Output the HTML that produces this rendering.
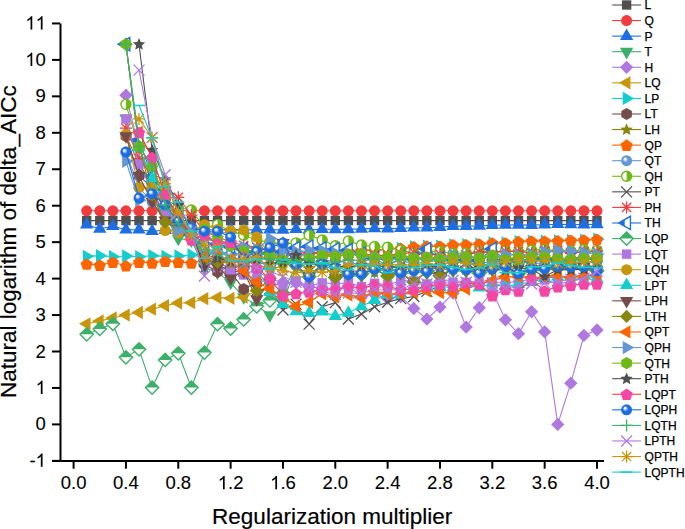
<!DOCTYPE html><html><head><meta charset="utf-8"><style>html,body{margin:0;padding:0;background:#fff;overflow:hidden}svg{display:block}</style></head><body>
<svg width="685" height="529" viewBox="0 0 685 529" font-family='"Liberation Sans", sans-serif'>
<defs>
<radialGradient id="g_steel" cx="0.5" cy="0.5" r="0.5" fx="0.32" fy="0.32"><stop offset="0" stop-color="#fff"/><stop offset="0.14" stop-color="#eef4fc"/><stop offset="0.5" stop-color="#6496D2"/><stop offset="1" stop-color="#6496D2"/></radialGradient>
<radialGradient id="g_blue" cx="0.5" cy="0.5" r="0.5" fx="0.32" fy="0.32"><stop offset="0" stop-color="#fff"/><stop offset="0.14" stop-color="#eef4fc"/><stop offset="0.5" stop-color="#1E6EE1"/><stop offset="1" stop-color="#1E6EE1"/></radialGradient>
<clipPath id="clip"><rect x="61" y="0" width="560" height="460"/></clipPath>
</defs>
<rect width="685" height="529" fill="#fff"/>
<g clip-path="url(#clip)">
<polyline fill="none" stroke="#505050" stroke-width="1.1" points="86.7,220.6 99.8,220.6 112.9,220.6 125.9,220.6 139.0,220.6 152.1,220.6 165.2,220.6 178.3,220.6 191.4,220.6 204.4,220.6 217.5,220.6 230.6,220.6 243.7,220.6 256.8,220.6 269.9,220.6 283.0,220.6 296.0,220.6 309.1,220.6 322.2,220.6 335.3,220.6 348.4,220.6 361.5,220.6 374.6,220.6 387.6,220.6 400.7,220.6 413.8,220.6 426.9,220.6 440.0,220.6 453.1,220.6 466.1,220.6 479.2,220.6 492.3,220.6 505.4,220.6 518.5,220.6 531.6,220.6 544.7,220.6 557.7,220.6 570.8,220.6 583.9,220.6 597.0,220.6"/>
<rect x="81.98" y="215.94" width="9.4" height="9.4" fill="#505050"/>
<rect x="95.07" y="215.94" width="9.4" height="9.4" fill="#505050"/>
<rect x="108.15" y="215.94" width="9.4" height="9.4" fill="#505050"/>
<rect x="121.24" y="215.94" width="9.4" height="9.4" fill="#505050"/>
<rect x="134.32" y="215.94" width="9.4" height="9.4" fill="#505050"/>
<rect x="147.41" y="215.94" width="9.4" height="9.4" fill="#505050"/>
<rect x="160.50" y="215.94" width="9.4" height="9.4" fill="#505050"/>
<rect x="173.58" y="215.94" width="9.4" height="9.4" fill="#505050"/>
<rect x="186.67" y="215.94" width="9.4" height="9.4" fill="#505050"/>
<rect x="199.75" y="215.94" width="9.4" height="9.4" fill="#505050"/>
<rect x="212.84" y="215.94" width="9.4" height="9.4" fill="#505050"/>
<rect x="225.92" y="215.94" width="9.4" height="9.4" fill="#505050"/>
<rect x="239.00" y="215.94" width="9.4" height="9.4" fill="#505050"/>
<rect x="252.09" y="215.94" width="9.4" height="9.4" fill="#505050"/>
<rect x="265.18" y="215.94" width="9.4" height="9.4" fill="#505050"/>
<rect x="278.26" y="215.94" width="9.4" height="9.4" fill="#505050"/>
<rect x="291.34" y="215.94" width="9.4" height="9.4" fill="#505050"/>
<rect x="304.43" y="215.94" width="9.4" height="9.4" fill="#505050"/>
<rect x="317.51" y="215.94" width="9.4" height="9.4" fill="#505050"/>
<rect x="330.60" y="215.94" width="9.4" height="9.4" fill="#505050"/>
<rect x="343.69" y="215.94" width="9.4" height="9.4" fill="#505050"/>
<rect x="356.77" y="215.94" width="9.4" height="9.4" fill="#505050"/>
<rect x="369.85" y="215.94" width="9.4" height="9.4" fill="#505050"/>
<rect x="382.94" y="215.94" width="9.4" height="9.4" fill="#505050"/>
<rect x="396.03" y="215.94" width="9.4" height="9.4" fill="#505050"/>
<rect x="409.11" y="215.94" width="9.4" height="9.4" fill="#505050"/>
<rect x="422.19" y="215.94" width="9.4" height="9.4" fill="#505050"/>
<rect x="435.28" y="215.94" width="9.4" height="9.4" fill="#505050"/>
<rect x="448.36" y="215.94" width="9.4" height="9.4" fill="#505050"/>
<rect x="461.45" y="215.94" width="9.4" height="9.4" fill="#505050"/>
<rect x="474.54" y="215.94" width="9.4" height="9.4" fill="#505050"/>
<rect x="487.62" y="215.94" width="9.4" height="9.4" fill="#505050"/>
<rect x="500.70" y="215.94" width="9.4" height="9.4" fill="#505050"/>
<rect x="513.79" y="215.94" width="9.4" height="9.4" fill="#505050"/>
<rect x="526.87" y="215.94" width="9.4" height="9.4" fill="#505050"/>
<rect x="539.96" y="215.94" width="9.4" height="9.4" fill="#505050"/>
<rect x="553.04" y="215.94" width="9.4" height="9.4" fill="#505050"/>
<rect x="566.13" y="215.94" width="9.4" height="9.4" fill="#505050"/>
<rect x="579.21" y="215.94" width="9.4" height="9.4" fill="#505050"/>
<rect x="592.30" y="215.94" width="9.4" height="9.4" fill="#505050"/>
<polyline fill="none" stroke="#F03C3C" stroke-width="1.1" points="86.7,210.8 99.8,210.8 112.9,210.8 125.9,210.8 139.0,210.8 152.1,210.8 165.2,210.8 178.3,210.8 191.4,210.8 204.4,210.8 217.5,210.8 230.6,210.8 243.7,210.8 256.8,210.8 269.9,210.8 283.0,210.8 296.0,210.8 309.1,210.8 322.2,210.8 335.3,210.8 348.4,210.8 361.5,210.8 374.6,210.8 387.6,210.8 400.7,210.8 413.8,210.8 426.9,210.8 440.0,210.8 453.1,210.8 466.1,210.8 479.2,210.8 492.3,210.8 505.4,210.8 518.5,210.8 531.6,210.8 544.7,210.8 557.7,210.8 570.8,210.8 583.9,210.8 597.0,210.8"/>
<circle cx="86.69" cy="210.80" r="5.5" fill="#F03C3C"/>
<circle cx="99.77" cy="210.80" r="5.5" fill="#F03C3C"/>
<circle cx="112.85" cy="210.80" r="5.5" fill="#F03C3C"/>
<circle cx="125.94" cy="210.80" r="5.5" fill="#F03C3C"/>
<circle cx="139.02" cy="210.80" r="5.5" fill="#F03C3C"/>
<circle cx="152.11" cy="210.80" r="5.5" fill="#F03C3C"/>
<circle cx="165.19" cy="210.80" r="5.5" fill="#F03C3C"/>
<circle cx="178.28" cy="210.80" r="5.5" fill="#F03C3C"/>
<circle cx="191.37" cy="210.80" r="5.5" fill="#F03C3C"/>
<circle cx="204.45" cy="210.80" r="5.5" fill="#F03C3C"/>
<circle cx="217.53" cy="210.80" r="5.5" fill="#F03C3C"/>
<circle cx="230.62" cy="210.80" r="5.5" fill="#F03C3C"/>
<circle cx="243.70" cy="210.80" r="5.5" fill="#F03C3C"/>
<circle cx="256.79" cy="210.80" r="5.5" fill="#F03C3C"/>
<circle cx="269.88" cy="210.80" r="5.5" fill="#F03C3C"/>
<circle cx="282.96" cy="210.80" r="5.5" fill="#F03C3C"/>
<circle cx="296.04" cy="210.80" r="5.5" fill="#F03C3C"/>
<circle cx="309.13" cy="210.80" r="5.5" fill="#F03C3C"/>
<circle cx="322.21" cy="210.80" r="5.5" fill="#F03C3C"/>
<circle cx="335.30" cy="210.80" r="5.5" fill="#F03C3C"/>
<circle cx="348.38" cy="210.80" r="5.5" fill="#F03C3C"/>
<circle cx="361.47" cy="210.80" r="5.5" fill="#F03C3C"/>
<circle cx="374.55" cy="210.80" r="5.5" fill="#F03C3C"/>
<circle cx="387.64" cy="210.80" r="5.5" fill="#F03C3C"/>
<circle cx="400.73" cy="210.80" r="5.5" fill="#F03C3C"/>
<circle cx="413.81" cy="210.80" r="5.5" fill="#F03C3C"/>
<circle cx="426.89" cy="210.80" r="5.5" fill="#F03C3C"/>
<circle cx="439.98" cy="210.80" r="5.5" fill="#F03C3C"/>
<circle cx="453.06" cy="210.80" r="5.5" fill="#F03C3C"/>
<circle cx="466.15" cy="210.80" r="5.5" fill="#F03C3C"/>
<circle cx="479.24" cy="210.80" r="5.5" fill="#F03C3C"/>
<circle cx="492.32" cy="210.80" r="5.5" fill="#F03C3C"/>
<circle cx="505.40" cy="210.80" r="5.5" fill="#F03C3C"/>
<circle cx="518.49" cy="210.80" r="5.5" fill="#F03C3C"/>
<circle cx="531.57" cy="210.80" r="5.5" fill="#F03C3C"/>
<circle cx="544.66" cy="210.80" r="5.5" fill="#F03C3C"/>
<circle cx="557.75" cy="210.80" r="5.5" fill="#F03C3C"/>
<circle cx="570.83" cy="210.80" r="5.5" fill="#F03C3C"/>
<circle cx="583.91" cy="210.80" r="5.5" fill="#F03C3C"/>
<circle cx="597.00" cy="210.80" r="5.5" fill="#F03C3C"/>
<polyline fill="none" stroke="#1E6EE1" stroke-width="1.1" points="86.7,224.7 99.8,229.0 112.9,226.1 125.9,229.8 139.0,229.8 152.1,231.2 165.2,230.1 178.3,230.0 191.4,229.9 204.4,229.8 217.5,229.8 230.6,229.4 243.7,230.1 256.8,229.6 269.9,229.8 283.0,229.9 296.0,229.3 309.1,229.9 322.2,229.2 335.3,229.3 348.4,229.4 361.5,228.8 374.6,228.4 387.6,228.6 400.7,228.3 413.8,227.7 426.9,227.7 440.0,227.2 453.1,226.1 466.1,226.1 479.2,225.9 492.3,225.2 505.4,225.0 518.5,224.9 531.6,225.1 544.7,224.7 557.7,224.3 570.8,224.5 583.9,224.6 597.0,224.3"/>
<path d="M86.69,216.98 L93.34,228.49 L80.03,228.49Z" fill="#1E6EE1"/>
<path d="M99.77,221.35 L106.42,232.87 L93.12,232.87Z" fill="#1E6EE1"/>
<path d="M112.85,218.43 L119.50,229.95 L106.20,229.95Z" fill="#1E6EE1"/>
<path d="M125.94,222.08 L132.59,233.60 L119.29,233.60Z" fill="#1E6EE1"/>
<path d="M139.02,222.08 L145.67,233.60 L132.37,233.60Z" fill="#1E6EE1"/>
<path d="M152.11,223.54 L158.76,235.05 L145.46,235.05Z" fill="#1E6EE1"/>
<path d="M165.19,222.44 L171.84,233.96 L158.54,233.96Z" fill="#1E6EE1"/>
<path d="M178.28,222.32 L184.93,233.84 L171.63,233.84Z" fill="#1E6EE1"/>
<path d="M191.37,222.20 L198.02,233.72 L184.72,233.72Z" fill="#1E6EE1"/>
<path d="M204.45,222.08 L211.10,233.60 L197.80,233.60Z" fill="#1E6EE1"/>
<path d="M217.53,222.08 L224.19,233.60 L210.88,233.60Z" fill="#1E6EE1"/>
<path d="M230.62,221.74 L237.27,233.26 L223.97,233.26Z" fill="#1E6EE1"/>
<path d="M243.70,222.43 L250.35,233.95 L237.05,233.95Z" fill="#1E6EE1"/>
<path d="M256.79,221.91 L263.44,233.42 L250.14,233.42Z" fill="#1E6EE1"/>
<path d="M269.88,222.08 L276.52,233.60 L263.23,233.60Z" fill="#1E6EE1"/>
<path d="M282.96,222.27 L289.61,233.78 L276.31,233.78Z" fill="#1E6EE1"/>
<path d="M296.04,221.60 L302.69,233.12 L289.39,233.12Z" fill="#1E6EE1"/>
<path d="M309.13,222.25 L315.78,233.77 L302.48,233.77Z" fill="#1E6EE1"/>
<path d="M322.21,221.56 L328.86,233.08 L315.56,233.08Z" fill="#1E6EE1"/>
<path d="M335.30,221.64 L341.95,233.16 L328.65,233.16Z" fill="#1E6EE1"/>
<path d="M348.38,221.71 L355.03,233.23 L341.74,233.23Z" fill="#1E6EE1"/>
<path d="M361.47,221.14 L368.12,232.66 L354.82,232.66Z" fill="#1E6EE1"/>
<path d="M374.55,220.72 L381.20,232.24 L367.90,232.24Z" fill="#1E6EE1"/>
<path d="M387.64,220.97 L394.29,232.48 L380.99,232.48Z" fill="#1E6EE1"/>
<path d="M400.73,220.58 L407.38,232.10 L394.08,232.10Z" fill="#1E6EE1"/>
<path d="M413.81,220.00 L420.46,231.52 L407.16,231.52Z" fill="#1E6EE1"/>
<path d="M426.89,220.00 L433.54,231.52 L420.25,231.52Z" fill="#1E6EE1"/>
<path d="M439.98,219.53 L446.63,231.04 L433.33,231.04Z" fill="#1E6EE1"/>
<path d="M453.06,218.43 L459.71,229.95 L446.41,229.95Z" fill="#1E6EE1"/>
<path d="M466.15,218.40 L472.80,229.92 L459.50,229.92Z" fill="#1E6EE1"/>
<path d="M479.24,218.21 L485.88,229.73 L472.59,229.73Z" fill="#1E6EE1"/>
<path d="M492.32,217.55 L498.97,229.07 L485.67,229.07Z" fill="#1E6EE1"/>
<path d="M505.40,217.33 L512.05,228.85 L498.75,228.85Z" fill="#1E6EE1"/>
<path d="M518.49,217.17 L525.14,228.69 L511.84,228.69Z" fill="#1E6EE1"/>
<path d="M531.57,217.39 L538.22,228.90 L524.92,228.90Z" fill="#1E6EE1"/>
<path d="M544.66,216.98 L551.31,228.49 L538.01,228.49Z" fill="#1E6EE1"/>
<path d="M557.75,216.57 L564.39,228.09 L551.10,228.09Z" fill="#1E6EE1"/>
<path d="M570.83,216.78 L577.48,228.30 L564.18,228.30Z" fill="#1E6EE1"/>
<path d="M583.91,216.90 L590.56,228.42 L577.26,228.42Z" fill="#1E6EE1"/>
<path d="M597.00,216.61 L603.65,228.13 L590.35,228.13Z" fill="#1E6EE1"/>
<polyline fill="none" stroke="#3CAF69" stroke-width="1.1" points="125.9,118.2 139.0,162.0 152.1,191.1 165.2,216.6 178.3,238.5 191.4,240.3 204.4,267.7 217.5,272.4 230.6,282.6 243.7,297.2 256.8,305.6 269.9,315.0 283.0,302.3 296.0,267.3 309.1,278.6 322.2,265.8 335.3,269.5 348.4,276.2 361.5,276.0 374.6,271.0 387.6,270.2 400.7,274.8 413.8,272.3 426.9,273.2 440.0,268.2 453.1,271.0 466.1,271.3 479.2,275.0 492.3,270.3 505.4,268.3 518.5,275.6 531.6,270.9 544.7,270.4 557.7,268.3 570.8,268.8 583.9,268.4 597.0,272.8"/>
<path d="M125.94,125.90 L119.29,114.38 L132.59,114.38Z" fill="#3CAF69"/>
<path d="M139.02,169.64 L132.37,158.12 L145.67,158.12Z" fill="#3CAF69"/>
<path d="M152.11,198.80 L145.46,187.28 L158.76,187.28Z" fill="#3CAF69"/>
<path d="M165.19,224.31 L158.54,212.80 L171.84,212.80Z" fill="#3CAF69"/>
<path d="M178.28,246.18 L171.63,234.67 L184.93,234.67Z" fill="#3CAF69"/>
<path d="M191.37,248.01 L184.72,236.49 L198.02,236.49Z" fill="#3CAF69"/>
<path d="M204.45,275.34 L197.80,263.83 L211.10,263.83Z" fill="#3CAF69"/>
<path d="M217.53,280.08 L210.88,268.56 L224.19,268.56Z" fill="#3CAF69"/>
<path d="M230.62,290.29 L223.97,278.77 L237.27,278.77Z" fill="#3CAF69"/>
<path d="M243.70,304.87 L237.05,293.35 L250.35,293.35Z" fill="#3CAF69"/>
<path d="M256.79,313.25 L250.14,301.73 L263.44,301.73Z" fill="#3CAF69"/>
<path d="M269.88,322.73 L263.23,311.21 L276.52,311.21Z" fill="#3CAF69"/>
<path d="M282.96,309.97 L276.31,298.45 L289.61,298.45Z" fill="#3CAF69"/>
<path d="M296.04,274.98 L289.39,263.46 L302.69,263.46Z" fill="#3CAF69"/>
<path d="M309.13,286.28 L302.48,274.76 L315.78,274.76Z" fill="#3CAF69"/>
<path d="M322.21,273.52 L315.56,262.00 L328.86,262.00Z" fill="#3CAF69"/>
<path d="M335.30,277.17 L328.65,265.65 L341.95,265.65Z" fill="#3CAF69"/>
<path d="M348.38,283.88 L341.74,272.36 L355.03,272.36Z" fill="#3CAF69"/>
<path d="M361.47,283.73 L354.82,272.21 L368.12,272.21Z" fill="#3CAF69"/>
<path d="M374.55,278.65 L367.90,267.13 L381.20,267.13Z" fill="#3CAF69"/>
<path d="M387.64,277.90 L380.99,266.38 L394.29,266.38Z" fill="#3CAF69"/>
<path d="M400.73,282.44 L394.08,270.92 L407.38,270.92Z" fill="#3CAF69"/>
<path d="M413.81,279.99 L407.16,268.47 L420.46,268.47Z" fill="#3CAF69"/>
<path d="M426.89,280.89 L420.25,269.38 L433.54,269.38Z" fill="#3CAF69"/>
<path d="M439.98,275.85 L433.33,264.33 L446.63,264.33Z" fill="#3CAF69"/>
<path d="M453.06,278.64 L446.41,267.12 L459.71,267.12Z" fill="#3CAF69"/>
<path d="M466.15,278.99 L459.50,267.47 L472.80,267.47Z" fill="#3CAF69"/>
<path d="M479.24,282.70 L472.59,271.18 L485.88,271.18Z" fill="#3CAF69"/>
<path d="M492.32,278.01 L485.67,266.49 L498.97,266.49Z" fill="#3CAF69"/>
<path d="M505.40,275.97 L498.75,264.45 L512.05,264.45Z" fill="#3CAF69"/>
<path d="M518.49,283.31 L511.84,271.79 L525.14,271.79Z" fill="#3CAF69"/>
<path d="M531.57,278.63 L524.92,267.11 L538.22,267.11Z" fill="#3CAF69"/>
<path d="M544.66,278.12 L538.01,266.60 L551.31,266.60Z" fill="#3CAF69"/>
<path d="M557.75,275.94 L551.10,264.43 L564.39,264.43Z" fill="#3CAF69"/>
<path d="M570.83,276.49 L564.18,264.97 L577.48,264.97Z" fill="#3CAF69"/>
<path d="M583.91,276.11 L577.26,264.59 L590.56,264.59Z" fill="#3CAF69"/>
<path d="M597.00,280.45 L590.35,268.93 L603.65,268.93Z" fill="#3CAF69"/>
<polyline fill="none" stroke="#AF78E1" stroke-width="1.1" points="125.9,95.3 139.0,147.4 152.1,183.8 165.2,213.0 178.3,227.6 191.4,231.2 204.4,260.4 217.5,264.0 230.6,267.1 243.7,273.0 256.8,271.2 269.9,278.6 283.0,283.1 296.0,282.9 309.1,286.9 322.2,288.3 335.3,289.5 348.4,285.8 361.5,296.8 374.6,294.5 387.6,298.4 400.7,296.8 413.8,308.5 426.9,319.1 440.0,307.0 453.1,293.2 466.1,327.1 479.2,307.8 492.3,291.0 505.4,319.8 518.5,333.6 531.6,311.8 544.7,331.8 557.7,424.4 570.8,383.2 583.9,335.5 597.0,330.0"/>
<path d="M125.94,88.61 L132.59,95.26 L125.94,101.91 L119.29,95.26Z" fill="#AF78E1"/>
<path d="M139.02,140.73 L145.67,147.38 L139.02,154.03 L132.37,147.38Z" fill="#AF78E1"/>
<path d="M152.11,177.18 L158.76,183.83 L152.11,190.48 L145.46,183.83Z" fill="#AF78E1"/>
<path d="M165.19,206.34 L171.84,212.99 L165.19,219.64 L158.54,212.99Z" fill="#AF78E1"/>
<path d="M178.28,220.92 L184.93,227.57 L178.28,234.22 L171.63,227.57Z" fill="#AF78E1"/>
<path d="M191.37,224.56 L198.02,231.21 L191.37,237.86 L184.72,231.21Z" fill="#AF78E1"/>
<path d="M204.45,253.72 L211.10,260.38 L204.45,267.02 L197.80,260.38Z" fill="#AF78E1"/>
<path d="M217.53,257.37 L224.19,264.02 L217.53,270.67 L210.88,264.02Z" fill="#AF78E1"/>
<path d="M230.62,260.49 L237.27,267.14 L230.62,273.79 L223.97,267.14Z" fill="#AF78E1"/>
<path d="M243.70,266.35 L250.35,273.00 L243.70,279.65 L237.05,273.00Z" fill="#AF78E1"/>
<path d="M256.79,264.53 L263.44,271.18 L256.79,277.83 L250.14,271.18Z" fill="#AF78E1"/>
<path d="M269.88,271.95 L276.52,278.60 L269.88,285.25 L263.23,278.60Z" fill="#AF78E1"/>
<path d="M282.96,276.45 L289.61,283.10 L282.96,289.75 L276.31,283.10Z" fill="#AF78E1"/>
<path d="M296.04,276.21 L302.69,282.86 L296.04,289.51 L289.39,282.86Z" fill="#AF78E1"/>
<path d="M309.13,280.22 L315.78,286.87 L309.13,293.52 L302.48,286.87Z" fill="#AF78E1"/>
<path d="M322.21,281.62 L328.86,288.27 L322.21,294.92 L315.56,288.27Z" fill="#AF78E1"/>
<path d="M335.30,282.88 L341.95,289.53 L335.30,296.18 L328.65,289.53Z" fill="#AF78E1"/>
<path d="M348.38,279.16 L355.03,285.81 L348.38,292.46 L341.74,285.81Z" fill="#AF78E1"/>
<path d="M361.47,290.13 L368.12,296.78 L361.47,303.43 L354.82,296.78Z" fill="#AF78E1"/>
<path d="M374.55,287.86 L381.20,294.51 L374.55,301.16 L367.90,294.51Z" fill="#AF78E1"/>
<path d="M387.64,291.73 L394.29,298.38 L387.64,305.03 L380.99,298.38Z" fill="#AF78E1"/>
<path d="M400.73,290.17 L407.38,296.82 L400.73,303.47 L394.08,296.82Z" fill="#AF78E1"/>
<path d="M413.81,301.84 L420.46,308.49 L413.81,315.14 L407.16,308.49Z" fill="#AF78E1"/>
<path d="M426.89,312.41 L433.54,319.06 L426.89,325.71 L420.25,319.06Z" fill="#AF78E1"/>
<path d="M439.98,300.38 L446.63,307.03 L439.98,313.68 L433.33,307.03Z" fill="#AF78E1"/>
<path d="M453.06,286.53 L459.71,293.18 L453.06,299.83 L446.41,293.18Z" fill="#AF78E1"/>
<path d="M466.15,320.43 L472.80,327.08 L466.15,333.73 L459.50,327.08Z" fill="#AF78E1"/>
<path d="M479.24,301.11 L485.88,307.76 L479.24,314.41 L472.59,307.76Z" fill="#AF78E1"/>
<path d="M492.32,284.34 L498.97,290.99 L492.32,297.64 L485.67,290.99Z" fill="#AF78E1"/>
<path d="M505.40,313.14 L512.05,319.79 L505.40,326.44 L498.75,319.79Z" fill="#AF78E1"/>
<path d="M518.49,326.99 L525.14,333.64 L518.49,340.29 L511.84,333.64Z" fill="#AF78E1"/>
<path d="M531.57,305.12 L538.22,311.77 L531.57,318.42 L524.92,311.77Z" fill="#AF78E1"/>
<path d="M544.66,325.17 L551.31,331.82 L544.66,338.47 L538.01,331.82Z" fill="#AF78E1"/>
<path d="M557.75,417.75 L564.39,424.40 L557.75,431.05 L551.10,424.40Z" fill="#AF78E1"/>
<path d="M570.83,376.56 L577.48,383.21 L570.83,389.86 L564.18,383.21Z" fill="#AF78E1"/>
<path d="M583.91,328.81 L590.56,335.46 L583.91,342.11 L577.26,335.46Z" fill="#AF78E1"/>
<path d="M597.00,323.34 L603.65,329.99 L597.00,336.64 L590.35,329.99Z" fill="#AF78E1"/>
<polyline fill="none" stroke="#C8960A" stroke-width="1.1" points="86.7,323.8 99.8,320.9 112.9,318.0 125.9,315.0 139.0,312.5 152.1,309.2 165.2,305.6 178.3,303.0 191.4,302.7 204.4,298.6 217.5,297.6 230.6,298.3 243.7,297.2 256.8,290.6 269.9,288.8 283.0,296.8 296.0,306.3 309.1,302.3 322.2,293.5 335.3,296.8 348.4,294.6 361.5,297.6 374.6,291.4 387.6,293.5 400.7,293.7 413.8,292.4 426.9,290.7 440.0,292.5 453.1,292.6 466.1,288.8 479.2,284.0 492.3,280.8 505.4,276.7 518.5,276.8 531.6,277.4 544.7,277.9 557.7,275.9 570.8,277.4 583.9,276.3 597.0,275.0"/>
<path d="M79.01,323.80 L90.52,317.15 L90.52,330.45Z" fill="#C8960A"/>
<path d="M92.09,320.88 L103.61,314.23 L103.61,327.53Z" fill="#C8960A"/>
<path d="M105.18,317.97 L116.69,311.32 L116.69,324.62Z" fill="#C8960A"/>
<path d="M118.26,315.05 L129.78,308.40 L129.78,321.70Z" fill="#C8960A"/>
<path d="M131.35,312.50 L142.86,305.85 L142.86,319.15Z" fill="#C8960A"/>
<path d="M144.43,309.22 L155.95,302.57 L155.95,315.87Z" fill="#C8960A"/>
<path d="M157.52,305.57 L169.03,298.92 L169.03,312.22Z" fill="#C8960A"/>
<path d="M170.60,303.02 L182.12,296.37 L182.12,309.67Z" fill="#C8960A"/>
<path d="M183.69,302.66 L195.20,296.01 L195.20,309.31Z" fill="#C8960A"/>
<path d="M196.77,298.65 L208.29,292.00 L208.29,305.30Z" fill="#C8960A"/>
<path d="M209.86,297.55 L221.37,290.90 L221.37,304.20Z" fill="#C8960A"/>
<path d="M222.94,298.28 L234.46,291.63 L234.46,304.93Z" fill="#C8960A"/>
<path d="M236.03,297.19 L247.54,290.54 L247.54,303.84Z" fill="#C8960A"/>
<path d="M249.11,290.63 L260.63,283.98 L260.63,297.28Z" fill="#C8960A"/>
<path d="M262.20,288.81 L273.71,282.16 L273.71,295.46Z" fill="#C8960A"/>
<path d="M275.28,296.82 L286.80,290.17 L286.80,303.47Z" fill="#C8960A"/>
<path d="M288.37,306.30 L299.88,299.65 L299.88,312.95Z" fill="#C8960A"/>
<path d="M301.45,302.29 L312.97,295.64 L312.97,308.94Z" fill="#C8960A"/>
<path d="M314.54,293.54 L326.05,286.89 L326.05,300.19Z" fill="#C8960A"/>
<path d="M327.62,296.82 L339.14,290.17 L339.14,303.47Z" fill="#C8960A"/>
<path d="M340.71,294.64 L352.22,287.99 L352.22,301.29Z" fill="#C8960A"/>
<path d="M353.79,297.55 L365.31,290.90 L365.31,304.20Z" fill="#C8960A"/>
<path d="M366.88,291.36 L378.39,284.71 L378.39,298.01Z" fill="#C8960A"/>
<path d="M379.96,293.54 L391.48,286.89 L391.48,300.19Z" fill="#C8960A"/>
<path d="M393.05,293.69 L404.56,287.04 L404.56,300.34Z" fill="#C8960A"/>
<path d="M406.13,292.40 L417.65,285.75 L417.65,299.05Z" fill="#C8960A"/>
<path d="M419.22,290.67 L430.73,284.02 L430.73,297.32Z" fill="#C8960A"/>
<path d="M432.30,292.45 L443.82,285.80 L443.82,299.10Z" fill="#C8960A"/>
<path d="M445.39,292.65 L456.90,286.00 L456.90,299.30Z" fill="#C8960A"/>
<path d="M458.47,288.81 L469.99,282.16 L469.99,295.46Z" fill="#C8960A"/>
<path d="M471.56,284.01 L483.07,277.36 L483.07,290.66Z" fill="#C8960A"/>
<path d="M484.64,280.79 L496.16,274.14 L496.16,287.44Z" fill="#C8960A"/>
<path d="M497.73,276.69 L509.24,270.04 L509.24,283.34Z" fill="#C8960A"/>
<path d="M510.81,276.78 L522.33,270.13 L522.33,283.43Z" fill="#C8960A"/>
<path d="M523.90,277.42 L535.41,270.77 L535.41,284.07Z" fill="#C8960A"/>
<path d="M536.98,277.89 L548.50,271.24 L548.50,284.54Z" fill="#C8960A"/>
<path d="M550.07,275.87 L561.58,269.22 L561.58,282.52Z" fill="#C8960A"/>
<path d="M563.15,277.41 L574.67,270.76 L574.67,284.06Z" fill="#C8960A"/>
<path d="M576.24,276.34 L587.75,269.69 L587.75,282.99Z" fill="#C8960A"/>
<path d="M589.32,274.95 L600.84,268.31 L600.84,281.60Z" fill="#C8960A"/>
<polyline fill="none" stroke="#14CDCD" stroke-width="1.1" points="86.7,256.4 99.8,255.6 112.9,256.7 125.9,256.0 139.0,256.7 152.1,255.6 165.2,256.4 178.3,256.0 191.4,254.9 204.4,253.8 217.5,253.8 230.6,254.8 243.7,253.4 256.8,254.6 269.9,253.8 283.0,255.4 296.0,255.5 309.1,253.6 322.2,253.0 335.3,252.4 348.4,251.2 361.5,250.4 374.6,250.3 387.6,248.8 400.7,248.3 413.8,246.9 426.9,246.2 440.0,246.2 453.1,244.9 466.1,244.7 479.2,244.0 492.3,243.0 505.4,243.0 518.5,241.6 531.6,241.1 544.7,241.2 557.7,240.8 570.8,240.4 583.9,240.1 597.0,239.2"/>
<path d="M94.36,256.37 L82.85,263.02 L82.85,249.72Z" fill="#14CDCD"/>
<path d="M107.45,255.64 L95.93,262.29 L95.93,248.99Z" fill="#14CDCD"/>
<path d="M120.53,256.73 L109.02,263.38 L109.02,250.08Z" fill="#14CDCD"/>
<path d="M133.62,256.00 L122.10,262.65 L122.10,249.35Z" fill="#14CDCD"/>
<path d="M146.70,256.73 L135.19,263.38 L135.19,250.08Z" fill="#14CDCD"/>
<path d="M159.79,255.64 L148.27,262.29 L148.27,248.99Z" fill="#14CDCD"/>
<path d="M172.87,256.37 L161.36,263.02 L161.36,249.72Z" fill="#14CDCD"/>
<path d="M185.96,256.00 L174.44,262.65 L174.44,249.35Z" fill="#14CDCD"/>
<path d="M199.04,254.91 L187.53,261.56 L187.53,248.26Z" fill="#14CDCD"/>
<path d="M212.13,253.81 L200.61,260.46 L200.61,247.16Z" fill="#14CDCD"/>
<path d="M225.21,253.81 L213.70,260.46 L213.70,247.16Z" fill="#14CDCD"/>
<path d="M238.30,254.82 L226.78,261.47 L226.78,248.17Z" fill="#14CDCD"/>
<path d="M251.38,253.38 L239.87,260.03 L239.87,246.73Z" fill="#14CDCD"/>
<path d="M264.47,254.59 L252.95,261.24 L252.95,247.94Z" fill="#14CDCD"/>
<path d="M277.55,253.81 L266.04,260.46 L266.04,247.16Z" fill="#14CDCD"/>
<path d="M290.64,255.40 L279.12,262.05 L279.12,248.75Z" fill="#14CDCD"/>
<path d="M303.72,255.51 L292.21,262.16 L292.21,248.86Z" fill="#14CDCD"/>
<path d="M316.81,253.57 L305.29,260.22 L305.29,246.92Z" fill="#14CDCD"/>
<path d="M329.89,253.01 L318.38,259.66 L318.38,246.36Z" fill="#14CDCD"/>
<path d="M342.98,252.36 L331.46,259.01 L331.46,245.71Z" fill="#14CDCD"/>
<path d="M356.06,251.22 L344.55,257.87 L344.55,244.57Z" fill="#14CDCD"/>
<path d="M369.15,250.42 L357.63,257.07 L357.63,243.77Z" fill="#14CDCD"/>
<path d="M382.23,250.28 L370.72,256.93 L370.72,243.63Z" fill="#14CDCD"/>
<path d="M395.32,248.80 L383.80,255.45 L383.80,242.15Z" fill="#14CDCD"/>
<path d="M408.40,248.35 L396.89,255.00 L396.89,241.70Z" fill="#14CDCD"/>
<path d="M421.49,246.89 L409.97,253.54 L409.97,240.24Z" fill="#14CDCD"/>
<path d="M434.57,246.17 L423.06,252.82 L423.06,239.52Z" fill="#14CDCD"/>
<path d="M447.66,246.18 L436.14,252.83 L436.14,239.53Z" fill="#14CDCD"/>
<path d="M460.74,244.85 L449.23,251.50 L449.23,238.20Z" fill="#14CDCD"/>
<path d="M473.83,244.70 L462.31,251.35 L462.31,238.05Z" fill="#14CDCD"/>
<path d="M486.91,244.04 L475.40,250.69 L475.40,237.39Z" fill="#14CDCD"/>
<path d="M500.00,243.00 L488.48,249.65 L488.48,236.35Z" fill="#14CDCD"/>
<path d="M513.08,242.97 L501.57,249.62 L501.57,236.32Z" fill="#14CDCD"/>
<path d="M526.17,241.59 L514.65,248.24 L514.65,234.94Z" fill="#14CDCD"/>
<path d="M539.25,241.06 L527.74,247.71 L527.74,234.41Z" fill="#14CDCD"/>
<path d="M552.34,241.23 L540.82,247.88 L540.82,234.58Z" fill="#14CDCD"/>
<path d="M565.42,240.80 L553.91,247.45 L553.91,234.15Z" fill="#14CDCD"/>
<path d="M578.51,240.39 L566.99,247.04 L566.99,233.74Z" fill="#14CDCD"/>
<path d="M591.59,240.10 L580.08,246.75 L580.08,233.45Z" fill="#14CDCD"/>
<path d="M604.68,239.23 L593.16,245.88 L593.16,232.58Z" fill="#14CDCD"/>
<polyline fill="none" stroke="#784B4B" stroke-width="1.1" points="125.9,136.1 139.0,175.8 152.1,187.5 165.2,220.3 178.3,231.2 191.4,234.9 204.4,264.0 217.5,272.0 230.6,272.0 243.7,289.2 256.8,282.2 269.9,255.6 283.0,260.4 296.0,260.8 309.1,258.6 322.2,255.6 335.3,256.5 348.4,254.7 361.5,254.2 374.6,257.8 387.6,257.3 400.7,255.6 413.8,258.6 426.9,257.8 440.0,258.9 453.1,257.9 466.1,257.5 479.2,258.3 492.3,255.8 505.4,259.6 518.5,257.4 531.6,257.2 544.7,256.7 557.7,259.0 570.8,259.6 583.9,258.3 597.0,258.2"/>
<path d="M125.94,129.98 L131.22,133.03 L131.22,139.13 L125.94,142.18 L120.66,139.13 L120.66,133.03Z" fill="#784B4B"/>
<path d="M139.02,169.71 L144.31,172.76 L144.31,178.86 L139.02,181.91 L133.74,178.86 L133.74,172.76Z" fill="#784B4B"/>
<path d="M152.11,181.37 L157.39,184.42 L157.39,190.52 L152.11,193.57 L146.83,190.52 L146.83,184.42Z" fill="#784B4B"/>
<path d="M165.19,214.18 L170.48,217.23 L170.48,223.33 L165.19,226.38 L159.91,223.33 L159.91,217.23Z" fill="#784B4B"/>
<path d="M178.28,225.11 L183.56,228.16 L183.56,234.26 L178.28,237.31 L173.00,234.26 L173.00,228.16Z" fill="#784B4B"/>
<path d="M191.37,228.76 L196.65,231.81 L196.65,237.91 L191.37,240.96 L186.08,237.91 L186.08,231.81Z" fill="#784B4B"/>
<path d="M204.45,257.92 L209.73,260.97 L209.73,267.07 L204.45,270.12 L199.17,267.07 L199.17,260.97Z" fill="#784B4B"/>
<path d="M217.53,265.94 L222.82,268.99 L222.82,275.09 L217.53,278.14 L212.25,275.09 L212.25,268.99Z" fill="#784B4B"/>
<path d="M230.62,265.94 L235.90,268.99 L235.90,275.09 L230.62,278.14 L225.34,275.09 L225.34,268.99Z" fill="#784B4B"/>
<path d="M243.70,283.07 L248.99,286.12 L248.99,292.22 L243.70,295.27 L238.42,292.22 L238.42,286.12Z" fill="#784B4B"/>
<path d="M256.79,276.14 L262.07,279.19 L262.07,285.30 L256.79,288.35 L251.51,285.30 L251.51,279.19Z" fill="#784B4B"/>
<path d="M269.88,249.54 L275.16,252.59 L275.16,258.69 L269.88,261.74 L264.59,258.69 L264.59,252.59Z" fill="#784B4B"/>
<path d="M282.96,254.28 L288.24,257.32 L288.24,263.43 L282.96,266.48 L277.68,263.43 L277.68,257.32Z" fill="#784B4B"/>
<path d="M296.04,254.66 L301.33,257.71 L301.33,263.81 L296.04,266.86 L290.76,263.81 L290.76,257.71Z" fill="#784B4B"/>
<path d="M309.13,252.45 L314.41,255.50 L314.41,261.60 L309.13,264.65 L303.85,261.60 L303.85,255.50Z" fill="#784B4B"/>
<path d="M322.21,249.54 L327.50,252.59 L327.50,258.69 L322.21,261.74 L316.93,258.69 L316.93,252.59Z" fill="#784B4B"/>
<path d="M335.30,250.35 L340.58,253.40 L340.58,259.50 L335.30,262.55 L330.02,259.50 L330.02,253.40Z" fill="#784B4B"/>
<path d="M348.38,248.57 L353.67,251.62 L353.67,257.72 L348.38,260.77 L343.10,257.72 L343.10,251.62Z" fill="#784B4B"/>
<path d="M361.47,248.08 L366.75,251.13 L366.75,257.23 L361.47,260.28 L356.19,257.23 L356.19,251.13Z" fill="#784B4B"/>
<path d="M374.55,251.72 L379.84,254.77 L379.84,260.87 L374.55,263.92 L369.27,260.87 L369.27,254.77Z" fill="#784B4B"/>
<path d="M387.64,251.19 L392.92,254.24 L392.92,260.34 L387.64,263.39 L382.36,260.34 L382.36,254.24Z" fill="#784B4B"/>
<path d="M400.73,249.47 L406.01,252.52 L406.01,258.62 L400.73,261.67 L395.44,258.62 L395.44,252.52Z" fill="#784B4B"/>
<path d="M413.81,252.46 L419.09,255.51 L419.09,261.61 L413.81,264.66 L408.53,261.61 L408.53,255.51Z" fill="#784B4B"/>
<path d="M426.89,251.69 L432.18,254.74 L432.18,260.84 L426.89,263.89 L421.61,260.84 L421.61,254.74Z" fill="#784B4B"/>
<path d="M439.98,252.85 L445.26,255.90 L445.26,262.00 L439.98,265.05 L434.70,262.00 L434.70,255.90Z" fill="#784B4B"/>
<path d="M453.06,251.75 L458.35,254.80 L458.35,260.90 L453.06,263.95 L447.78,260.90 L447.78,254.80Z" fill="#784B4B"/>
<path d="M466.15,251.36 L471.43,254.41 L471.43,260.51 L466.15,263.56 L460.87,260.51 L460.87,254.41Z" fill="#784B4B"/>
<path d="M479.24,252.23 L484.52,255.28 L484.52,261.38 L479.24,264.43 L473.95,261.38 L473.95,255.28Z" fill="#784B4B"/>
<path d="M492.32,249.72 L497.60,252.77 L497.60,258.87 L492.32,261.92 L487.04,258.87 L487.04,252.77Z" fill="#784B4B"/>
<path d="M505.40,253.49 L510.69,256.54 L510.69,262.64 L505.40,265.69 L500.12,262.64 L500.12,256.54Z" fill="#784B4B"/>
<path d="M518.49,251.32 L523.77,254.37 L523.77,260.47 L518.49,263.52 L513.21,260.47 L513.21,254.37Z" fill="#784B4B"/>
<path d="M531.57,251.07 L536.86,254.12 L536.86,260.22 L531.57,263.27 L526.29,260.22 L526.29,254.12Z" fill="#784B4B"/>
<path d="M544.66,250.62 L549.94,253.67 L549.94,259.77 L544.66,262.82 L539.38,259.77 L539.38,253.67Z" fill="#784B4B"/>
<path d="M557.75,252.85 L563.03,255.90 L563.03,262.00 L557.75,265.05 L552.46,262.00 L552.46,255.90Z" fill="#784B4B"/>
<path d="M570.83,253.49 L576.11,256.54 L576.11,262.64 L570.83,265.69 L565.55,262.64 L565.55,256.54Z" fill="#784B4B"/>
<path d="M583.91,252.19 L589.20,255.24 L589.20,261.34 L583.91,264.39 L578.63,261.34 L578.63,255.24Z" fill="#784B4B"/>
<path d="M597.00,252.09 L602.28,255.14 L602.28,261.24 L597.00,264.29 L591.72,261.24 L591.72,255.14Z" fill="#784B4B"/>
<polyline fill="none" stroke="#87870F" stroke-width="1.1" points="125.9,135.4 139.0,164.1 152.1,183.8 165.2,209.3 178.3,225.7 191.4,234.9 204.4,256.7 217.5,260.4 230.6,264.0 243.7,268.5 256.8,264.1 269.9,269.6 283.0,265.7 296.0,262.1 309.1,268.6 322.2,263.1 335.3,267.7 348.4,266.7 361.5,264.7 374.6,272.4 387.6,266.3 400.7,268.4 413.8,267.8 426.9,270.0 440.0,265.0 453.1,267.9 466.1,269.5 479.2,267.3 492.3,267.5 505.4,268.5 518.5,266.0 531.6,267.6 544.7,267.8 557.7,271.4 570.8,267.5 583.9,270.9 597.0,267.7"/>
<path d="M125.94,129.15 L127.70,133.22 L132.12,133.64 L128.79,136.58 L129.76,140.91 L125.94,138.65 L122.12,140.91 L123.09,136.58 L119.76,133.64 L124.18,133.22Z" fill="#87870F"/>
<path d="M139.02,157.95 L140.79,162.02 L145.21,162.44 L141.88,165.37 L142.85,169.71 L139.02,167.45 L135.20,169.71 L136.17,165.37 L132.84,162.44 L137.26,162.02Z" fill="#87870F"/>
<path d="M152.11,177.63 L153.87,181.70 L158.29,182.12 L154.96,185.06 L155.93,189.39 L152.11,187.13 L148.29,189.39 L149.26,185.06 L145.93,182.12 L150.35,181.70Z" fill="#87870F"/>
<path d="M165.19,203.14 L166.96,207.22 L171.38,207.64 L168.05,210.57 L169.02,214.90 L165.19,212.64 L161.37,214.90 L162.34,210.57 L159.01,207.64 L163.43,207.22Z" fill="#87870F"/>
<path d="M178.28,219.55 L180.04,223.62 L184.46,224.04 L181.13,226.97 L182.10,231.31 L178.28,229.05 L174.46,231.31 L175.43,226.97 L172.10,224.04 L176.52,223.62Z" fill="#87870F"/>
<path d="M191.37,228.66 L193.13,232.73 L197.55,233.15 L194.22,236.09 L195.19,240.42 L191.37,238.16 L187.54,240.42 L188.51,236.09 L185.18,233.15 L189.60,232.73Z" fill="#87870F"/>
<path d="M204.45,250.53 L206.21,254.60 L210.63,255.02 L207.30,257.96 L208.27,262.29 L204.45,260.03 L200.63,262.29 L201.60,257.96 L198.27,255.02 L202.69,254.60Z" fill="#87870F"/>
<path d="M217.53,254.18 L219.30,258.25 L223.72,258.67 L220.39,261.60 L221.36,265.93 L217.53,263.68 L213.71,265.93 L214.68,261.60 L211.35,258.67 L215.77,258.25Z" fill="#87870F"/>
<path d="M230.62,257.82 L232.38,261.89 L236.80,262.31 L233.47,265.25 L234.44,269.58 L230.62,267.32 L226.80,269.58 L227.77,265.25 L224.44,262.31 L228.86,261.89Z" fill="#87870F"/>
<path d="M243.70,262.28 L245.47,266.35 L249.89,266.77 L246.56,269.70 L247.53,274.04 L243.70,271.78 L239.88,274.04 L240.85,269.70 L237.52,266.77 L241.94,266.35Z" fill="#87870F"/>
<path d="M256.79,257.95 L258.55,262.02 L262.97,262.44 L259.64,265.37 L260.61,269.71 L256.79,267.45 L252.97,269.71 L253.94,265.37 L250.61,262.44 L255.03,262.02Z" fill="#87870F"/>
<path d="M269.88,263.39 L271.64,267.46 L276.06,267.88 L272.73,270.82 L273.70,275.15 L269.88,272.89 L266.05,275.15 L267.02,270.82 L263.69,267.88 L268.11,267.46Z" fill="#87870F"/>
<path d="M282.96,259.52 L284.72,263.59 L289.14,264.01 L285.81,266.95 L286.78,271.28 L282.96,269.02 L279.14,271.28 L280.11,266.95 L276.78,264.01 L281.20,263.59Z" fill="#87870F"/>
<path d="M296.04,255.93 L297.81,260.00 L302.23,260.42 L298.90,263.36 L299.87,267.69 L296.04,265.43 L292.22,267.69 L293.19,263.36 L289.86,260.42 L294.28,260.00Z" fill="#87870F"/>
<path d="M309.13,262.39 L310.89,266.46 L315.31,266.88 L311.98,269.82 L312.95,274.15 L309.13,271.89 L305.31,274.15 L306.28,269.82 L302.95,266.88 L307.37,266.46Z" fill="#87870F"/>
<path d="M322.21,256.86 L323.98,260.93 L328.40,261.35 L325.07,264.29 L326.04,268.62 L322.21,266.36 L318.39,268.62 L319.36,264.29 L316.03,261.35 L320.45,260.93Z" fill="#87870F"/>
<path d="M335.30,261.46 L337.06,265.54 L341.48,265.96 L338.15,268.89 L339.12,273.22 L335.30,270.96 L331.48,273.22 L332.45,268.89 L329.12,265.96 L333.54,265.54Z" fill="#87870F"/>
<path d="M348.38,260.46 L350.15,264.53 L354.57,264.95 L351.24,267.88 L352.21,272.22 L348.38,269.96 L344.56,272.22 L345.53,267.88 L342.20,264.95 L346.62,264.53Z" fill="#87870F"/>
<path d="M361.47,258.47 L363.23,262.54 L367.65,262.96 L364.32,265.90 L365.29,270.23 L361.47,267.97 L357.65,270.23 L358.62,265.90 L355.29,262.96 L359.71,262.54Z" fill="#87870F"/>
<path d="M374.55,266.21 L376.32,270.29 L380.74,270.71 L377.41,273.64 L378.38,277.97 L374.55,275.71 L370.73,277.97 L371.70,273.64 L368.37,270.71 L372.79,270.29Z" fill="#87870F"/>
<path d="M387.64,260.13 L389.40,264.21 L393.82,264.62 L390.49,267.56 L391.46,271.89 L387.64,269.63 L383.82,271.89 L384.79,267.56 L381.46,264.62 L385.88,264.21Z" fill="#87870F"/>
<path d="M400.73,262.23 L402.49,266.30 L406.91,266.72 L403.58,269.66 L404.55,273.99 L400.73,271.73 L396.90,273.99 L397.87,269.66 L394.54,266.72 L398.96,266.30Z" fill="#87870F"/>
<path d="M413.81,261.65 L415.57,265.72 L419.99,266.14 L416.66,269.07 L417.63,273.40 L413.81,271.15 L409.99,273.40 L410.96,269.07 L407.63,266.14 L412.05,265.72Z" fill="#87870F"/>
<path d="M426.89,263.81 L428.66,267.88 L433.08,268.30 L429.75,271.24 L430.72,275.57 L426.89,273.31 L423.07,275.57 L424.04,271.24 L420.71,268.30 L425.13,267.88Z" fill="#87870F"/>
<path d="M439.98,258.75 L441.74,262.82 L446.16,263.24 L442.83,266.18 L443.80,270.51 L439.98,268.25 L436.16,270.51 L437.13,266.18 L433.80,263.24 L438.22,262.82Z" fill="#87870F"/>
<path d="M453.06,261.75 L454.83,265.82 L459.25,266.24 L455.92,269.17 L456.89,273.51 L453.06,271.25 L449.24,273.51 L450.21,269.17 L446.88,266.24 L451.30,265.82Z" fill="#87870F"/>
<path d="M466.15,263.29 L467.91,267.36 L472.33,267.78 L469.00,270.71 L469.97,275.05 L466.15,272.79 L462.33,275.05 L463.30,270.71 L459.97,267.78 L464.39,267.36Z" fill="#87870F"/>
<path d="M479.24,261.13 L481.00,265.20 L485.42,265.62 L482.09,268.56 L483.06,272.89 L479.24,270.63 L475.41,272.89 L476.38,268.56 L473.05,265.62 L477.47,265.20Z" fill="#87870F"/>
<path d="M492.32,261.32 L494.08,265.39 L498.50,265.81 L495.17,268.75 L496.14,273.08 L492.32,270.82 L488.50,273.08 L489.47,268.75 L486.14,265.81 L490.56,265.39Z" fill="#87870F"/>
<path d="M505.40,262.34 L507.17,266.41 L511.59,266.83 L508.26,269.76 L509.23,274.09 L505.40,271.84 L501.58,274.09 L502.55,269.76 L499.22,266.83 L503.64,266.41Z" fill="#87870F"/>
<path d="M518.49,259.82 L520.25,263.89 L524.67,264.31 L521.34,267.24 L522.31,271.58 L518.49,269.32 L514.67,271.58 L515.64,267.24 L512.31,264.31 L516.73,263.89Z" fill="#87870F"/>
<path d="M531.57,261.36 L533.34,265.43 L537.76,265.85 L534.43,268.79 L535.40,273.12 L531.57,270.86 L527.75,273.12 L528.72,268.79 L525.39,265.85 L529.81,265.43Z" fill="#87870F"/>
<path d="M544.66,261.62 L546.42,265.70 L550.84,266.11 L547.51,269.05 L548.48,273.38 L544.66,271.12 L540.84,273.38 L541.81,269.05 L538.48,266.11 L542.90,265.70Z" fill="#87870F"/>
<path d="M557.75,265.17 L559.51,269.24 L563.93,269.66 L560.60,272.59 L561.57,276.92 L557.75,274.67 L553.92,276.92 L554.89,272.59 L551.56,269.66 L555.98,269.24Z" fill="#87870F"/>
<path d="M570.83,261.34 L572.59,265.41 L577.01,265.83 L573.68,268.76 L574.65,273.10 L570.83,270.84 L567.01,273.10 L567.98,268.76 L564.65,265.83 L569.07,265.41Z" fill="#87870F"/>
<path d="M583.91,264.67 L585.68,268.74 L590.10,269.16 L586.77,272.10 L587.74,276.43 L583.91,274.17 L580.09,276.43 L581.06,272.10 L577.73,269.16 L582.15,268.74Z" fill="#87870F"/>
<path d="M597.00,261.46 L598.76,265.54 L603.18,265.96 L599.85,268.89 L600.82,273.22 L597.00,270.96 L593.18,273.22 L594.15,268.89 L590.82,265.96 L595.24,265.54Z" fill="#87870F"/>
<polyline fill="none" stroke="#FF6400" stroke-width="1.1" points="86.7,264.0 99.8,265.1 112.9,262.2 125.9,265.8 139.0,262.2 152.1,262.9 165.2,261.1 178.3,262.2 191.4,262.9 204.4,260.7 217.5,259.9 230.6,259.2 243.7,258.2 256.8,257.6 269.9,256.7 283.0,255.4 296.0,255.5 309.1,253.6 322.2,253.0 335.3,252.4 348.4,251.2 361.5,250.4 374.6,250.3 387.6,248.8 400.7,248.3 413.8,246.9 426.9,246.2 440.0,246.2 453.1,244.9 466.1,244.7 479.2,244.0 492.3,243.0 505.4,243.0 518.5,241.6 531.6,241.1 544.7,241.2 557.7,240.8 570.8,240.4 583.9,240.1 597.0,239.2"/>
<path d="M86.69,258.22 L92.77,262.64 L90.45,269.80 L82.92,269.80 L80.60,262.64Z" fill="#FF6400"/>
<path d="M99.77,259.31 L105.86,263.74 L103.53,270.89 L96.01,270.89 L93.68,263.74Z" fill="#FF6400"/>
<path d="M112.85,256.40 L118.94,260.82 L116.62,267.98 L109.09,267.98 L106.77,260.82Z" fill="#FF6400"/>
<path d="M125.94,260.04 L132.03,264.46 L129.70,271.62 L122.18,271.62 L119.85,264.46Z" fill="#FF6400"/>
<path d="M139.02,256.40 L145.11,260.82 L142.79,267.98 L135.26,267.98 L132.94,260.82Z" fill="#FF6400"/>
<path d="M152.11,257.13 L158.20,261.55 L155.87,268.70 L148.35,268.70 L146.02,261.55Z" fill="#FF6400"/>
<path d="M165.19,255.30 L171.28,259.73 L168.96,266.88 L161.43,266.88 L159.11,259.73Z" fill="#FF6400"/>
<path d="M178.28,256.40 L184.37,260.82 L182.04,267.98 L174.52,267.98 L172.19,260.82Z" fill="#FF6400"/>
<path d="M191.37,257.13 L197.45,261.55 L195.13,268.70 L187.60,268.70 L185.28,261.55Z" fill="#FF6400"/>
<path d="M204.45,254.94 L210.54,259.36 L208.21,266.52 L200.69,266.52 L198.36,259.36Z" fill="#FF6400"/>
<path d="M217.53,254.14 L223.62,258.56 L221.30,265.72 L213.77,265.72 L211.45,258.56Z" fill="#FF6400"/>
<path d="M230.62,253.36 L236.71,257.78 L234.38,264.94 L226.86,264.94 L224.53,257.78Z" fill="#FF6400"/>
<path d="M243.70,252.39 L249.79,256.81 L247.47,263.97 L239.94,263.97 L237.62,256.81Z" fill="#FF6400"/>
<path d="M256.79,251.84 L262.88,256.26 L260.55,263.41 L253.03,263.41 L250.70,256.26Z" fill="#FF6400"/>
<path d="M269.88,250.93 L275.96,255.35 L273.64,262.51 L266.11,262.51 L263.79,255.35Z" fill="#FF6400"/>
<path d="M282.96,249.60 L289.05,254.02 L286.72,261.17 L279.20,261.17 L276.87,254.02Z" fill="#FF6400"/>
<path d="M296.04,249.71 L302.13,254.13 L299.81,261.29 L292.28,261.29 L289.96,254.13Z" fill="#FF6400"/>
<path d="M309.13,247.77 L315.22,252.19 L312.89,259.35 L305.37,259.35 L303.04,252.19Z" fill="#FF6400"/>
<path d="M322.21,247.21 L328.30,251.63 L325.98,258.79 L318.45,258.79 L316.13,251.63Z" fill="#FF6400"/>
<path d="M335.30,246.56 L341.39,250.98 L339.06,258.13 L331.54,258.13 L329.21,250.98Z" fill="#FF6400"/>
<path d="M348.38,245.42 L354.47,249.84 L352.15,257.00 L344.62,257.00 L342.30,249.84Z" fill="#FF6400"/>
<path d="M361.47,244.62 L367.56,249.04 L365.23,256.20 L357.71,256.20 L355.38,249.04Z" fill="#FF6400"/>
<path d="M374.55,244.48 L380.64,248.90 L378.32,256.05 L370.79,256.05 L368.47,248.90Z" fill="#FF6400"/>
<path d="M387.64,243.00 L393.73,247.42 L391.40,254.58 L383.88,254.58 L381.55,247.42Z" fill="#FF6400"/>
<path d="M400.73,242.55 L406.81,246.97 L404.49,254.12 L396.96,254.12 L394.64,246.97Z" fill="#FF6400"/>
<path d="M413.81,241.09 L419.90,245.51 L417.57,252.67 L410.05,252.67 L407.72,245.51Z" fill="#FF6400"/>
<path d="M426.89,240.37 L432.98,244.80 L430.66,251.95 L423.13,251.95 L420.81,244.80Z" fill="#FF6400"/>
<path d="M439.98,240.38 L446.07,244.80 L443.74,251.96 L436.22,251.96 L433.89,244.80Z" fill="#FF6400"/>
<path d="M453.06,239.05 L459.15,243.48 L456.83,250.63 L449.30,250.63 L446.98,243.48Z" fill="#FF6400"/>
<path d="M466.15,238.90 L472.24,243.32 L469.91,250.48 L462.39,250.48 L460.06,243.32Z" fill="#FF6400"/>
<path d="M479.24,238.24 L485.32,242.66 L483.00,249.82 L475.47,249.82 L473.15,242.66Z" fill="#FF6400"/>
<path d="M492.32,237.20 L498.41,241.62 L496.08,248.78 L488.56,248.78 L486.23,241.62Z" fill="#FF6400"/>
<path d="M505.40,237.17 L511.49,241.59 L509.17,248.75 L501.64,248.75 L499.32,241.59Z" fill="#FF6400"/>
<path d="M518.49,235.79 L524.58,240.21 L522.25,247.37 L514.73,247.37 L512.40,240.21Z" fill="#FF6400"/>
<path d="M531.57,235.26 L537.66,239.68 L535.34,246.83 L527.81,246.83 L525.49,239.68Z" fill="#FF6400"/>
<path d="M544.66,235.43 L550.75,239.86 L548.42,247.01 L540.90,247.01 L538.57,239.86Z" fill="#FF6400"/>
<path d="M557.75,235.00 L563.83,239.43 L561.51,246.58 L553.98,246.58 L551.66,239.43Z" fill="#FF6400"/>
<path d="M570.83,234.59 L576.92,239.02 L574.59,246.17 L567.07,246.17 L564.74,239.02Z" fill="#FF6400"/>
<path d="M583.91,234.30 L590.00,238.72 L587.68,245.87 L580.15,245.87 L577.83,238.72Z" fill="#FF6400"/>
<path d="M597.00,233.43 L603.09,237.86 L600.76,245.01 L593.24,245.01 L590.91,237.86Z" fill="#FF6400"/>
<polyline fill="none" stroke="#6496D2" stroke-width="1.1" points="125.9,152.1 139.0,187.5 152.1,202.1 165.2,220.3 178.3,230.5 191.4,234.9 204.4,249.4 217.5,250.9 230.6,253.9 243.7,252.8 256.8,259.6 269.9,256.7 283.0,253.2 296.0,255.4 309.1,254.6 322.2,261.7 335.3,260.4 348.4,263.0 361.5,264.3 374.6,263.1 387.6,264.5 400.7,258.7 413.8,261.6 426.9,257.6 440.0,258.1 453.1,261.7 466.1,260.4 479.2,263.3 492.3,261.7 505.4,264.5 518.5,259.1 531.6,263.1 544.7,263.4 557.7,257.0 570.8,260.9 583.9,256.5 597.0,260.4"/>
<circle cx="125.94" cy="152.12" r="5.5" fill="url(#g_steel)"/>
<circle cx="139.02" cy="187.47" r="5.5" fill="url(#g_steel)"/>
<circle cx="152.11" cy="202.05" r="5.5" fill="url(#g_steel)"/>
<circle cx="165.19" cy="220.28" r="5.5" fill="url(#g_steel)"/>
<circle cx="178.28" cy="230.49" r="5.5" fill="url(#g_steel)"/>
<circle cx="191.37" cy="234.86" r="5.5" fill="url(#g_steel)"/>
<circle cx="204.45" cy="249.44" r="5.5" fill="url(#g_steel)"/>
<circle cx="217.53" cy="250.90" r="5.5" fill="url(#g_steel)"/>
<circle cx="230.62" cy="253.90" r="5.5" fill="url(#g_steel)"/>
<circle cx="243.70" cy="252.76" r="5.5" fill="url(#g_steel)"/>
<circle cx="256.79" cy="259.57" r="5.5" fill="url(#g_steel)"/>
<circle cx="269.88" cy="256.73" r="5.5" fill="url(#g_steel)"/>
<circle cx="282.96" cy="253.23" r="5.5" fill="url(#g_steel)"/>
<circle cx="296.04" cy="255.37" r="5.5" fill="url(#g_steel)"/>
<circle cx="309.13" cy="254.55" r="5.5" fill="url(#g_steel)"/>
<circle cx="322.21" cy="261.72" r="5.5" fill="url(#g_steel)"/>
<circle cx="335.30" cy="260.38" r="5.5" fill="url(#g_steel)"/>
<circle cx="348.38" cy="263.00" r="5.5" fill="url(#g_steel)"/>
<circle cx="361.47" cy="264.27" r="5.5" fill="url(#g_steel)"/>
<circle cx="374.55" cy="263.05" r="5.5" fill="url(#g_steel)"/>
<circle cx="387.64" cy="264.54" r="5.5" fill="url(#g_steel)"/>
<circle cx="400.73" cy="258.70" r="5.5" fill="url(#g_steel)"/>
<circle cx="413.81" cy="261.55" r="5.5" fill="url(#g_steel)"/>
<circle cx="426.89" cy="257.61" r="5.5" fill="url(#g_steel)"/>
<circle cx="439.98" cy="258.09" r="5.5" fill="url(#g_steel)"/>
<circle cx="453.06" cy="261.69" r="5.5" fill="url(#g_steel)"/>
<circle cx="466.15" cy="260.38" r="5.5" fill="url(#g_steel)"/>
<circle cx="479.24" cy="263.29" r="5.5" fill="url(#g_steel)"/>
<circle cx="492.32" cy="261.71" r="5.5" fill="url(#g_steel)"/>
<circle cx="505.40" cy="264.48" r="5.5" fill="url(#g_steel)"/>
<circle cx="518.49" cy="259.08" r="5.5" fill="url(#g_steel)"/>
<circle cx="531.57" cy="263.09" r="5.5" fill="url(#g_steel)"/>
<circle cx="544.66" cy="263.45" r="5.5" fill="url(#g_steel)"/>
<circle cx="557.75" cy="256.98" r="5.5" fill="url(#g_steel)"/>
<circle cx="570.83" cy="260.93" r="5.5" fill="url(#g_steel)"/>
<circle cx="583.91" cy="256.47" r="5.5" fill="url(#g_steel)"/>
<circle cx="597.00" cy="260.38" r="5.5" fill="url(#g_steel)"/>
<polyline fill="none" stroke="#6EB914" stroke-width="1.1" points="125.9,104.4 139.0,147.4 152.1,180.2 165.2,198.4 178.3,207.5 191.4,210.1 204.4,227.6 217.5,224.7 230.6,231.2 243.7,235.2 256.8,240.3 269.9,242.1 283.0,244.0 296.0,242.9 309.1,235.2 322.2,240.0 335.3,245.8 348.4,241.1 361.5,245.1 374.6,246.5 387.6,247.3 400.7,250.2 413.8,253.1 426.9,251.4 440.0,251.6 453.1,253.5 466.1,253.1 479.2,251.5 492.3,252.4 505.4,251.0 518.5,251.6 531.6,250.4 544.7,249.4 557.7,251.1 570.8,251.0 583.9,249.8 597.0,250.5"/>
<circle cx="125.94" cy="104.37" r="5.0" fill="#fff" stroke="#6EB914" stroke-width="1.4"/><path d="M125.94,99.37 A5.0,5.0 0 0 1 125.94,109.37Z" fill="#6EB914"/>
<circle cx="139.02" cy="147.38" r="5.0" fill="#fff" stroke="#6EB914" stroke-width="1.4"/><path d="M139.02,142.38 A5.0,5.0 0 0 1 139.02,152.38Z" fill="#6EB914"/>
<circle cx="152.11" cy="180.18" r="5.0" fill="#fff" stroke="#6EB914" stroke-width="1.4"/><path d="M152.11,175.18 A5.0,5.0 0 0 1 152.11,185.18Z" fill="#6EB914"/>
<circle cx="165.19" cy="198.41" r="5.0" fill="#fff" stroke="#6EB914" stroke-width="1.4"/><path d="M165.19,193.41 A5.0,5.0 0 0 1 165.19,203.41Z" fill="#6EB914"/>
<circle cx="178.28" cy="207.52" r="5.0" fill="#fff" stroke="#6EB914" stroke-width="1.4"/><path d="M178.28,202.52 A5.0,5.0 0 0 1 178.28,212.52Z" fill="#6EB914"/>
<circle cx="191.37" cy="210.07" r="5.0" fill="#fff" stroke="#6EB914" stroke-width="1.4"/><path d="M191.37,205.07 A5.0,5.0 0 0 1 191.37,215.07Z" fill="#6EB914"/>
<circle cx="204.45" cy="227.57" r="5.0" fill="#fff" stroke="#6EB914" stroke-width="1.4"/><path d="M204.45,222.57 A5.0,5.0 0 0 1 204.45,232.57Z" fill="#6EB914"/>
<circle cx="217.53" cy="224.65" r="5.0" fill="#fff" stroke="#6EB914" stroke-width="1.4"/><path d="M217.53,219.65 A5.0,5.0 0 0 1 217.53,229.65Z" fill="#6EB914"/>
<circle cx="230.62" cy="231.21" r="5.0" fill="#fff" stroke="#6EB914" stroke-width="1.4"/><path d="M230.62,226.21 A5.0,5.0 0 0 1 230.62,236.21Z" fill="#6EB914"/>
<circle cx="243.70" cy="235.22" r="5.0" fill="#fff" stroke="#6EB914" stroke-width="1.4"/><path d="M243.70,230.22 A5.0,5.0 0 0 1 243.70,240.22Z" fill="#6EB914"/>
<circle cx="256.79" cy="240.33" r="5.0" fill="#fff" stroke="#6EB914" stroke-width="1.4"/><path d="M256.79,235.33 A5.0,5.0 0 0 1 256.79,245.33Z" fill="#6EB914"/>
<circle cx="269.88" cy="242.15" r="5.0" fill="#fff" stroke="#6EB914" stroke-width="1.4"/><path d="M269.88,237.15 A5.0,5.0 0 0 1 269.88,247.15Z" fill="#6EB914"/>
<circle cx="282.96" cy="243.97" r="5.0" fill="#fff" stroke="#6EB914" stroke-width="1.4"/><path d="M282.96,238.97 A5.0,5.0 0 0 1 282.96,248.97Z" fill="#6EB914"/>
<circle cx="296.04" cy="242.88" r="5.0" fill="#fff" stroke="#6EB914" stroke-width="1.4"/><path d="M296.04,237.88 A5.0,5.0 0 0 1 296.04,247.88Z" fill="#6EB914"/>
<circle cx="309.13" cy="235.22" r="5.0" fill="#fff" stroke="#6EB914" stroke-width="1.4"/><path d="M309.13,230.22 A5.0,5.0 0 0 1 309.13,240.22Z" fill="#6EB914"/>
<circle cx="322.21" cy="239.96" r="5.0" fill="#fff" stroke="#6EB914" stroke-width="1.4"/><path d="M322.21,234.96 A5.0,5.0 0 0 1 322.21,244.96Z" fill="#6EB914"/>
<circle cx="335.30" cy="245.79" r="5.0" fill="#fff" stroke="#6EB914" stroke-width="1.4"/><path d="M335.30,240.79 A5.0,5.0 0 0 1 335.30,250.79Z" fill="#6EB914"/>
<circle cx="348.38" cy="241.06" r="5.0" fill="#fff" stroke="#6EB914" stroke-width="1.4"/><path d="M348.38,236.06 A5.0,5.0 0 0 1 348.38,246.06Z" fill="#6EB914"/>
<circle cx="361.47" cy="245.07" r="5.0" fill="#fff" stroke="#6EB914" stroke-width="1.4"/><path d="M361.47,240.07 A5.0,5.0 0 0 1 361.47,250.07Z" fill="#6EB914"/>
<circle cx="374.55" cy="246.52" r="5.0" fill="#fff" stroke="#6EB914" stroke-width="1.4"/><path d="M374.55,241.52 A5.0,5.0 0 0 1 374.55,251.52Z" fill="#6EB914"/>
<circle cx="387.64" cy="247.25" r="5.0" fill="#fff" stroke="#6EB914" stroke-width="1.4"/><path d="M387.64,242.25 A5.0,5.0 0 0 1 387.64,252.25Z" fill="#6EB914"/>
<circle cx="400.73" cy="250.17" r="5.0" fill="#fff" stroke="#6EB914" stroke-width="1.4"/><path d="M400.73,245.17 A5.0,5.0 0 0 1 400.73,255.17Z" fill="#6EB914"/>
<circle cx="413.81" cy="253.08" r="5.0" fill="#fff" stroke="#6EB914" stroke-width="1.4"/><path d="M413.81,248.08 A5.0,5.0 0 0 1 413.81,258.08Z" fill="#6EB914"/>
<circle cx="426.89" cy="251.44" r="5.0" fill="#fff" stroke="#6EB914" stroke-width="1.4"/><path d="M426.89,246.44 A5.0,5.0 0 0 1 426.89,256.44Z" fill="#6EB914"/>
<circle cx="439.98" cy="251.63" r="5.0" fill="#fff" stroke="#6EB914" stroke-width="1.4"/><path d="M439.98,246.63 A5.0,5.0 0 0 1 439.98,256.63Z" fill="#6EB914"/>
<circle cx="453.06" cy="253.53" r="5.0" fill="#fff" stroke="#6EB914" stroke-width="1.4"/><path d="M453.06,248.53 A5.0,5.0 0 0 1 453.06,258.53Z" fill="#6EB914"/>
<circle cx="466.15" cy="253.08" r="5.0" fill="#fff" stroke="#6EB914" stroke-width="1.4"/><path d="M466.15,248.08 A5.0,5.0 0 0 1 466.15,258.08Z" fill="#6EB914"/>
<circle cx="479.24" cy="251.48" r="5.0" fill="#fff" stroke="#6EB914" stroke-width="1.4"/><path d="M479.24,246.48 A5.0,5.0 0 0 1 479.24,256.48Z" fill="#6EB914"/>
<circle cx="492.32" cy="252.36" r="5.0" fill="#fff" stroke="#6EB914" stroke-width="1.4"/><path d="M492.32,247.36 A5.0,5.0 0 0 1 492.32,257.36Z" fill="#6EB914"/>
<circle cx="505.40" cy="250.96" r="5.0" fill="#fff" stroke="#6EB914" stroke-width="1.4"/><path d="M505.40,245.96 A5.0,5.0 0 0 1 505.40,255.96Z" fill="#6EB914"/>
<circle cx="518.49" cy="251.61" r="5.0" fill="#fff" stroke="#6EB914" stroke-width="1.4"/><path d="M518.49,246.61 A5.0,5.0 0 0 1 518.49,256.61Z" fill="#6EB914"/>
<circle cx="531.57" cy="250.38" r="5.0" fill="#fff" stroke="#6EB914" stroke-width="1.4"/><path d="M531.57,245.38 A5.0,5.0 0 0 1 531.57,255.38Z" fill="#6EB914"/>
<circle cx="544.66" cy="249.44" r="5.0" fill="#fff" stroke="#6EB914" stroke-width="1.4"/><path d="M544.66,244.44 A5.0,5.0 0 0 1 544.66,254.44Z" fill="#6EB914"/>
<circle cx="557.75" cy="251.07" r="5.0" fill="#fff" stroke="#6EB914" stroke-width="1.4"/><path d="M557.75,246.07 A5.0,5.0 0 0 1 557.75,256.07Z" fill="#6EB914"/>
<circle cx="570.83" cy="251.02" r="5.0" fill="#fff" stroke="#6EB914" stroke-width="1.4"/><path d="M570.83,246.02 A5.0,5.0 0 0 1 570.83,256.02Z" fill="#6EB914"/>
<circle cx="583.91" cy="249.82" r="5.0" fill="#fff" stroke="#6EB914" stroke-width="1.4"/><path d="M583.91,244.82 A5.0,5.0 0 0 1 583.91,254.82Z" fill="#6EB914"/>
<circle cx="597.00" cy="250.53" r="5.0" fill="#fff" stroke="#6EB914" stroke-width="1.4"/><path d="M597.00,245.53 A5.0,5.0 0 0 1 597.00,255.53Z" fill="#6EB914"/>
<polyline fill="none" stroke="#505050" stroke-width="1.1" points="139.0,169.2 152.1,183.8 165.2,194.8 178.3,220.3 191.4,231.2 204.4,260.4 217.5,264.0 230.6,272.0 243.7,270.9 256.8,290.6 269.9,288.8 283.0,309.9 296.0,304.1 309.1,324.2 322.2,306.7 335.3,302.7 348.4,319.1 361.5,314.0 374.6,306.7 387.6,302.3 400.7,298.6 413.8,296.5 426.9,291.4 440.0,285.9 453.1,261.5 466.1,263.3 479.2,264.9 492.3,264.7 505.4,261.9 518.5,260.3 531.6,260.6 544.7,260.6 557.7,263.3 570.8,262.9 583.9,262.2 597.0,261.1"/>
<path d="M133.52,163.75 L144.52,174.75 M133.52,174.75 L144.52,163.75" stroke="#505050" stroke-width="1.3" fill="none"/>
<path d="M146.61,178.33 L157.61,189.33 M146.61,189.33 L157.61,178.33" stroke="#505050" stroke-width="1.3" fill="none"/>
<path d="M159.69,189.26 L170.69,200.26 M159.69,200.26 L170.69,189.26" stroke="#505050" stroke-width="1.3" fill="none"/>
<path d="M172.78,214.78 L183.78,225.78 M172.78,225.78 L183.78,214.78" stroke="#505050" stroke-width="1.3" fill="none"/>
<path d="M185.87,225.71 L196.87,236.71 M185.87,236.71 L196.87,225.71" stroke="#505050" stroke-width="1.3" fill="none"/>
<path d="M198.95,254.88 L209.95,265.88 M198.95,265.88 L209.95,254.88" stroke="#505050" stroke-width="1.3" fill="none"/>
<path d="M212.03,258.52 L223.03,269.52 M212.03,269.52 L223.03,258.52" stroke="#505050" stroke-width="1.3" fill="none"/>
<path d="M225.12,266.54 L236.12,277.54 M225.12,277.54 L236.12,266.54" stroke="#505050" stroke-width="1.3" fill="none"/>
<path d="M238.20,265.45 L249.20,276.45 M238.20,276.45 L249.20,265.45" stroke="#505050" stroke-width="1.3" fill="none"/>
<path d="M251.29,285.13 L262.29,296.13 M251.29,296.13 L262.29,285.13" stroke="#505050" stroke-width="1.3" fill="none"/>
<path d="M264.38,283.31 L275.38,294.31 M264.38,294.31 L275.38,283.31" stroke="#505050" stroke-width="1.3" fill="none"/>
<path d="M277.46,304.45 L288.46,315.45 M277.46,315.45 L288.46,304.45" stroke="#505050" stroke-width="1.3" fill="none"/>
<path d="M290.54,298.62 L301.54,309.62 M290.54,309.62 L301.54,298.62" stroke="#505050" stroke-width="1.3" fill="none"/>
<path d="M303.63,318.66 L314.63,329.66 M303.63,329.66 L314.63,318.66" stroke="#505050" stroke-width="1.3" fill="none"/>
<path d="M316.71,301.17 L327.71,312.17 M316.71,312.17 L327.71,301.17" stroke="#505050" stroke-width="1.3" fill="none"/>
<path d="M329.80,297.16 L340.80,308.16 M329.80,308.16 L340.80,297.16" stroke="#505050" stroke-width="1.3" fill="none"/>
<path d="M342.88,313.56 L353.88,324.56 M342.88,324.56 L353.88,313.56" stroke="#505050" stroke-width="1.3" fill="none"/>
<path d="M355.97,308.46 L366.97,319.46 M355.97,319.46 L366.97,308.46" stroke="#505050" stroke-width="1.3" fill="none"/>
<path d="M369.05,301.17 L380.05,312.17 M369.05,312.17 L380.05,301.17" stroke="#505050" stroke-width="1.3" fill="none"/>
<path d="M382.14,296.79 L393.14,307.79 M382.14,307.79 L393.14,296.79" stroke="#505050" stroke-width="1.3" fill="none"/>
<path d="M395.23,293.15 L406.23,304.15 M395.23,304.15 L406.23,293.15" stroke="#505050" stroke-width="1.3" fill="none"/>
<path d="M408.31,290.96 L419.31,301.96 M408.31,301.96 L419.31,290.96" stroke="#505050" stroke-width="1.3" fill="none"/>
<path d="M421.39,285.86 L432.39,296.86 M421.39,296.86 L432.39,285.86" stroke="#505050" stroke-width="1.3" fill="none"/>
<path d="M434.48,280.39 L445.48,291.39 M434.48,291.39 L445.48,280.39" stroke="#505050" stroke-width="1.3" fill="none"/>
<path d="M447.56,256.04 L458.56,267.04 M447.56,267.04 L458.56,256.04" stroke="#505050" stroke-width="1.3" fill="none"/>
<path d="M460.65,257.79 L471.65,268.79 M460.65,268.79 L471.65,257.79" stroke="#505050" stroke-width="1.3" fill="none"/>
<path d="M473.74,259.44 L484.74,270.44 M473.74,270.44 L484.74,259.44" stroke="#505050" stroke-width="1.3" fill="none"/>
<path d="M486.82,259.24 L497.82,270.24 M486.82,270.24 L497.82,259.24" stroke="#505050" stroke-width="1.3" fill="none"/>
<path d="M499.90,256.37 L510.90,267.37 M499.90,267.37 L510.90,256.37" stroke="#505050" stroke-width="1.3" fill="none"/>
<path d="M512.99,254.80 L523.99,265.80 M512.99,265.80 L523.99,254.80" stroke="#505050" stroke-width="1.3" fill="none"/>
<path d="M526.07,255.12 L537.07,266.12 M526.07,266.12 L537.07,255.12" stroke="#505050" stroke-width="1.3" fill="none"/>
<path d="M539.16,255.06 L550.16,266.06 M539.16,266.06 L550.16,255.06" stroke="#505050" stroke-width="1.3" fill="none"/>
<path d="M552.25,257.79 L563.25,268.79 M552.25,268.79 L563.25,257.79" stroke="#505050" stroke-width="1.3" fill="none"/>
<path d="M565.33,257.36 L576.33,268.36 M565.33,268.36 L576.33,257.36" stroke="#505050" stroke-width="1.3" fill="none"/>
<path d="M578.41,256.72 L589.41,267.72 M578.41,267.72 L589.41,256.72" stroke="#505050" stroke-width="1.3" fill="none"/>
<path d="M591.50,255.60 L602.50,266.60 M591.50,266.60 L602.50,255.60" stroke="#505050" stroke-width="1.3" fill="none"/>
<polyline fill="none" stroke="#F03C3C" stroke-width="1.1" points="125.9,128.1 139.0,158.3 152.1,176.5 165.2,187.5 178.3,197.3 191.4,215.2 204.4,231.2 217.5,236.7 230.6,242.1 243.7,245.3 256.8,247.2 269.9,250.0 283.0,253.1 296.0,253.3 309.1,252.8 322.2,252.5 335.3,256.0 348.4,254.9 361.5,254.0 374.6,255.3 387.6,255.7 400.7,253.5 413.8,252.5 426.9,254.8 440.0,254.4 453.1,257.6 466.1,254.9 479.2,251.9 492.3,252.3 505.4,251.4 518.5,251.3 531.6,253.2 544.7,250.8 557.7,250.6 570.8,253.3 583.9,251.8 597.0,251.3"/>
<path d="M119.94,128.06 L131.94,128.06 M125.94,122.06 L125.94,134.06 M121.34,123.46 L130.54,132.66 M121.34,132.66 L130.54,123.46" stroke="#F03C3C" stroke-width="1.3" fill="none"/>
<path d="M133.02,158.31 L145.02,158.31 M139.02,152.31 L139.02,164.31 M134.42,153.71 L143.62,162.91 M134.42,162.91 L143.62,153.71" stroke="#F03C3C" stroke-width="1.3" fill="none"/>
<path d="M146.11,176.54 L158.11,176.54 M152.11,170.54 L152.11,182.54 M147.51,171.94 L156.71,181.14 M147.51,181.14 L156.71,171.94" stroke="#F03C3C" stroke-width="1.3" fill="none"/>
<path d="M159.19,187.47 L171.19,187.47 M165.19,181.47 L165.19,193.47 M160.59,182.87 L169.79,192.07 M160.59,192.07 L169.79,182.87" stroke="#F03C3C" stroke-width="1.3" fill="none"/>
<path d="M172.28,197.32 L184.28,197.32 M178.28,191.32 L178.28,203.32 M173.68,192.72 L182.88,201.92 M173.68,201.92 L182.88,192.72" stroke="#F03C3C" stroke-width="1.3" fill="none"/>
<path d="M185.37,215.18 L197.37,215.18 M191.37,209.18 L191.37,221.18 M186.77,210.58 L195.97,219.78 M186.77,219.78 L195.97,210.58" stroke="#F03C3C" stroke-width="1.3" fill="none"/>
<path d="M198.45,231.21 L210.45,231.21 M204.45,225.21 L204.45,237.21 M199.85,226.61 L209.05,235.81 M199.85,235.81 L209.05,226.61" stroke="#F03C3C" stroke-width="1.3" fill="none"/>
<path d="M211.53,236.68 L223.53,236.68 M217.53,230.68 L217.53,242.68 M212.94,232.08 L222.13,241.28 M212.94,241.28 L222.13,232.08" stroke="#F03C3C" stroke-width="1.3" fill="none"/>
<path d="M224.62,242.15 L236.62,242.15 M230.62,236.15 L230.62,248.15 M226.02,237.55 L235.22,246.75 M226.02,246.75 L235.22,237.55" stroke="#F03C3C" stroke-width="1.3" fill="none"/>
<path d="M237.70,245.34 L249.70,245.34 M243.70,239.34 L243.70,251.34 M239.10,240.74 L248.30,249.94 M239.10,249.94 L248.30,240.74" stroke="#F03C3C" stroke-width="1.3" fill="none"/>
<path d="M250.79,247.24 L262.79,247.24 M256.79,241.24 L256.79,253.24 M252.19,242.64 L261.39,251.84 M252.19,251.84 L261.39,242.64" stroke="#F03C3C" stroke-width="1.3" fill="none"/>
<path d="M263.88,250.01 L275.88,250.01 M269.88,244.01 L269.88,256.01 M265.27,245.41 L274.48,254.61 M265.27,254.61 L274.48,245.41" stroke="#F03C3C" stroke-width="1.3" fill="none"/>
<path d="M276.96,253.08 L288.96,253.08 M282.96,247.08 L282.96,259.08 M278.36,248.48 L287.56,257.68 M278.36,257.68 L287.56,248.48" stroke="#F03C3C" stroke-width="1.3" fill="none"/>
<path d="M290.04,253.30 L302.04,253.30 M296.04,247.30 L296.04,259.30 M291.44,248.70 L300.64,257.90 M291.44,257.90 L300.64,248.70" stroke="#F03C3C" stroke-width="1.3" fill="none"/>
<path d="M303.13,252.79 L315.13,252.79 M309.13,246.79 L309.13,258.79 M304.53,248.19 L313.73,257.39 M304.53,257.39 L313.73,248.19" stroke="#F03C3C" stroke-width="1.3" fill="none"/>
<path d="M316.21,252.55 L328.21,252.55 M322.21,246.55 L322.21,258.55 M317.61,247.95 L326.81,257.15 M317.61,257.15 L326.81,247.95" stroke="#F03C3C" stroke-width="1.3" fill="none"/>
<path d="M329.30,256.00 L341.30,256.00 M335.30,250.00 L335.30,262.00 M330.70,251.40 L339.90,260.60 M330.70,260.60 L339.90,251.40" stroke="#F03C3C" stroke-width="1.3" fill="none"/>
<path d="M342.38,254.88 L354.38,254.88 M348.38,248.88 L348.38,260.88 M343.78,250.28 L352.99,259.48 M343.78,259.48 L352.99,250.28" stroke="#F03C3C" stroke-width="1.3" fill="none"/>
<path d="M355.47,253.98 L367.47,253.98 M361.47,247.98 L361.47,259.98 M356.87,249.38 L366.07,258.58 M356.87,258.58 L366.07,249.38" stroke="#F03C3C" stroke-width="1.3" fill="none"/>
<path d="M368.55,255.26 L380.55,255.26 M374.55,249.26 L374.55,261.26 M369.95,250.66 L379.15,259.86 M369.95,259.86 L379.15,250.66" stroke="#F03C3C" stroke-width="1.3" fill="none"/>
<path d="M381.64,255.73 L393.64,255.73 M387.64,249.73 L387.64,261.73 M383.04,251.13 L392.24,260.33 M383.04,260.33 L392.24,251.13" stroke="#F03C3C" stroke-width="1.3" fill="none"/>
<path d="M394.73,253.48 L406.73,253.48 M400.73,247.48 L400.73,259.48 M396.12,248.88 L405.33,258.08 M396.12,258.08 L405.33,248.88" stroke="#F03C3C" stroke-width="1.3" fill="none"/>
<path d="M407.81,252.45 L419.81,252.45 M413.81,246.45 L413.81,258.45 M409.21,247.85 L418.41,257.05 M409.21,257.05 L418.41,247.85" stroke="#F03C3C" stroke-width="1.3" fill="none"/>
<path d="M420.89,254.81 L432.89,254.81 M426.89,248.81 L426.89,260.81 M422.29,250.21 L431.50,259.41 M422.29,259.41 L431.50,250.21" stroke="#F03C3C" stroke-width="1.3" fill="none"/>
<path d="M433.98,254.36 L445.98,254.36 M439.98,248.36 L439.98,260.36 M435.38,249.76 L444.58,258.96 M435.38,258.96 L444.58,249.76" stroke="#F03C3C" stroke-width="1.3" fill="none"/>
<path d="M447.06,257.57 L459.06,257.57 M453.06,251.57 L453.06,263.57 M448.46,252.97 L457.66,262.17 M448.46,262.17 L457.66,252.97" stroke="#F03C3C" stroke-width="1.3" fill="none"/>
<path d="M460.15,254.91 L472.15,254.91 M466.15,248.91 L466.15,260.91 M461.55,250.31 L470.75,259.51 M461.55,259.51 L470.75,250.31" stroke="#F03C3C" stroke-width="1.3" fill="none"/>
<path d="M473.24,251.88 L485.24,251.88 M479.24,245.88 L479.24,257.88 M474.63,247.28 L483.84,256.48 M474.63,256.48 L483.84,247.28" stroke="#F03C3C" stroke-width="1.3" fill="none"/>
<path d="M486.32,252.26 L498.32,252.26 M492.32,246.26 L492.32,258.26 M487.72,247.66 L496.92,256.86 M487.72,256.86 L496.92,247.66" stroke="#F03C3C" stroke-width="1.3" fill="none"/>
<path d="M499.40,251.39 L511.40,251.39 M505.40,245.39 L505.40,257.39 M500.80,246.79 L510.00,255.99 M500.80,255.99 L510.00,246.79" stroke="#F03C3C" stroke-width="1.3" fill="none"/>
<path d="M512.49,251.26 L524.49,251.26 M518.49,245.26 L518.49,257.26 M513.89,246.66 L523.09,255.86 M513.89,255.86 L523.09,246.66" stroke="#F03C3C" stroke-width="1.3" fill="none"/>
<path d="M525.57,253.22 L537.57,253.22 M531.57,247.22 L531.57,259.22 M526.97,248.62 L536.17,257.82 M526.97,257.82 L536.17,248.62" stroke="#F03C3C" stroke-width="1.3" fill="none"/>
<path d="M538.66,250.79 L550.66,250.79 M544.66,244.79 L544.66,256.79 M540.06,246.19 L549.26,255.39 M540.06,255.39 L549.26,246.19" stroke="#F03C3C" stroke-width="1.3" fill="none"/>
<path d="M551.75,250.64 L563.75,250.64 M557.75,244.64 L557.75,256.64 M553.14,246.04 L562.35,255.24 M553.14,255.24 L562.35,246.04" stroke="#F03C3C" stroke-width="1.3" fill="none"/>
<path d="M564.83,253.26 L576.83,253.26 M570.83,247.26 L570.83,259.26 M566.23,248.66 L575.43,257.86 M566.23,257.86 L575.43,248.66" stroke="#F03C3C" stroke-width="1.3" fill="none"/>
<path d="M577.91,251.78 L589.91,251.78 M583.91,245.78 L583.91,257.78 M579.31,247.18 L588.51,256.38 M579.31,256.38 L588.51,247.18" stroke="#F03C3C" stroke-width="1.3" fill="none"/>
<path d="M591.00,251.26 L603.00,251.26 M597.00,245.26 L597.00,257.26 M592.40,246.66 L601.60,255.86 M592.40,255.86 L601.60,246.66" stroke="#F03C3C" stroke-width="1.3" fill="none"/>
<polyline fill="none" stroke="#1E6EE1" stroke-width="1.1" points="125.9,44.2 139.0,140.1 152.1,176.5 165.2,205.7 178.3,223.9 191.4,234.9 204.4,242.1 217.5,244.3 230.6,246.8 243.7,249.6 256.8,251.8 269.9,253.1 283.0,251.6 296.0,248.0 309.1,246.5 322.2,248.5 335.3,249.3 348.4,250.2 361.5,253.8 374.6,258.6 387.6,258.4 400.7,257.3 413.8,258.6 426.9,249.1 440.0,258.6 453.1,259.2 466.1,260.0 479.2,260.4 492.3,249.1 505.4,260.4 518.5,259.8 531.6,260.7 544.7,258.4 557.7,259.7 570.8,259.4 583.9,258.3 597.0,258.6"/>
<path d="M118.26,44.23 L129.78,37.58 L129.78,50.88Z" fill="#fff" stroke="#1E6EE1" stroke-width="1.4"/><path d="M118.26,44.23 L124.02,40.90 L124.02,47.55Z" fill="#1E6EE1"/>
<path d="M131.35,140.09 L142.86,133.44 L142.86,146.74Z" fill="#fff" stroke="#1E6EE1" stroke-width="1.4"/><path d="M131.35,140.09 L137.11,136.76 L137.11,143.41Z" fill="#1E6EE1"/>
<path d="M144.43,176.54 L155.95,169.89 L155.95,183.19Z" fill="#fff" stroke="#1E6EE1" stroke-width="1.4"/><path d="M144.43,176.54 L150.19,173.21 L150.19,179.86Z" fill="#1E6EE1"/>
<path d="M157.52,205.70 L169.03,199.05 L169.03,212.35Z" fill="#fff" stroke="#1E6EE1" stroke-width="1.4"/><path d="M157.52,205.70 L163.28,202.37 L163.28,209.02Z" fill="#1E6EE1"/>
<path d="M170.60,223.92 L182.12,217.27 L182.12,230.57Z" fill="#fff" stroke="#1E6EE1" stroke-width="1.4"/><path d="M170.60,223.92 L176.36,220.60 L176.36,227.25Z" fill="#1E6EE1"/>
<path d="M183.69,234.86 L195.20,228.21 L195.20,241.51Z" fill="#fff" stroke="#1E6EE1" stroke-width="1.4"/><path d="M183.69,234.86 L189.45,231.53 L189.45,238.18Z" fill="#1E6EE1"/>
<path d="M196.77,242.15 L208.29,235.50 L208.29,248.80Z" fill="#fff" stroke="#1E6EE1" stroke-width="1.4"/><path d="M196.77,242.15 L202.53,238.82 L202.53,245.47Z" fill="#1E6EE1"/>
<path d="M209.86,244.34 L221.37,237.69 L221.37,250.99Z" fill="#fff" stroke="#1E6EE1" stroke-width="1.4"/><path d="M209.86,244.34 L215.62,241.01 L215.62,247.66Z" fill="#1E6EE1"/>
<path d="M222.94,246.80 L234.46,240.15 L234.46,253.45Z" fill="#fff" stroke="#1E6EE1" stroke-width="1.4"/><path d="M222.94,246.80 L228.70,243.48 L228.70,250.13Z" fill="#1E6EE1"/>
<path d="M236.03,249.59 L247.54,242.94 L247.54,256.24Z" fill="#fff" stroke="#1E6EE1" stroke-width="1.4"/><path d="M236.03,249.59 L241.79,246.26 L241.79,252.91Z" fill="#1E6EE1"/>
<path d="M249.11,251.83 L260.63,245.18 L260.63,258.48Z" fill="#fff" stroke="#1E6EE1" stroke-width="1.4"/><path d="M249.11,251.83 L254.87,248.51 L254.87,255.16Z" fill="#1E6EE1"/>
<path d="M262.20,253.08 L273.71,246.43 L273.71,259.73Z" fill="#fff" stroke="#1E6EE1" stroke-width="1.4"/><path d="M262.20,253.08 L267.96,249.76 L267.96,256.41Z" fill="#1E6EE1"/>
<path d="M275.28,251.63 L286.80,244.98 L286.80,258.28Z" fill="#fff" stroke="#1E6EE1" stroke-width="1.4"/><path d="M275.28,251.63 L281.04,248.31 L281.04,254.96Z" fill="#1E6EE1"/>
<path d="M288.37,247.95 L299.88,241.30 L299.88,254.60Z" fill="#fff" stroke="#1E6EE1" stroke-width="1.4"/><path d="M288.37,247.95 L294.13,244.63 L294.13,251.28Z" fill="#1E6EE1"/>
<path d="M301.45,246.52 L312.97,239.87 L312.97,253.17Z" fill="#fff" stroke="#1E6EE1" stroke-width="1.4"/><path d="M301.45,246.52 L307.21,243.20 L307.21,249.85Z" fill="#1E6EE1"/>
<path d="M314.54,248.46 L326.05,241.81 L326.05,255.11Z" fill="#fff" stroke="#1E6EE1" stroke-width="1.4"/><path d="M314.54,248.46 L320.30,245.14 L320.30,251.79Z" fill="#1E6EE1"/>
<path d="M327.62,249.29 L339.14,242.64 L339.14,255.94Z" fill="#fff" stroke="#1E6EE1" stroke-width="1.4"/><path d="M327.62,249.29 L333.38,245.97 L333.38,252.62Z" fill="#1E6EE1"/>
<path d="M340.71,250.17 L352.22,243.52 L352.22,256.82Z" fill="#fff" stroke="#1E6EE1" stroke-width="1.4"/><path d="M340.71,250.17 L346.47,246.84 L346.47,253.49Z" fill="#1E6EE1"/>
<path d="M353.79,253.82 L365.31,247.17 L365.31,260.47Z" fill="#fff" stroke="#1E6EE1" stroke-width="1.4"/><path d="M353.79,253.82 L359.55,250.50 L359.55,257.15Z" fill="#1E6EE1"/>
<path d="M366.88,258.55 L378.39,251.90 L378.39,265.20Z" fill="#fff" stroke="#1E6EE1" stroke-width="1.4"/><path d="M366.88,258.55 L372.64,255.23 L372.64,261.88Z" fill="#1E6EE1"/>
<path d="M379.96,258.44 L391.48,251.79 L391.48,265.09Z" fill="#fff" stroke="#1E6EE1" stroke-width="1.4"/><path d="M379.96,258.44 L385.72,255.11 L385.72,261.76Z" fill="#1E6EE1"/>
<path d="M393.05,257.27 L404.56,250.62 L404.56,263.92Z" fill="#fff" stroke="#1E6EE1" stroke-width="1.4"/><path d="M393.05,257.27 L398.81,253.95 L398.81,260.60Z" fill="#1E6EE1"/>
<path d="M406.13,258.55 L417.65,251.90 L417.65,265.20Z" fill="#fff" stroke="#1E6EE1" stroke-width="1.4"/><path d="M406.13,258.55 L411.89,255.23 L411.89,261.88Z" fill="#1E6EE1"/>
<path d="M419.22,249.08 L430.73,242.43 L430.73,255.73Z" fill="#fff" stroke="#1E6EE1" stroke-width="1.4"/><path d="M419.22,249.08 L424.98,245.75 L424.98,252.40Z" fill="#1E6EE1"/>
<path d="M432.30,258.55 L443.82,251.90 L443.82,265.20Z" fill="#fff" stroke="#1E6EE1" stroke-width="1.4"/><path d="M432.30,258.55 L438.06,255.23 L438.06,261.88Z" fill="#1E6EE1"/>
<path d="M445.39,259.19 L456.90,252.54 L456.90,265.84Z" fill="#fff" stroke="#1E6EE1" stroke-width="1.4"/><path d="M445.39,259.19 L451.15,255.87 L451.15,262.52Z" fill="#1E6EE1"/>
<path d="M458.47,260.00 L469.99,253.35 L469.99,266.65Z" fill="#fff" stroke="#1E6EE1" stroke-width="1.4"/><path d="M458.47,260.00 L464.23,256.67 L464.23,263.32Z" fill="#1E6EE1"/>
<path d="M471.56,260.38 L483.07,253.72 L483.07,267.02Z" fill="#fff" stroke="#1E6EE1" stroke-width="1.4"/><path d="M471.56,260.38 L477.32,257.05 L477.32,263.70Z" fill="#1E6EE1"/>
<path d="M484.64,249.08 L496.16,242.43 L496.16,255.73Z" fill="#fff" stroke="#1E6EE1" stroke-width="1.4"/><path d="M484.64,249.08 L490.40,245.75 L490.40,252.40Z" fill="#1E6EE1"/>
<path d="M497.73,260.38 L509.24,253.72 L509.24,267.02Z" fill="#fff" stroke="#1E6EE1" stroke-width="1.4"/><path d="M497.73,260.38 L503.49,257.05 L503.49,263.70Z" fill="#1E6EE1"/>
<path d="M510.81,259.78 L522.33,253.13 L522.33,266.43Z" fill="#fff" stroke="#1E6EE1" stroke-width="1.4"/><path d="M510.81,259.78 L516.57,256.46 L516.57,263.11Z" fill="#1E6EE1"/>
<path d="M523.90,260.68 L535.41,254.03 L535.41,267.33Z" fill="#fff" stroke="#1E6EE1" stroke-width="1.4"/><path d="M523.90,260.68 L529.66,257.36 L529.66,264.01Z" fill="#1E6EE1"/>
<path d="M536.98,258.42 L548.50,251.77 L548.50,265.07Z" fill="#fff" stroke="#1E6EE1" stroke-width="1.4"/><path d="M536.98,258.42 L542.74,255.10 L542.74,261.75Z" fill="#1E6EE1"/>
<path d="M550.07,259.70 L561.58,253.05 L561.58,266.35Z" fill="#fff" stroke="#1E6EE1" stroke-width="1.4"/><path d="M550.07,259.70 L555.83,256.38 L555.83,263.03Z" fill="#1E6EE1"/>
<path d="M563.15,259.40 L574.67,252.75 L574.67,266.05Z" fill="#fff" stroke="#1E6EE1" stroke-width="1.4"/><path d="M563.15,259.40 L568.91,256.07 L568.91,262.72Z" fill="#1E6EE1"/>
<path d="M576.24,258.28 L587.75,251.63 L587.75,264.93Z" fill="#fff" stroke="#1E6EE1" stroke-width="1.4"/><path d="M576.24,258.28 L582.00,254.96 L582.00,261.61Z" fill="#1E6EE1"/>
<path d="M589.32,258.55 L600.84,251.90 L600.84,265.20Z" fill="#fff" stroke="#1E6EE1" stroke-width="1.4"/><path d="M589.32,258.55 L595.08,255.23 L595.08,261.88Z" fill="#1E6EE1"/>
<polyline fill="none" stroke="#3CAF69" stroke-width="1.1" points="86.7,334.4 99.8,328.9 112.9,323.8 125.9,357.3 139.0,349.3 152.1,387.6 165.2,359.9 178.3,353.3 191.4,387.6 204.4,352.6 217.5,324.2 230.6,328.5 243.7,319.4 256.8,306.3 269.9,300.5 283.0,293.2 296.0,265.5 309.1,276.8 322.2,264.0 335.3,277.5 348.4,274.4 361.5,274.2 374.6,269.1 387.6,276.0 400.7,272.9 413.8,281.9 426.9,271.4 440.0,275.7 453.1,269.1 466.1,269.5 479.2,273.2 492.3,268.5 505.4,266.5 518.5,273.8 531.6,269.1 544.7,268.6 557.7,266.4 570.8,267.0 583.9,266.6 597.0,270.9"/>
<path d="M86.69,327.72 L93.34,334.37 L86.69,341.02 L80.03,334.37Z" fill="#fff" stroke="#3CAF69" stroke-width="1.4"/><path d="M86.69,327.72 L93.34,334.37 L80.03,334.37Z" fill="#3CAF69"/>
<path d="M99.77,322.25 L106.42,328.90 L99.77,335.55 L93.12,328.90Z" fill="#fff" stroke="#3CAF69" stroke-width="1.4"/><path d="M99.77,322.25 L106.42,328.90 L93.12,328.90Z" fill="#3CAF69"/>
<path d="M112.85,317.15 L119.50,323.80 L112.85,330.45 L106.20,323.80Z" fill="#fff" stroke="#3CAF69" stroke-width="1.4"/><path d="M112.85,317.15 L119.50,323.80 L106.20,323.80Z" fill="#3CAF69"/>
<path d="M125.94,350.68 L132.59,357.33 L125.94,363.98 L119.29,357.33Z" fill="#fff" stroke="#3CAF69" stroke-width="1.4"/><path d="M125.94,350.68 L132.59,357.33 L119.29,357.33Z" fill="#3CAF69"/>
<path d="M139.02,342.66 L145.67,349.31 L139.02,355.96 L132.37,349.31Z" fill="#fff" stroke="#3CAF69" stroke-width="1.4"/><path d="M139.02,342.66 L145.67,349.31 L132.37,349.31Z" fill="#3CAF69"/>
<path d="M152.11,380.94 L158.76,387.59 L152.11,394.24 L145.46,387.59Z" fill="#fff" stroke="#3CAF69" stroke-width="1.4"/><path d="M152.11,380.94 L158.76,387.59 L145.46,387.59Z" fill="#3CAF69"/>
<path d="M165.19,353.23 L171.84,359.88 L165.19,366.53 L158.54,359.88Z" fill="#fff" stroke="#3CAF69" stroke-width="1.4"/><path d="M165.19,353.23 L171.84,359.88 L158.54,359.88Z" fill="#3CAF69"/>
<path d="M178.28,346.67 L184.93,353.32 L178.28,359.97 L171.63,353.32Z" fill="#fff" stroke="#3CAF69" stroke-width="1.4"/><path d="M178.28,346.67 L184.93,353.32 L171.63,353.32Z" fill="#3CAF69"/>
<path d="M191.37,380.94 L198.02,387.59 L191.37,394.24 L184.72,387.59Z" fill="#fff" stroke="#3CAF69" stroke-width="1.4"/><path d="M191.37,380.94 L198.02,387.59 L184.72,387.59Z" fill="#3CAF69"/>
<path d="M204.45,345.94 L211.10,352.59 L204.45,359.24 L197.80,352.59Z" fill="#fff" stroke="#3CAF69" stroke-width="1.4"/><path d="M204.45,345.94 L211.10,352.59 L197.80,352.59Z" fill="#3CAF69"/>
<path d="M217.53,317.51 L224.19,324.16 L217.53,330.81 L210.88,324.16Z" fill="#fff" stroke="#3CAF69" stroke-width="1.4"/><path d="M217.53,317.51 L224.19,324.16 L210.88,324.16Z" fill="#3CAF69"/>
<path d="M230.62,321.89 L237.27,328.54 L230.62,335.19 L223.97,328.54Z" fill="#fff" stroke="#3CAF69" stroke-width="1.4"/><path d="M230.62,321.89 L237.27,328.54 L223.97,328.54Z" fill="#3CAF69"/>
<path d="M243.70,312.77 L250.35,319.42 L243.70,326.07 L237.05,319.42Z" fill="#fff" stroke="#3CAF69" stroke-width="1.4"/><path d="M243.70,312.77 L250.35,319.42 L237.05,319.42Z" fill="#3CAF69"/>
<path d="M256.79,299.65 L263.44,306.30 L256.79,312.95 L250.14,306.30Z" fill="#fff" stroke="#3CAF69" stroke-width="1.4"/><path d="M256.79,299.65 L263.44,306.30 L250.14,306.30Z" fill="#3CAF69"/>
<path d="M269.88,293.82 L276.52,300.47 L269.88,307.12 L263.23,300.47Z" fill="#fff" stroke="#3CAF69" stroke-width="1.4"/><path d="M269.88,293.82 L276.52,300.47 L263.23,300.47Z" fill="#3CAF69"/>
<path d="M282.96,286.53 L289.61,293.18 L282.96,299.83 L276.31,293.18Z" fill="#fff" stroke="#3CAF69" stroke-width="1.4"/><path d="M282.96,286.53 L289.61,293.18 L276.31,293.18Z" fill="#3CAF69"/>
<path d="M296.04,258.83 L302.69,265.48 L296.04,272.13 L289.39,265.48Z" fill="#fff" stroke="#3CAF69" stroke-width="1.4"/><path d="M296.04,258.83 L302.69,265.48 L289.39,265.48Z" fill="#3CAF69"/>
<path d="M309.13,270.13 L315.78,276.78 L309.13,283.43 L302.48,276.78Z" fill="#fff" stroke="#3CAF69" stroke-width="1.4"/><path d="M309.13,270.13 L315.78,276.78 L302.48,276.78Z" fill="#3CAF69"/>
<path d="M322.21,257.37 L328.86,264.02 L322.21,270.67 L315.56,264.02Z" fill="#fff" stroke="#3CAF69" stroke-width="1.4"/><path d="M322.21,257.37 L328.86,264.02 L315.56,264.02Z" fill="#3CAF69"/>
<path d="M335.30,270.86 L341.95,277.51 L335.30,284.16 L328.65,277.51Z" fill="#fff" stroke="#3CAF69" stroke-width="1.4"/><path d="M335.30,270.86 L341.95,277.51 L328.65,277.51Z" fill="#3CAF69"/>
<path d="M348.38,267.73 L355.03,274.38 L348.38,281.03 L341.74,274.38Z" fill="#fff" stroke="#3CAF69" stroke-width="1.4"/><path d="M348.38,267.73 L355.03,274.38 L341.74,274.38Z" fill="#3CAF69"/>
<path d="M361.47,267.58 L368.12,274.23 L361.47,280.88 L354.82,274.23Z" fill="#fff" stroke="#3CAF69" stroke-width="1.4"/><path d="M361.47,267.58 L368.12,274.23 L354.82,274.23Z" fill="#3CAF69"/>
<path d="M374.55,262.50 L381.20,269.15 L374.55,275.80 L367.90,269.15Z" fill="#fff" stroke="#3CAF69" stroke-width="1.4"/><path d="M374.55,262.50 L381.20,269.15 L367.90,269.15Z" fill="#3CAF69"/>
<path d="M387.64,269.40 L394.29,276.05 L387.64,282.70 L380.99,276.05Z" fill="#fff" stroke="#3CAF69" stroke-width="1.4"/><path d="M387.64,269.40 L394.29,276.05 L380.99,276.05Z" fill="#3CAF69"/>
<path d="M400.73,266.29 L407.38,272.94 L400.73,279.59 L394.08,272.94Z" fill="#fff" stroke="#3CAF69" stroke-width="1.4"/><path d="M400.73,266.29 L407.38,272.94 L394.08,272.94Z" fill="#3CAF69"/>
<path d="M413.81,275.23 L420.46,281.88 L413.81,288.53 L407.16,281.88Z" fill="#fff" stroke="#3CAF69" stroke-width="1.4"/><path d="M413.81,275.23 L420.46,281.88 L407.16,281.88Z" fill="#3CAF69"/>
<path d="M426.89,264.74 L433.54,271.39 L426.89,278.04 L420.25,271.39Z" fill="#fff" stroke="#3CAF69" stroke-width="1.4"/><path d="M426.89,264.74 L433.54,271.39 L420.25,271.39Z" fill="#3CAF69"/>
<path d="M439.98,269.03 L446.63,275.68 L439.98,282.33 L433.33,275.68Z" fill="#fff" stroke="#3CAF69" stroke-width="1.4"/><path d="M439.98,269.03 L446.63,275.68 L433.33,275.68Z" fill="#3CAF69"/>
<path d="M453.06,262.49 L459.71,269.14 L453.06,275.79 L446.41,269.14Z" fill="#fff" stroke="#3CAF69" stroke-width="1.4"/><path d="M453.06,262.49 L459.71,269.14 L446.41,269.14Z" fill="#3CAF69"/>
<path d="M466.15,262.84 L472.80,269.49 L466.15,276.14 L459.50,269.49Z" fill="#fff" stroke="#3CAF69" stroke-width="1.4"/><path d="M466.15,262.84 L472.80,269.49 L459.50,269.49Z" fill="#3CAF69"/>
<path d="M479.24,266.55 L485.88,273.20 L479.24,279.85 L472.59,273.20Z" fill="#fff" stroke="#3CAF69" stroke-width="1.4"/><path d="M479.24,266.55 L485.88,273.20 L472.59,273.20Z" fill="#3CAF69"/>
<path d="M492.32,261.86 L498.97,268.51 L492.32,275.16 L485.67,268.51Z" fill="#fff" stroke="#3CAF69" stroke-width="1.4"/><path d="M492.32,261.86 L498.97,268.51 L485.67,268.51Z" fill="#3CAF69"/>
<path d="M505.40,259.82 L512.05,266.47 L505.40,273.12 L498.75,266.47Z" fill="#fff" stroke="#3CAF69" stroke-width="1.4"/><path d="M505.40,259.82 L512.05,266.47 L498.75,266.47Z" fill="#3CAF69"/>
<path d="M518.49,267.16 L525.14,273.81 L518.49,280.46 L511.84,273.81Z" fill="#fff" stroke="#3CAF69" stroke-width="1.4"/><path d="M518.49,267.16 L525.14,273.81 L511.84,273.81Z" fill="#3CAF69"/>
<path d="M531.57,262.48 L538.22,269.13 L531.57,275.78 L524.92,269.13Z" fill="#fff" stroke="#3CAF69" stroke-width="1.4"/><path d="M531.57,262.48 L538.22,269.13 L524.92,269.13Z" fill="#3CAF69"/>
<path d="M544.66,261.97 L551.31,268.62 L544.66,275.27 L538.01,268.62Z" fill="#fff" stroke="#3CAF69" stroke-width="1.4"/><path d="M544.66,261.97 L551.31,268.62 L538.01,268.62Z" fill="#3CAF69"/>
<path d="M557.75,259.79 L564.39,266.44 L557.75,273.09 L551.10,266.44Z" fill="#fff" stroke="#3CAF69" stroke-width="1.4"/><path d="M557.75,259.79 L564.39,266.44 L551.10,266.44Z" fill="#3CAF69"/>
<path d="M570.83,260.33 L577.48,266.98 L570.83,273.63 L564.18,266.98Z" fill="#fff" stroke="#3CAF69" stroke-width="1.4"/><path d="M570.83,260.33 L577.48,266.98 L564.18,266.98Z" fill="#3CAF69"/>
<path d="M583.91,259.96 L590.56,266.61 L583.91,273.26 L577.26,266.61Z" fill="#fff" stroke="#3CAF69" stroke-width="1.4"/><path d="M583.91,259.96 L590.56,266.61 L577.26,266.61Z" fill="#3CAF69"/>
<path d="M597.00,264.30 L603.65,270.95 L597.00,277.60 L590.35,270.95Z" fill="#fff" stroke="#3CAF69" stroke-width="1.4"/><path d="M597.00,264.30 L603.65,270.95 L590.35,270.95Z" fill="#3CAF69"/>
<polyline fill="none" stroke="#AF78E1" stroke-width="1.1" points="125.9,118.9 139.0,164.1 152.1,191.1 165.2,213.7 178.3,223.9 191.4,231.2 204.4,260.4 217.5,267.7 230.6,272.0 243.7,275.0 256.8,278.6 269.9,284.4 283.0,284.8 296.0,280.8 309.1,285.9 322.2,282.8 335.3,284.1 348.4,282.6 361.5,286.5 374.6,283.2 387.6,284.9 400.7,280.9 413.8,280.9 426.9,283.9 440.0,282.0 453.1,282.5 466.1,282.2 479.2,283.3 492.3,282.3 505.4,282.3 518.5,281.7 531.6,278.7 544.7,279.8 557.7,283.7 570.8,281.6 583.9,277.9 597.0,280.4"/>
<rect x="121.24" y="114.25" width="9.4" height="9.4" fill="#AF78E1"/>
<rect x="134.32" y="159.45" width="9.4" height="9.4" fill="#AF78E1"/>
<rect x="147.41" y="186.42" width="9.4" height="9.4" fill="#AF78E1"/>
<rect x="160.50" y="209.02" width="9.4" height="9.4" fill="#AF78E1"/>
<rect x="173.58" y="219.22" width="9.4" height="9.4" fill="#AF78E1"/>
<rect x="186.67" y="226.51" width="9.4" height="9.4" fill="#AF78E1"/>
<rect x="199.75" y="255.68" width="9.4" height="9.4" fill="#AF78E1"/>
<rect x="212.84" y="262.96" width="9.4" height="9.4" fill="#AF78E1"/>
<rect x="225.92" y="267.34" width="9.4" height="9.4" fill="#AF78E1"/>
<rect x="239.00" y="270.25" width="9.4" height="9.4" fill="#AF78E1"/>
<rect x="252.09" y="273.90" width="9.4" height="9.4" fill="#AF78E1"/>
<rect x="265.18" y="279.74" width="9.4" height="9.4" fill="#AF78E1"/>
<rect x="278.26" y="280.10" width="9.4" height="9.4" fill="#AF78E1"/>
<rect x="291.34" y="276.09" width="9.4" height="9.4" fill="#AF78E1"/>
<rect x="304.43" y="281.19" width="9.4" height="9.4" fill="#AF78E1"/>
<rect x="317.51" y="278.13" width="9.4" height="9.4" fill="#AF78E1"/>
<rect x="330.60" y="279.37" width="9.4" height="9.4" fill="#AF78E1"/>
<rect x="343.69" y="277.89" width="9.4" height="9.4" fill="#AF78E1"/>
<rect x="356.77" y="281.81" width="9.4" height="9.4" fill="#AF78E1"/>
<rect x="369.85" y="278.53" width="9.4" height="9.4" fill="#AF78E1"/>
<rect x="382.94" y="280.16" width="9.4" height="9.4" fill="#AF78E1"/>
<rect x="396.03" y="276.23" width="9.4" height="9.4" fill="#AF78E1"/>
<rect x="409.11" y="276.21" width="9.4" height="9.4" fill="#AF78E1"/>
<rect x="422.19" y="279.25" width="9.4" height="9.4" fill="#AF78E1"/>
<rect x="435.28" y="277.33" width="9.4" height="9.4" fill="#AF78E1"/>
<rect x="448.36" y="277.76" width="9.4" height="9.4" fill="#AF78E1"/>
<rect x="461.45" y="277.55" width="9.4" height="9.4" fill="#AF78E1"/>
<rect x="474.54" y="278.64" width="9.4" height="9.4" fill="#AF78E1"/>
<rect x="487.62" y="277.57" width="9.4" height="9.4" fill="#AF78E1"/>
<rect x="500.70" y="277.61" width="9.4" height="9.4" fill="#AF78E1"/>
<rect x="513.79" y="277.01" width="9.4" height="9.4" fill="#AF78E1"/>
<rect x="526.87" y="274.00" width="9.4" height="9.4" fill="#AF78E1"/>
<rect x="539.96" y="275.11" width="9.4" height="9.4" fill="#AF78E1"/>
<rect x="553.04" y="278.96" width="9.4" height="9.4" fill="#AF78E1"/>
<rect x="566.13" y="276.95" width="9.4" height="9.4" fill="#AF78E1"/>
<rect x="579.21" y="273.18" width="9.4" height="9.4" fill="#AF78E1"/>
<rect x="592.30" y="275.72" width="9.4" height="9.4" fill="#AF78E1"/>
<polyline fill="none" stroke="#C8960A" stroke-width="1.1" points="125.9,134.6 139.0,187.5 152.1,187.5 165.2,230.5 178.3,233.0 191.4,231.2 204.4,224.7 217.5,229.4 230.6,230.9 243.7,230.1 256.8,237.0 269.9,254.9 283.0,259.6 296.0,260.0 309.1,257.8 322.2,254.9 335.3,255.7 348.4,253.9 361.5,253.4 374.6,257.1 387.6,256.6 400.7,254.8 413.8,257.8 426.9,257.1 440.0,258.2 453.1,257.1 466.1,256.7 479.2,257.6 492.3,255.1 505.4,258.9 518.5,256.7 531.6,256.4 544.7,256.0 557.7,258.2 570.8,258.9 583.9,257.6 597.0,257.5"/>
<circle cx="125.94" cy="134.62" r="5.5" fill="#C8960A"/>
<circle cx="139.02" cy="187.47" r="5.5" fill="#C8960A"/>
<circle cx="152.11" cy="187.47" r="5.5" fill="#C8960A"/>
<circle cx="165.19" cy="230.49" r="5.5" fill="#C8960A"/>
<circle cx="178.28" cy="233.04" r="5.5" fill="#C8960A"/>
<circle cx="191.37" cy="231.21" r="5.5" fill="#C8960A"/>
<circle cx="204.45" cy="224.65" r="5.5" fill="#C8960A"/>
<circle cx="217.53" cy="229.39" r="5.5" fill="#C8960A"/>
<circle cx="230.62" cy="230.85" r="5.5" fill="#C8960A"/>
<circle cx="243.70" cy="230.12" r="5.5" fill="#C8960A"/>
<circle cx="256.79" cy="237.05" r="5.5" fill="#C8960A"/>
<circle cx="269.88" cy="254.91" r="5.5" fill="#C8960A"/>
<circle cx="282.96" cy="259.65" r="5.5" fill="#C8960A"/>
<circle cx="296.04" cy="260.03" r="5.5" fill="#C8960A"/>
<circle cx="309.13" cy="257.82" r="5.5" fill="#C8960A"/>
<circle cx="322.21" cy="254.91" r="5.5" fill="#C8960A"/>
<circle cx="335.30" cy="255.72" r="5.5" fill="#C8960A"/>
<circle cx="348.38" cy="253.94" r="5.5" fill="#C8960A"/>
<circle cx="361.47" cy="253.45" r="5.5" fill="#C8960A"/>
<circle cx="374.55" cy="257.09" r="5.5" fill="#C8960A"/>
<circle cx="387.64" cy="256.56" r="5.5" fill="#C8960A"/>
<circle cx="400.73" cy="254.84" r="5.5" fill="#C8960A"/>
<circle cx="413.81" cy="257.84" r="5.5" fill="#C8960A"/>
<circle cx="426.89" cy="257.06" r="5.5" fill="#C8960A"/>
<circle cx="439.98" cy="258.22" r="5.5" fill="#C8960A"/>
<circle cx="453.06" cy="257.12" r="5.5" fill="#C8960A"/>
<circle cx="466.15" cy="256.73" r="5.5" fill="#C8960A"/>
<circle cx="479.24" cy="257.60" r="5.5" fill="#C8960A"/>
<circle cx="492.32" cy="255.09" r="5.5" fill="#C8960A"/>
<circle cx="505.40" cy="258.86" r="5.5" fill="#C8960A"/>
<circle cx="518.49" cy="256.69" r="5.5" fill="#C8960A"/>
<circle cx="531.57" cy="256.44" r="5.5" fill="#C8960A"/>
<circle cx="544.66" cy="255.99" r="5.5" fill="#C8960A"/>
<circle cx="557.75" cy="258.22" r="5.5" fill="#C8960A"/>
<circle cx="570.83" cy="258.86" r="5.5" fill="#C8960A"/>
<circle cx="583.91" cy="257.56" r="5.5" fill="#C8960A"/>
<circle cx="597.00" cy="257.46" r="5.5" fill="#C8960A"/>
<polyline fill="none" stroke="#14CDCD" stroke-width="1.1" points="139.0,147.4 152.1,178.4 165.2,205.7 178.3,223.9 191.4,231.2 204.4,260.4 217.5,243.6 230.6,242.1 243.7,256.7 256.8,267.7 269.9,292.1 283.0,304.1 296.0,311.4 309.1,313.2 322.2,311.8 335.3,316.1 348.4,312.9 361.5,306.3 374.6,300.1 387.6,294.6 400.7,294.7 413.8,289.5 426.9,287.4 440.0,286.4 453.1,287.8 466.1,284.1 479.2,287.5 492.3,283.0 505.4,286.3 518.5,284.1 531.6,282.1 544.7,278.2 557.7,276.8 570.8,276.4 583.9,275.5 597.0,278.6"/>
<path d="M139.02,139.70 L145.67,151.22 L132.37,151.22Z" fill="#14CDCD"/>
<path d="M152.11,170.68 L158.76,182.20 L145.46,182.20Z" fill="#14CDCD"/>
<path d="M165.19,198.02 L171.84,209.54 L158.54,209.54Z" fill="#14CDCD"/>
<path d="M178.28,216.25 L184.93,227.76 L171.63,227.76Z" fill="#14CDCD"/>
<path d="M191.37,223.54 L198.02,235.05 L184.72,235.05Z" fill="#14CDCD"/>
<path d="M204.45,252.70 L211.10,264.21 L197.80,264.21Z" fill="#14CDCD"/>
<path d="M217.53,235.93 L224.19,247.45 L210.88,247.45Z" fill="#14CDCD"/>
<path d="M230.62,234.47 L237.27,245.99 L223.97,245.99Z" fill="#14CDCD"/>
<path d="M243.70,249.05 L250.35,260.57 L237.05,260.57Z" fill="#14CDCD"/>
<path d="M256.79,259.99 L263.44,271.50 L250.14,271.50Z" fill="#14CDCD"/>
<path d="M269.88,284.41 L276.52,295.93 L263.23,295.93Z" fill="#14CDCD"/>
<path d="M282.96,296.44 L289.61,307.95 L276.31,307.95Z" fill="#14CDCD"/>
<path d="M296.04,303.73 L302.69,315.24 L289.39,315.24Z" fill="#14CDCD"/>
<path d="M309.13,305.55 L315.78,317.07 L302.48,317.07Z" fill="#14CDCD"/>
<path d="M322.21,304.09 L328.86,315.61 L315.56,315.61Z" fill="#14CDCD"/>
<path d="M335.30,308.46 L341.95,319.98 L328.65,319.98Z" fill="#14CDCD"/>
<path d="M348.38,305.18 L355.03,316.70 L341.74,316.70Z" fill="#14CDCD"/>
<path d="M361.47,298.62 L368.12,310.14 L354.82,310.14Z" fill="#14CDCD"/>
<path d="M374.55,292.43 L381.20,303.94 L367.90,303.94Z" fill="#14CDCD"/>
<path d="M387.64,286.96 L394.29,298.48 L380.99,298.48Z" fill="#14CDCD"/>
<path d="M400.73,287.06 L407.38,298.58 L394.08,298.58Z" fill="#14CDCD"/>
<path d="M413.81,281.86 L420.46,293.37 L407.16,293.37Z" fill="#14CDCD"/>
<path d="M426.89,279.77 L433.54,291.28 L420.25,291.28Z" fill="#14CDCD"/>
<path d="M439.98,278.75 L446.63,290.27 L433.33,290.27Z" fill="#14CDCD"/>
<path d="M453.06,280.10 L459.71,291.62 L446.41,291.62Z" fill="#14CDCD"/>
<path d="M466.15,276.39 L472.80,287.91 L459.50,287.91Z" fill="#14CDCD"/>
<path d="M479.24,279.86 L485.88,291.38 L472.59,291.38Z" fill="#14CDCD"/>
<path d="M492.32,275.28 L498.97,286.80 L485.67,286.80Z" fill="#14CDCD"/>
<path d="M505.40,278.58 L512.05,290.09 L498.75,290.09Z" fill="#14CDCD"/>
<path d="M518.49,276.44 L525.14,287.96 L511.84,287.96Z" fill="#14CDCD"/>
<path d="M531.57,274.40 L538.22,285.92 L524.92,285.92Z" fill="#14CDCD"/>
<path d="M544.66,270.56 L551.31,282.07 L538.01,282.07Z" fill="#14CDCD"/>
<path d="M557.75,269.10 L564.39,280.62 L551.10,280.62Z" fill="#14CDCD"/>
<path d="M570.83,268.73 L577.48,280.24 L564.18,280.24Z" fill="#14CDCD"/>
<path d="M583.91,267.78 L590.56,279.30 L577.26,279.30Z" fill="#14CDCD"/>
<path d="M597.00,270.92 L603.65,282.44 L590.35,282.44Z" fill="#14CDCD"/>
<polyline fill="none" stroke="#784B4B" stroke-width="1.1" points="125.9,136.1 139.0,175.8 152.1,201.7 165.2,220.3 178.3,223.9 191.4,231.2 204.4,256.7 217.5,267.7 230.6,278.2 243.7,271.3 256.8,299.0 269.9,282.2 283.0,242.9 296.0,265.5 309.1,276.8 322.2,264.0 335.3,277.5 348.4,274.4 361.5,274.2 374.6,269.1 387.6,276.0 400.7,272.9 413.8,281.9 426.9,271.4 440.0,275.7 453.1,269.1 466.1,269.5 479.2,273.2 492.3,268.5 505.4,266.5 518.5,273.8 531.6,269.1 544.7,268.6 557.7,266.4 570.8,267.0 583.9,266.6 597.0,270.9"/>
<path d="M125.94,143.76 L119.29,132.24 L132.59,132.24Z" fill="#784B4B"/>
<path d="M139.02,183.49 L132.37,171.97 L145.67,171.97Z" fill="#784B4B"/>
<path d="M152.11,209.37 L145.46,197.85 L158.76,197.85Z" fill="#784B4B"/>
<path d="M165.19,227.96 L158.54,216.44 L171.84,216.44Z" fill="#784B4B"/>
<path d="M178.28,231.60 L171.63,220.09 L184.93,220.09Z" fill="#784B4B"/>
<path d="M191.37,238.89 L184.72,227.38 L198.02,227.38Z" fill="#784B4B"/>
<path d="M204.45,264.41 L197.80,252.89 L211.10,252.89Z" fill="#784B4B"/>
<path d="M217.53,275.34 L210.88,263.83 L224.19,263.83Z" fill="#784B4B"/>
<path d="M230.62,285.91 L223.97,274.40 L237.27,274.40Z" fill="#784B4B"/>
<path d="M243.70,278.99 L237.05,267.47 L250.35,267.47Z" fill="#784B4B"/>
<path d="M256.79,306.69 L250.14,295.17 L263.44,295.17Z" fill="#784B4B"/>
<path d="M269.88,289.92 L263.23,278.41 L276.52,278.41Z" fill="#784B4B"/>
<path d="M282.96,250.56 L276.31,239.04 L289.61,239.04Z" fill="#784B4B"/>
<path d="M296.04,273.16 L289.39,261.64 L302.69,261.64Z" fill="#784B4B"/>
<path d="M309.13,284.46 L302.48,272.94 L315.78,272.94Z" fill="#784B4B"/>
<path d="M322.21,271.70 L315.56,260.18 L328.86,260.18Z" fill="#784B4B"/>
<path d="M335.30,285.19 L328.65,273.67 L341.95,273.67Z" fill="#784B4B"/>
<path d="M348.38,282.05 L341.74,270.54 L355.03,270.54Z" fill="#784B4B"/>
<path d="M361.47,281.90 L354.82,270.39 L368.12,270.39Z" fill="#784B4B"/>
<path d="M374.55,276.82 L367.90,265.31 L381.20,265.31Z" fill="#784B4B"/>
<path d="M387.64,283.73 L380.99,272.21 L394.29,272.21Z" fill="#784B4B"/>
<path d="M400.73,280.62 L394.08,269.10 L407.38,269.10Z" fill="#784B4B"/>
<path d="M413.81,289.56 L407.16,278.04 L420.46,278.04Z" fill="#784B4B"/>
<path d="M426.89,279.07 L420.25,267.55 L433.54,267.55Z" fill="#784B4B"/>
<path d="M439.98,283.36 L433.33,271.84 L446.63,271.84Z" fill="#784B4B"/>
<path d="M453.06,276.81 L446.41,265.30 L459.71,265.30Z" fill="#784B4B"/>
<path d="M466.15,277.17 L459.50,265.65 L472.80,265.65Z" fill="#784B4B"/>
<path d="M479.24,280.88 L472.59,269.36 L485.88,269.36Z" fill="#784B4B"/>
<path d="M492.32,276.19 L485.67,264.67 L498.97,264.67Z" fill="#784B4B"/>
<path d="M505.40,274.15 L498.75,262.63 L512.05,262.63Z" fill="#784B4B"/>
<path d="M518.49,281.49 L511.84,269.97 L525.14,269.97Z" fill="#784B4B"/>
<path d="M531.57,276.80 L524.92,265.29 L538.22,265.29Z" fill="#784B4B"/>
<path d="M544.66,276.30 L538.01,264.78 L551.31,264.78Z" fill="#784B4B"/>
<path d="M557.75,274.12 L551.10,262.60 L564.39,262.60Z" fill="#784B4B"/>
<path d="M570.83,274.66 L564.18,263.14 L577.48,263.14Z" fill="#784B4B"/>
<path d="M583.91,274.29 L577.26,262.77 L590.56,262.77Z" fill="#784B4B"/>
<path d="M597.00,278.62 L590.35,267.11 L603.65,267.11Z" fill="#784B4B"/>
<polyline fill="none" stroke="#87870F" stroke-width="1.1" points="125.9,44.2 139.0,146.3 152.1,194.8 165.2,222.1 178.3,225.7 191.4,231.2 204.4,260.4 217.5,262.2 230.6,260.4 243.7,264.0 256.8,290.6 269.9,278.6 283.0,242.9 296.0,265.5 309.1,276.8 322.2,264.0 335.3,277.5 348.4,274.4 361.5,274.2 374.6,269.1 387.6,276.0 400.7,272.9 413.8,281.9 426.9,271.4 440.0,275.7 453.1,269.1 466.1,269.5 479.2,273.2 492.3,268.5 505.4,266.5 518.5,273.8 531.6,269.1 544.7,268.6 557.7,266.4 570.8,267.0 583.9,266.6 597.0,270.9"/>
<path d="M125.94,37.58 L132.59,44.23 L125.94,50.88 L119.29,44.23Z" fill="#87870F"/>
<path d="M139.02,139.64 L145.67,146.29 L139.02,152.94 L132.37,146.29Z" fill="#87870F"/>
<path d="M152.11,188.11 L158.76,194.76 L152.11,201.41 L145.46,194.76Z" fill="#87870F"/>
<path d="M165.19,215.45 L171.84,222.10 L165.19,228.75 L158.54,222.10Z" fill="#87870F"/>
<path d="M178.28,219.10 L184.93,225.75 L178.28,232.40 L171.63,225.75Z" fill="#87870F"/>
<path d="M191.37,224.56 L198.02,231.21 L191.37,237.86 L184.72,231.21Z" fill="#87870F"/>
<path d="M204.45,253.72 L211.10,260.38 L204.45,267.02 L197.80,260.38Z" fill="#87870F"/>
<path d="M217.53,255.55 L224.19,262.20 L217.53,268.85 L210.88,262.20Z" fill="#87870F"/>
<path d="M230.62,253.72 L237.27,260.38 L230.62,267.02 L223.97,260.38Z" fill="#87870F"/>
<path d="M243.70,257.37 L250.35,264.02 L243.70,270.67 L237.05,264.02Z" fill="#87870F"/>
<path d="M256.79,283.98 L263.44,290.63 L256.79,297.28 L250.14,290.63Z" fill="#87870F"/>
<path d="M269.88,271.95 L276.52,278.60 L269.88,285.25 L263.23,278.60Z" fill="#87870F"/>
<path d="M282.96,236.23 L289.61,242.88 L282.96,249.53 L276.31,242.88Z" fill="#87870F"/>
<path d="M296.04,258.83 L302.69,265.48 L296.04,272.13 L289.39,265.48Z" fill="#87870F"/>
<path d="M309.13,270.13 L315.78,276.78 L309.13,283.43 L302.48,276.78Z" fill="#87870F"/>
<path d="M322.21,257.37 L328.86,264.02 L322.21,270.67 L315.56,264.02Z" fill="#87870F"/>
<path d="M335.30,270.86 L341.95,277.51 L335.30,284.16 L328.65,277.51Z" fill="#87870F"/>
<path d="M348.38,267.73 L355.03,274.38 L348.38,281.03 L341.74,274.38Z" fill="#87870F"/>
<path d="M361.47,267.58 L368.12,274.23 L361.47,280.88 L354.82,274.23Z" fill="#87870F"/>
<path d="M374.55,262.50 L381.20,269.15 L374.55,275.80 L367.90,269.15Z" fill="#87870F"/>
<path d="M387.64,269.40 L394.29,276.05 L387.64,282.70 L380.99,276.05Z" fill="#87870F"/>
<path d="M400.73,266.29 L407.38,272.94 L400.73,279.59 L394.08,272.94Z" fill="#87870F"/>
<path d="M413.81,275.23 L420.46,281.88 L413.81,288.53 L407.16,281.88Z" fill="#87870F"/>
<path d="M426.89,264.74 L433.54,271.39 L426.89,278.04 L420.25,271.39Z" fill="#87870F"/>
<path d="M439.98,269.03 L446.63,275.68 L439.98,282.33 L433.33,275.68Z" fill="#87870F"/>
<path d="M453.06,262.49 L459.71,269.14 L453.06,275.79 L446.41,269.14Z" fill="#87870F"/>
<path d="M466.15,262.84 L472.80,269.49 L466.15,276.14 L459.50,269.49Z" fill="#87870F"/>
<path d="M479.24,266.55 L485.88,273.20 L479.24,279.85 L472.59,273.20Z" fill="#87870F"/>
<path d="M492.32,261.86 L498.97,268.51 L492.32,275.16 L485.67,268.51Z" fill="#87870F"/>
<path d="M505.40,259.82 L512.05,266.47 L505.40,273.12 L498.75,266.47Z" fill="#87870F"/>
<path d="M518.49,267.16 L525.14,273.81 L518.49,280.46 L511.84,273.81Z" fill="#87870F"/>
<path d="M531.57,262.48 L538.22,269.13 L531.57,275.78 L524.92,269.13Z" fill="#87870F"/>
<path d="M544.66,261.97 L551.31,268.62 L544.66,275.27 L538.01,268.62Z" fill="#87870F"/>
<path d="M557.75,259.79 L564.39,266.44 L557.75,273.09 L551.10,266.44Z" fill="#87870F"/>
<path d="M570.83,260.33 L577.48,266.98 L570.83,273.63 L564.18,266.98Z" fill="#87870F"/>
<path d="M583.91,259.96 L590.56,266.61 L583.91,273.26 L577.26,266.61Z" fill="#87870F"/>
<path d="M597.00,264.30 L603.65,270.95 L597.00,277.60 L590.35,270.95Z" fill="#87870F"/>
<polyline fill="none" stroke="#FF6400" stroke-width="1.1" points="139.0,132.4 152.1,157.6 165.2,194.8 178.3,223.9 191.4,239.6 204.4,256.7 217.5,256.7 230.6,260.4 243.7,270.9 256.8,282.2 269.9,288.8 283.0,296.8 296.0,306.3 309.1,302.3 322.2,293.5 335.3,296.8 348.4,294.6 361.5,297.6 374.6,291.4 387.6,293.5 400.7,293.7 413.8,292.4 426.9,290.7 440.0,292.5 453.1,292.6 466.1,288.8 479.2,284.0 492.3,280.8 505.4,276.7 518.5,276.8 531.6,277.4 544.7,277.9 557.7,275.9 570.8,277.4 583.9,276.3 597.0,275.0"/>
<path d="M131.35,132.44 L142.86,125.79 L142.86,139.09Z" fill="#FF6400"/>
<path d="M144.43,157.59 L155.95,150.94 L155.95,164.24Z" fill="#FF6400"/>
<path d="M157.52,194.76 L169.03,188.11 L169.03,201.41Z" fill="#FF6400"/>
<path d="M170.60,223.92 L182.12,217.27 L182.12,230.57Z" fill="#FF6400"/>
<path d="M183.69,239.60 L195.20,232.95 L195.20,246.25Z" fill="#FF6400"/>
<path d="M196.77,256.73 L208.29,250.08 L208.29,263.38Z" fill="#FF6400"/>
<path d="M209.86,256.73 L221.37,250.08 L221.37,263.38Z" fill="#FF6400"/>
<path d="M222.94,260.38 L234.46,253.72 L234.46,267.02Z" fill="#FF6400"/>
<path d="M236.03,270.95 L247.54,264.30 L247.54,277.60Z" fill="#FF6400"/>
<path d="M249.11,282.25 L260.63,275.60 L260.63,288.89Z" fill="#FF6400"/>
<path d="M262.20,288.81 L273.71,282.16 L273.71,295.46Z" fill="#FF6400"/>
<path d="M275.28,296.82 L286.80,290.17 L286.80,303.47Z" fill="#FF6400"/>
<path d="M288.37,306.30 L299.88,299.65 L299.88,312.95Z" fill="#FF6400"/>
<path d="M301.45,302.29 L312.97,295.64 L312.97,308.94Z" fill="#FF6400"/>
<path d="M314.54,293.54 L326.05,286.89 L326.05,300.19Z" fill="#FF6400"/>
<path d="M327.62,296.82 L339.14,290.17 L339.14,303.47Z" fill="#FF6400"/>
<path d="M340.71,294.64 L352.22,287.99 L352.22,301.29Z" fill="#FF6400"/>
<path d="M353.79,297.55 L365.31,290.90 L365.31,304.20Z" fill="#FF6400"/>
<path d="M366.88,291.36 L378.39,284.71 L378.39,298.01Z" fill="#FF6400"/>
<path d="M379.96,293.54 L391.48,286.89 L391.48,300.19Z" fill="#FF6400"/>
<path d="M393.05,293.69 L404.56,287.04 L404.56,300.34Z" fill="#FF6400"/>
<path d="M406.13,292.40 L417.65,285.75 L417.65,299.05Z" fill="#FF6400"/>
<path d="M419.22,290.67 L430.73,284.02 L430.73,297.32Z" fill="#FF6400"/>
<path d="M432.30,292.45 L443.82,285.80 L443.82,299.10Z" fill="#FF6400"/>
<path d="M445.39,292.65 L456.90,286.00 L456.90,299.30Z" fill="#FF6400"/>
<path d="M458.47,288.81 L469.99,282.16 L469.99,295.46Z" fill="#FF6400"/>
<path d="M471.56,284.01 L483.07,277.36 L483.07,290.66Z" fill="#FF6400"/>
<path d="M484.64,280.79 L496.16,274.14 L496.16,287.44Z" fill="#FF6400"/>
<path d="M497.73,276.69 L509.24,270.04 L509.24,283.34Z" fill="#FF6400"/>
<path d="M510.81,276.78 L522.33,270.13 L522.33,283.43Z" fill="#FF6400"/>
<path d="M523.90,277.42 L535.41,270.77 L535.41,284.07Z" fill="#FF6400"/>
<path d="M536.98,277.89 L548.50,271.24 L548.50,284.54Z" fill="#FF6400"/>
<path d="M550.07,275.87 L561.58,269.22 L561.58,282.52Z" fill="#FF6400"/>
<path d="M563.15,277.41 L574.67,270.76 L574.67,284.06Z" fill="#FF6400"/>
<path d="M576.24,276.34 L587.75,269.69 L587.75,282.99Z" fill="#FF6400"/>
<path d="M589.32,274.95 L600.84,268.31 L600.84,281.60Z" fill="#FF6400"/>
<polyline fill="none" stroke="#6496D2" stroke-width="1.1" points="125.9,161.2 139.0,200.2 152.1,193.7 165.2,205.0 178.3,230.5 191.4,234.9 204.4,238.5 217.5,242.1 230.6,245.8 243.7,247.3 256.8,249.4 269.9,238.5 283.0,251.3 296.0,251.5 309.1,250.5 322.2,250.5 335.3,253.1 348.4,253.4 361.5,256.5 374.6,257.6 387.6,259.3 400.7,257.5 413.8,258.1 426.9,259.0 440.0,258.9 453.1,255.1 466.1,256.7 479.2,257.9 492.3,257.4 505.4,254.4 518.5,255.2 531.6,254.2 544.7,251.8 557.7,250.4 570.8,250.9 583.9,252.4 597.0,254.2"/>
<path d="M133.62,161.23 L122.10,167.88 L122.10,154.58Z" fill="#6496D2"/>
<path d="M146.70,200.23 L135.19,206.88 L135.19,193.58Z" fill="#6496D2"/>
<path d="M159.79,193.67 L148.27,200.32 L148.27,187.02Z" fill="#6496D2"/>
<path d="M172.87,204.97 L161.36,211.62 L161.36,198.32Z" fill="#6496D2"/>
<path d="M185.96,230.49 L174.44,237.14 L174.44,223.84Z" fill="#6496D2"/>
<path d="M199.04,234.86 L187.53,241.51 L187.53,228.21Z" fill="#6496D2"/>
<path d="M212.13,238.50 L200.61,245.15 L200.61,231.85Z" fill="#6496D2"/>
<path d="M225.21,242.15 L213.70,248.80 L213.70,235.50Z" fill="#6496D2"/>
<path d="M238.30,245.79 L226.78,252.44 L226.78,239.14Z" fill="#6496D2"/>
<path d="M251.38,247.26 L239.87,253.91 L239.87,240.61Z" fill="#6496D2"/>
<path d="M264.47,249.44 L252.95,256.09 L252.95,242.79Z" fill="#6496D2"/>
<path d="M277.55,238.50 L266.04,245.15 L266.04,231.85Z" fill="#6496D2"/>
<path d="M290.64,251.26 L279.12,257.91 L279.12,244.61Z" fill="#6496D2"/>
<path d="M303.72,251.55 L292.21,258.20 L292.21,244.90Z" fill="#6496D2"/>
<path d="M316.81,250.45 L305.29,257.10 L305.29,243.80Z" fill="#6496D2"/>
<path d="M329.89,250.52 L318.38,257.17 L318.38,243.87Z" fill="#6496D2"/>
<path d="M342.98,253.08 L331.46,259.73 L331.46,246.43Z" fill="#6496D2"/>
<path d="M356.06,253.43 L344.55,260.08 L344.55,246.78Z" fill="#6496D2"/>
<path d="M369.15,256.55 L357.63,263.20 L357.63,249.90Z" fill="#6496D2"/>
<path d="M382.23,257.58 L370.72,264.23 L370.72,250.93Z" fill="#6496D2"/>
<path d="M395.32,259.28 L383.80,265.93 L383.80,252.63Z" fill="#6496D2"/>
<path d="M408.40,257.50 L396.89,264.15 L396.89,250.85Z" fill="#6496D2"/>
<path d="M421.49,258.08 L409.97,264.73 L409.97,251.43Z" fill="#6496D2"/>
<path d="M434.57,258.99 L423.06,265.64 L423.06,252.34Z" fill="#6496D2"/>
<path d="M447.66,258.93 L436.14,265.58 L436.14,252.28Z" fill="#6496D2"/>
<path d="M460.74,255.12 L449.23,261.77 L449.23,248.47Z" fill="#6496D2"/>
<path d="M473.83,256.73 L462.31,263.38 L462.31,250.08Z" fill="#6496D2"/>
<path d="M486.91,257.92 L475.40,264.57 L475.40,251.27Z" fill="#6496D2"/>
<path d="M500.00,257.36 L488.48,264.01 L488.48,250.71Z" fill="#6496D2"/>
<path d="M513.08,254.42 L501.57,261.07 L501.57,247.77Z" fill="#6496D2"/>
<path d="M526.17,255.22 L514.65,261.87 L514.65,248.57Z" fill="#6496D2"/>
<path d="M539.25,254.23 L527.74,260.88 L527.74,247.58Z" fill="#6496D2"/>
<path d="M552.34,251.77 L540.82,258.42 L540.82,245.12Z" fill="#6496D2"/>
<path d="M565.42,250.45 L553.91,257.10 L553.91,243.80Z" fill="#6496D2"/>
<path d="M578.51,250.90 L566.99,257.55 L566.99,244.25Z" fill="#6496D2"/>
<path d="M591.59,252.36 L580.08,259.01 L580.08,245.71Z" fill="#6496D2"/>
<path d="M604.68,254.18 L593.16,260.83 L593.16,247.53Z" fill="#6496D2"/>
<polyline fill="none" stroke="#6EB914" stroke-width="1.1" points="125.9,44.2 139.0,146.3 152.1,166.3 165.2,198.4 178.3,216.6 191.4,227.6 204.4,229.4 217.5,238.5 230.6,245.8 243.7,251.0 256.8,250.6 269.9,255.6 283.0,260.4 296.0,260.8 309.1,258.6 322.2,255.6 335.3,256.5 348.4,254.7 361.5,254.2 374.6,257.8 387.6,257.3 400.7,255.6 413.8,258.6 426.9,257.8 440.0,258.9 453.1,257.9 466.1,257.5 479.2,258.3 492.3,255.8 505.4,259.6 518.5,257.4 531.6,257.2 544.7,256.7 557.7,259.0 570.8,259.6 583.9,258.3 597.0,258.2"/>
<path d="M125.94,38.13 L131.22,41.18 L131.22,47.28 L125.94,50.33 L120.66,47.28 L120.66,41.18Z" fill="#6EB914"/>
<path d="M139.02,140.19 L144.31,143.24 L144.31,149.34 L139.02,152.39 L133.74,149.34 L133.74,143.24Z" fill="#6EB914"/>
<path d="M152.11,160.23 L157.39,163.28 L157.39,169.38 L152.11,172.43 L146.83,169.38 L146.83,163.28Z" fill="#6EB914"/>
<path d="M165.19,192.31 L170.48,195.36 L170.48,201.46 L165.19,204.51 L159.91,201.46 L159.91,195.36Z" fill="#6EB914"/>
<path d="M178.28,210.53 L183.56,213.58 L183.56,219.68 L178.28,222.73 L173.00,219.68 L173.00,213.58Z" fill="#6EB914"/>
<path d="M191.37,221.47 L196.65,224.52 L196.65,230.62 L191.37,233.67 L186.08,230.62 L186.08,224.52Z" fill="#6EB914"/>
<path d="M204.45,223.29 L209.73,226.34 L209.73,232.44 L204.45,235.49 L199.17,232.44 L199.17,226.34Z" fill="#6EB914"/>
<path d="M217.53,232.40 L222.82,235.45 L222.82,241.55 L217.53,244.60 L212.25,241.55 L212.25,235.45Z" fill="#6EB914"/>
<path d="M230.62,239.69 L235.90,242.74 L235.90,248.84 L230.62,251.89 L225.34,248.84 L225.34,242.74Z" fill="#6EB914"/>
<path d="M243.70,244.93 L248.99,247.98 L248.99,254.08 L243.70,257.13 L238.42,254.08 L238.42,247.98Z" fill="#6EB914"/>
<path d="M256.79,244.49 L262.07,247.54 L262.07,253.64 L256.79,256.69 L251.51,253.64 L251.51,247.54Z" fill="#6EB914"/>
<path d="M269.88,249.54 L275.16,252.59 L275.16,258.69 L269.88,261.74 L264.59,258.69 L264.59,252.59Z" fill="#6EB914"/>
<path d="M282.96,254.28 L288.24,257.32 L288.24,263.43 L282.96,266.48 L277.68,263.43 L277.68,257.32Z" fill="#6EB914"/>
<path d="M296.04,254.66 L301.33,257.71 L301.33,263.81 L296.04,266.86 L290.76,263.81 L290.76,257.71Z" fill="#6EB914"/>
<path d="M309.13,252.45 L314.41,255.50 L314.41,261.60 L309.13,264.65 L303.85,261.60 L303.85,255.50Z" fill="#6EB914"/>
<path d="M322.21,249.54 L327.50,252.59 L327.50,258.69 L322.21,261.74 L316.93,258.69 L316.93,252.59Z" fill="#6EB914"/>
<path d="M335.30,250.35 L340.58,253.40 L340.58,259.50 L335.30,262.55 L330.02,259.50 L330.02,253.40Z" fill="#6EB914"/>
<path d="M348.38,248.57 L353.67,251.62 L353.67,257.72 L348.38,260.77 L343.10,257.72 L343.10,251.62Z" fill="#6EB914"/>
<path d="M361.47,248.08 L366.75,251.13 L366.75,257.23 L361.47,260.28 L356.19,257.23 L356.19,251.13Z" fill="#6EB914"/>
<path d="M374.55,251.72 L379.84,254.77 L379.84,260.87 L374.55,263.92 L369.27,260.87 L369.27,254.77Z" fill="#6EB914"/>
<path d="M387.64,251.19 L392.92,254.24 L392.92,260.34 L387.64,263.39 L382.36,260.34 L382.36,254.24Z" fill="#6EB914"/>
<path d="M400.73,249.47 L406.01,252.52 L406.01,258.62 L400.73,261.67 L395.44,258.62 L395.44,252.52Z" fill="#6EB914"/>
<path d="M413.81,252.46 L419.09,255.51 L419.09,261.61 L413.81,264.66 L408.53,261.61 L408.53,255.51Z" fill="#6EB914"/>
<path d="M426.89,251.69 L432.18,254.74 L432.18,260.84 L426.89,263.89 L421.61,260.84 L421.61,254.74Z" fill="#6EB914"/>
<path d="M439.98,252.85 L445.26,255.90 L445.26,262.00 L439.98,265.05 L434.70,262.00 L434.70,255.90Z" fill="#6EB914"/>
<path d="M453.06,251.75 L458.35,254.80 L458.35,260.90 L453.06,263.95 L447.78,260.90 L447.78,254.80Z" fill="#6EB914"/>
<path d="M466.15,251.36 L471.43,254.41 L471.43,260.51 L466.15,263.56 L460.87,260.51 L460.87,254.41Z" fill="#6EB914"/>
<path d="M479.24,252.23 L484.52,255.28 L484.52,261.38 L479.24,264.43 L473.95,261.38 L473.95,255.28Z" fill="#6EB914"/>
<path d="M492.32,249.72 L497.60,252.77 L497.60,258.87 L492.32,261.92 L487.04,258.87 L487.04,252.77Z" fill="#6EB914"/>
<path d="M505.40,253.49 L510.69,256.54 L510.69,262.64 L505.40,265.69 L500.12,262.64 L500.12,256.54Z" fill="#6EB914"/>
<path d="M518.49,251.32 L523.77,254.37 L523.77,260.47 L518.49,263.52 L513.21,260.47 L513.21,254.37Z" fill="#6EB914"/>
<path d="M531.57,251.07 L536.86,254.12 L536.86,260.22 L531.57,263.27 L526.29,260.22 L526.29,254.12Z" fill="#6EB914"/>
<path d="M544.66,250.62 L549.94,253.67 L549.94,259.77 L544.66,262.82 L539.38,259.77 L539.38,253.67Z" fill="#6EB914"/>
<path d="M557.75,252.85 L563.03,255.90 L563.03,262.00 L557.75,265.05 L552.46,262.00 L552.46,255.90Z" fill="#6EB914"/>
<path d="M570.83,253.49 L576.11,256.54 L576.11,262.64 L570.83,265.69 L565.55,262.64 L565.55,256.54Z" fill="#6EB914"/>
<path d="M583.91,252.19 L589.20,255.24 L589.20,261.34 L583.91,264.39 L578.63,261.34 L578.63,255.24Z" fill="#6EB914"/>
<path d="M597.00,252.09 L602.28,255.14 L602.28,261.24 L597.00,264.29 L591.72,261.24 L591.72,255.14Z" fill="#6EB914"/>
<polyline fill="none" stroke="#505050" stroke-width="1.1" points="139.0,44.2 152.1,149.9 165.2,179.1 178.3,205.0 191.4,231.2 204.4,267.7 217.5,258.2 230.6,261.1 243.7,262.2 256.8,262.7 269.9,264.0 283.0,262.2 296.0,254.9 309.1,264.0 322.2,264.7 335.3,265.8 348.4,267.4 361.5,265.1 374.6,267.0 387.6,265.7 400.7,267.6 413.8,266.7 426.9,265.9 440.0,266.9 453.1,268.8 466.1,267.7 479.2,267.3 492.3,269.4 505.4,270.1 518.5,268.1 531.6,269.5 544.7,276.8 557.7,269.5 570.8,269.9 583.9,269.0 597.0,267.7"/>
<path d="M139.02,38.03 L140.79,42.10 L145.21,42.52 L141.88,45.45 L142.85,49.79 L139.02,47.53 L135.20,49.79 L136.17,45.45 L132.84,42.52 L137.26,42.10Z" fill="#505050"/>
<path d="M152.11,143.73 L153.87,147.80 L158.29,148.22 L154.96,151.16 L155.93,155.49 L152.11,153.23 L148.29,155.49 L149.26,151.16 L145.93,148.22 L150.35,147.80Z" fill="#505050"/>
<path d="M165.19,172.89 L166.96,176.96 L171.38,177.38 L168.05,180.32 L169.02,184.65 L165.19,182.39 L161.37,184.65 L162.34,180.32 L159.01,177.38 L163.43,176.96Z" fill="#505050"/>
<path d="M178.28,198.77 L180.04,202.84 L184.46,203.26 L181.13,206.20 L182.10,210.53 L178.28,208.27 L174.46,210.53 L175.43,206.20 L172.10,203.26 L176.52,202.84Z" fill="#505050"/>
<path d="M191.37,225.01 L193.13,229.09 L197.55,229.51 L194.22,232.44 L195.19,236.77 L191.37,234.51 L187.54,236.77 L188.51,232.44 L185.18,229.51 L189.60,229.09Z" fill="#505050"/>
<path d="M204.45,261.46 L206.21,265.54 L210.63,265.96 L207.30,268.89 L208.27,273.22 L204.45,270.96 L200.63,273.22 L201.60,268.89 L198.27,265.96 L202.69,265.54Z" fill="#505050"/>
<path d="M217.53,251.99 L219.30,256.06 L223.72,256.48 L220.39,259.42 L221.36,263.75 L217.53,261.49 L213.71,263.75 L214.68,259.42 L211.35,256.48 L215.77,256.06Z" fill="#505050"/>
<path d="M230.62,254.88 L232.38,258.96 L236.80,259.38 L233.47,262.31 L234.44,266.64 L230.62,264.38 L226.80,266.64 L227.77,262.31 L224.44,259.38 L228.86,258.96Z" fill="#505050"/>
<path d="M243.70,256.00 L245.47,260.07 L249.89,260.49 L246.56,263.42 L247.53,267.76 L243.70,265.50 L239.88,267.76 L240.85,263.42 L237.52,260.49 L241.94,260.07Z" fill="#505050"/>
<path d="M256.79,256.45 L258.55,260.53 L262.97,260.95 L259.64,263.88 L260.61,268.21 L256.79,265.95 L252.97,268.21 L253.94,263.88 L250.61,260.95 L255.03,260.53Z" fill="#505050"/>
<path d="M269.88,257.82 L271.64,261.89 L276.06,262.31 L272.73,265.25 L273.70,269.58 L269.88,267.32 L266.05,269.58 L267.02,265.25 L263.69,262.31 L268.11,261.89Z" fill="#505050"/>
<path d="M282.96,256.00 L284.72,260.07 L289.14,260.49 L285.81,263.42 L286.78,267.76 L282.96,265.50 L279.14,267.76 L280.11,263.42 L276.78,260.49 L281.20,260.07Z" fill="#505050"/>
<path d="M296.04,248.71 L297.81,252.78 L302.23,253.20 L298.90,256.13 L299.87,260.47 L296.04,258.21 L292.22,260.47 L293.19,256.13 L289.86,253.20 L294.28,252.78Z" fill="#505050"/>
<path d="M309.13,257.82 L310.89,261.89 L315.31,262.31 L311.98,265.25 L312.95,269.58 L309.13,267.32 L305.31,269.58 L306.28,265.25 L302.95,262.31 L307.37,261.89Z" fill="#505050"/>
<path d="M322.21,258.53 L323.98,262.60 L328.40,263.02 L325.07,265.96 L326.04,270.29 L322.21,268.03 L318.39,270.29 L319.36,265.96 L316.03,263.02 L320.45,262.60Z" fill="#505050"/>
<path d="M335.30,259.64 L337.06,263.72 L341.48,264.13 L338.15,267.07 L339.12,271.40 L335.30,269.14 L331.48,271.40 L332.45,267.07 L329.12,264.13 L333.54,263.72Z" fill="#505050"/>
<path d="M348.38,261.20 L350.15,265.27 L354.57,265.69 L351.24,268.63 L352.21,272.96 L348.38,270.70 L344.56,272.96 L345.53,268.63 L342.20,265.69 L346.62,265.27Z" fill="#505050"/>
<path d="M361.47,258.95 L363.23,263.02 L367.65,263.44 L364.32,266.38 L365.29,270.71 L361.47,268.45 L357.65,270.71 L358.62,266.38 L355.29,263.44 L359.71,263.02Z" fill="#505050"/>
<path d="M374.55,260.75 L376.32,264.83 L380.74,265.25 L377.41,268.18 L378.38,272.51 L374.55,270.25 L370.73,272.51 L371.70,268.18 L368.37,265.25 L372.79,264.83Z" fill="#505050"/>
<path d="M387.64,259.46 L389.40,263.53 L393.82,263.95 L390.49,266.88 L391.46,271.21 L387.64,268.96 L383.82,271.21 L384.79,266.88 L381.46,263.95 L385.88,263.53Z" fill="#505050"/>
<path d="M400.73,261.39 L402.49,265.47 L406.91,265.89 L403.58,268.82 L404.55,273.15 L400.73,270.89 L396.90,273.15 L397.87,268.82 L394.54,265.89 L398.96,265.47Z" fill="#505050"/>
<path d="M413.81,260.50 L415.57,264.57 L419.99,264.99 L416.66,267.92 L417.63,272.25 L413.81,270.00 L409.99,272.25 L410.96,267.92 L407.63,264.99 L412.05,264.57Z" fill="#505050"/>
<path d="M426.89,259.72 L428.66,263.79 L433.08,264.21 L429.75,267.15 L430.72,271.48 L426.89,269.22 L423.07,271.48 L424.04,267.15 L420.71,264.21 L425.13,263.79Z" fill="#505050"/>
<path d="M439.98,260.73 L441.74,264.80 L446.16,265.22 L442.83,268.15 L443.80,272.49 L439.98,270.23 L436.16,272.49 L437.13,268.15 L433.80,265.22 L438.22,264.80Z" fill="#505050"/>
<path d="M453.06,262.64 L454.83,266.71 L459.25,267.13 L455.92,270.06 L456.89,274.40 L453.06,272.14 L449.24,274.40 L450.21,270.06 L446.88,267.13 L451.30,266.71Z" fill="#505050"/>
<path d="M466.15,261.46 L467.91,265.54 L472.33,265.96 L469.00,268.89 L469.97,273.22 L466.15,270.96 L462.33,273.22 L463.30,268.89 L459.97,265.96 L464.39,265.54Z" fill="#505050"/>
<path d="M479.24,261.11 L481.00,265.18 L485.42,265.60 L482.09,268.54 L483.06,272.87 L479.24,270.61 L475.41,272.87 L476.38,268.54 L473.05,265.60 L477.47,265.18Z" fill="#505050"/>
<path d="M492.32,263.18 L494.08,267.25 L498.50,267.67 L495.17,270.61 L496.14,274.94 L492.32,272.68 L488.50,274.94 L489.47,270.61 L486.14,267.67 L490.56,267.25Z" fill="#505050"/>
<path d="M505.40,263.87 L507.17,267.94 L511.59,268.36 L508.26,271.29 L509.23,275.63 L505.40,273.37 L501.58,275.63 L502.55,271.29 L499.22,268.36 L503.64,267.94Z" fill="#505050"/>
<path d="M518.49,261.87 L520.25,265.94 L524.67,266.36 L521.34,269.30 L522.31,273.63 L518.49,271.37 L514.67,273.63 L515.64,269.30 L512.31,266.36 L516.73,265.94Z" fill="#505050"/>
<path d="M531.57,263.29 L533.34,267.36 L537.76,267.78 L534.43,270.71 L535.40,275.05 L531.57,272.79 L527.75,275.05 L528.72,270.71 L525.39,267.78 L529.81,267.36Z" fill="#505050"/>
<path d="M544.66,270.58 L546.42,274.65 L550.84,275.07 L547.51,278.00 L548.48,282.34 L544.66,280.08 L540.84,282.34 L541.81,278.00 L538.48,275.07 L542.90,274.65Z" fill="#505050"/>
<path d="M557.75,263.29 L559.51,267.36 L563.93,267.78 L560.60,270.71 L561.57,275.05 L557.75,272.79 L553.92,275.05 L554.89,270.71 L551.56,267.78 L555.98,267.36Z" fill="#505050"/>
<path d="M570.83,263.75 L572.59,267.82 L577.01,268.24 L573.68,271.17 L574.65,275.51 L570.83,273.25 L567.01,275.51 L567.98,271.17 L564.65,268.24 L569.07,267.82Z" fill="#505050"/>
<path d="M583.91,262.80 L585.68,266.87 L590.10,267.29 L586.77,270.22 L587.74,274.56 L583.91,272.30 L580.09,274.56 L581.06,270.22 L577.73,267.29 L582.15,266.87Z" fill="#505050"/>
<path d="M597.00,261.46 L598.76,265.54 L603.18,265.96 L599.85,268.89 L600.82,273.22 L597.00,270.96 L593.18,273.22 L594.15,268.89 L590.82,265.96 L595.24,265.54Z" fill="#505050"/>
<polyline fill="none" stroke="#F03C3C" stroke-width="1.1" points="139.0,132.4 152.1,157.6 165.2,194.8 178.3,216.6 191.4,239.6 204.4,234.9 217.5,243.6 230.6,242.1 243.7,256.7 256.8,267.7 269.9,278.6 283.0,295.4 296.0,293.5 309.1,292.1 322.2,290.3 335.3,289.5 348.4,287.3 361.5,288.1 374.6,285.2 387.6,286.6 400.7,289.5 413.8,289.2 426.9,285.9 440.0,284.4 453.1,285.9 466.1,283.0 479.2,284.1 492.3,295.7 505.4,289.5 518.5,291.0 531.6,279.7 544.7,291.0 557.7,286.6 570.8,285.2 583.9,284.1 597.0,284.1"/>
<path d="M139.02,126.64 L145.11,131.06 L142.79,138.21 L135.26,138.21 L132.94,131.06Z" fill="#F546A5"/>
<path d="M152.11,151.79 L158.20,156.21 L155.87,163.36 L148.35,163.36 L146.02,156.21Z" fill="#F546A5"/>
<path d="M165.19,188.96 L171.28,193.39 L168.96,200.54 L161.43,200.54 L159.11,193.39Z" fill="#F546A5"/>
<path d="M178.28,210.83 L184.37,215.26 L182.04,222.41 L174.52,222.41 L172.19,215.26Z" fill="#F546A5"/>
<path d="M191.37,233.80 L197.45,238.22 L195.13,245.38 L187.60,245.38 L185.28,238.22Z" fill="#F546A5"/>
<path d="M204.45,229.06 L210.54,233.48 L208.21,240.64 L200.69,240.64 L198.36,233.48Z" fill="#F546A5"/>
<path d="M217.53,237.81 L223.62,242.23 L221.30,249.39 L213.77,249.39 L211.45,242.23Z" fill="#F546A5"/>
<path d="M230.62,236.35 L236.71,240.77 L234.38,247.93 L226.86,247.93 L224.53,240.77Z" fill="#F546A5"/>
<path d="M243.70,250.93 L249.79,255.35 L247.47,262.51 L239.94,262.51 L237.62,255.35Z" fill="#F546A5"/>
<path d="M256.79,261.87 L262.88,266.29 L260.55,273.44 L253.03,273.44 L250.70,266.29Z" fill="#F546A5"/>
<path d="M269.88,272.80 L275.96,277.22 L273.64,284.38 L266.11,284.38 L263.79,277.22Z" fill="#F546A5"/>
<path d="M282.96,289.57 L289.05,293.99 L286.72,301.14 L279.20,301.14 L276.87,293.99Z" fill="#F546A5"/>
<path d="M296.04,287.74 L302.13,292.17 L299.81,299.32 L292.28,299.32 L289.96,292.17Z" fill="#F546A5"/>
<path d="M309.13,286.29 L315.22,290.71 L312.89,297.86 L305.37,297.86 L303.04,290.71Z" fill="#F546A5"/>
<path d="M322.21,284.46 L328.30,288.89 L325.98,296.04 L318.45,296.04 L316.13,288.89Z" fill="#F546A5"/>
<path d="M335.30,283.74 L341.39,288.16 L339.06,295.31 L331.54,295.31 L329.21,288.16Z" fill="#F546A5"/>
<path d="M348.38,281.55 L354.47,285.97 L352.15,293.13 L344.62,293.13 L342.30,285.97Z" fill="#F546A5"/>
<path d="M361.47,282.28 L367.56,286.70 L365.23,293.85 L357.71,293.85 L355.38,286.70Z" fill="#F546A5"/>
<path d="M374.55,279.36 L380.64,283.78 L378.32,290.94 L370.79,290.94 L368.47,283.78Z" fill="#F546A5"/>
<path d="M387.64,280.82 L393.73,285.24 L391.40,292.40 L383.88,292.40 L381.55,285.24Z" fill="#F546A5"/>
<path d="M400.73,283.74 L406.81,288.16 L404.49,295.31 L396.96,295.31 L394.64,288.16Z" fill="#F546A5"/>
<path d="M413.81,283.37 L419.90,287.79 L417.57,294.95 L410.05,294.95 L407.72,287.79Z" fill="#F546A5"/>
<path d="M426.89,280.09 L432.98,284.51 L430.66,291.67 L423.13,291.67 L420.81,284.51Z" fill="#F546A5"/>
<path d="M439.98,278.63 L446.07,283.05 L443.74,290.21 L436.22,290.21 L433.89,283.05Z" fill="#F546A5"/>
<path d="M453.06,280.09 L459.15,284.51 L456.83,291.67 L449.30,291.67 L446.98,284.51Z" fill="#F546A5"/>
<path d="M466.15,277.17 L472.24,281.60 L469.91,288.75 L462.39,288.75 L460.06,281.60Z" fill="#F546A5"/>
<path d="M479.24,278.27 L485.32,282.69 L483.00,289.85 L475.47,289.85 L473.15,282.69Z" fill="#F546A5"/>
<path d="M492.32,289.93 L498.41,294.35 L496.08,301.51 L488.56,301.51 L486.23,294.35Z" fill="#F546A5"/>
<path d="M505.40,283.74 L511.49,288.16 L509.17,295.31 L501.64,295.31 L499.32,288.16Z" fill="#F546A5"/>
<path d="M518.49,285.19 L524.58,289.62 L522.25,296.77 L514.73,296.77 L512.40,289.62Z" fill="#F546A5"/>
<path d="M531.57,273.89 L537.66,278.32 L535.34,285.47 L527.81,285.47 L525.49,278.32Z" fill="#F546A5"/>
<path d="M544.66,285.19 L550.75,289.62 L548.42,296.77 L540.90,296.77 L538.57,289.62Z" fill="#F546A5"/>
<path d="M557.75,280.82 L563.83,285.24 L561.51,292.40 L553.98,292.40 L551.66,285.24Z" fill="#F546A5"/>
<path d="M570.83,279.36 L576.92,283.78 L574.59,290.94 L567.07,290.94 L564.74,283.78Z" fill="#F546A5"/>
<path d="M583.91,278.27 L590.00,282.69 L587.68,289.85 L580.15,289.85 L577.83,282.69Z" fill="#F546A5"/>
<path d="M597.00,278.27 L603.09,282.69 L600.76,289.85 L593.24,289.85 L590.91,282.69Z" fill="#F546A5"/>
<polyline fill="none" stroke="#1E6EE1" stroke-width="1.1" points="125.9,152.1 139.0,198.0 152.1,193.7 165.2,205.0 178.3,221.4 191.4,227.6 204.4,231.2 217.5,231.2 230.6,237.0 243.7,258.6 256.8,251.3 269.9,247.6 283.0,242.9 296.0,265.5 309.1,276.8 322.2,264.0 335.3,267.7 348.4,274.4 361.5,274.2 374.6,269.1 387.6,268.4 400.7,272.9 413.8,270.5 426.9,271.4 440.0,266.3 453.1,269.1 466.1,269.5 479.2,273.2 492.3,268.5 505.4,266.5 518.5,273.8 531.6,269.1 544.7,268.6 557.7,266.4 570.8,267.0 583.9,266.6 597.0,270.9"/>
<circle cx="125.94" cy="152.12" r="5.5" fill="url(#g_blue)"/>
<circle cx="139.02" cy="198.05" r="5.5" fill="url(#g_blue)"/>
<circle cx="152.11" cy="193.67" r="5.5" fill="url(#g_blue)"/>
<circle cx="165.19" cy="204.97" r="5.5" fill="url(#g_blue)"/>
<circle cx="178.28" cy="221.37" r="5.5" fill="url(#g_blue)"/>
<circle cx="191.37" cy="227.57" r="5.5" fill="url(#g_blue)"/>
<circle cx="204.45" cy="231.21" r="5.5" fill="url(#g_blue)"/>
<circle cx="217.53" cy="231.21" r="5.5" fill="url(#g_blue)"/>
<circle cx="230.62" cy="237.05" r="5.5" fill="url(#g_blue)"/>
<circle cx="243.70" cy="258.55" r="5.5" fill="url(#g_blue)"/>
<circle cx="256.79" cy="251.26" r="5.5" fill="url(#g_blue)"/>
<circle cx="269.88" cy="247.62" r="5.5" fill="url(#g_blue)"/>
<circle cx="282.96" cy="242.88" r="5.5" fill="url(#g_blue)"/>
<circle cx="296.04" cy="265.48" r="5.5" fill="url(#g_blue)"/>
<circle cx="309.13" cy="276.78" r="5.5" fill="url(#g_blue)"/>
<circle cx="322.21" cy="264.02" r="5.5" fill="url(#g_blue)"/>
<circle cx="335.30" cy="267.66" r="5.5" fill="url(#g_blue)"/>
<circle cx="348.38" cy="274.38" r="5.5" fill="url(#g_blue)"/>
<circle cx="361.47" cy="274.23" r="5.5" fill="url(#g_blue)"/>
<circle cx="374.55" cy="269.15" r="5.5" fill="url(#g_blue)"/>
<circle cx="387.64" cy="268.39" r="5.5" fill="url(#g_blue)"/>
<circle cx="400.73" cy="272.94" r="5.5" fill="url(#g_blue)"/>
<circle cx="413.81" cy="270.49" r="5.5" fill="url(#g_blue)"/>
<circle cx="426.89" cy="271.39" r="5.5" fill="url(#g_blue)"/>
<circle cx="439.98" cy="266.35" r="5.5" fill="url(#g_blue)"/>
<circle cx="453.06" cy="269.14" r="5.5" fill="url(#g_blue)"/>
<circle cx="466.15" cy="269.49" r="5.5" fill="url(#g_blue)"/>
<circle cx="479.24" cy="273.20" r="5.5" fill="url(#g_blue)"/>
<circle cx="492.32" cy="268.51" r="5.5" fill="url(#g_blue)"/>
<circle cx="505.40" cy="266.47" r="5.5" fill="url(#g_blue)"/>
<circle cx="518.49" cy="273.81" r="5.5" fill="url(#g_blue)"/>
<circle cx="531.57" cy="269.13" r="5.5" fill="url(#g_blue)"/>
<circle cx="544.66" cy="268.62" r="5.5" fill="url(#g_blue)"/>
<circle cx="557.75" cy="266.44" r="5.5" fill="url(#g_blue)"/>
<circle cx="570.83" cy="266.98" r="5.5" fill="url(#g_blue)"/>
<circle cx="583.91" cy="266.61" r="5.5" fill="url(#g_blue)"/>
<circle cx="597.00" cy="270.95" r="5.5" fill="url(#g_blue)"/>
<polyline fill="none" stroke="#3CAF69" stroke-width="1.1" points="125.9,44.2 139.0,146.3 152.1,166.3 165.2,205.0 178.3,223.9 191.4,234.9 204.4,249.4 217.5,254.9 230.6,260.4 243.7,263.1 256.8,259.4 269.9,258.8 283.0,263.0 296.0,261.7 309.1,259.1 322.2,264.0 335.3,262.2 348.4,260.0 361.5,260.5 374.6,259.3 387.6,264.8 400.7,259.7 413.8,264.7 426.9,260.7 440.0,261.1 453.1,262.8 466.1,262.2 479.2,264.8 492.3,260.2 505.4,260.8 518.5,263.9 531.6,261.1 544.7,260.1 557.7,262.3 570.8,260.1 583.9,261.8 597.0,262.2"/>
<path d="M119.94,44.23 L131.94,44.23 M125.94,38.23 L125.94,50.23" stroke="#3CAF69" stroke-width="1.3" fill="none"/>
<path d="M133.02,146.29 L145.02,146.29 M139.02,140.29 L139.02,152.29" stroke="#3CAF69" stroke-width="1.3" fill="none"/>
<path d="M146.11,166.33 L158.11,166.33 M152.11,160.33 L152.11,172.33" stroke="#3CAF69" stroke-width="1.3" fill="none"/>
<path d="M159.19,204.97 L171.19,204.97 M165.19,198.97 L165.19,210.97" stroke="#3CAF69" stroke-width="1.3" fill="none"/>
<path d="M172.28,223.92 L184.28,223.92 M178.28,217.92 L178.28,229.92" stroke="#3CAF69" stroke-width="1.3" fill="none"/>
<path d="M185.37,234.86 L197.37,234.86 M191.37,228.86 L191.37,240.86" stroke="#3CAF69" stroke-width="1.3" fill="none"/>
<path d="M198.45,249.44 L210.45,249.44 M204.45,243.44 L204.45,255.44" stroke="#3CAF69" stroke-width="1.3" fill="none"/>
<path d="M211.53,254.91 L223.53,254.91 M217.53,248.91 L217.53,260.91" stroke="#3CAF69" stroke-width="1.3" fill="none"/>
<path d="M224.62,260.38 L236.62,260.38 M230.62,254.38 L230.62,266.38" stroke="#3CAF69" stroke-width="1.3" fill="none"/>
<path d="M237.70,263.08 L249.70,263.08 M243.70,257.08 L243.70,269.08" stroke="#3CAF69" stroke-width="1.3" fill="none"/>
<path d="M250.79,259.36 L262.79,259.36 M256.79,253.36 L256.79,265.36" stroke="#3CAF69" stroke-width="1.3" fill="none"/>
<path d="M263.88,258.76 L275.88,258.76 M269.88,252.76 L269.88,264.76" stroke="#3CAF69" stroke-width="1.3" fill="none"/>
<path d="M276.96,262.99 L288.96,262.99 M282.96,256.99 L282.96,268.99" stroke="#3CAF69" stroke-width="1.3" fill="none"/>
<path d="M290.04,261.67 L302.04,261.67 M296.04,255.67 L296.04,267.67" stroke="#3CAF69" stroke-width="1.3" fill="none"/>
<path d="M303.13,259.09 L315.13,259.09 M309.13,253.09 L309.13,265.09" stroke="#3CAF69" stroke-width="1.3" fill="none"/>
<path d="M316.21,263.98 L328.21,263.98 M322.21,257.98 L322.21,269.98" stroke="#3CAF69" stroke-width="1.3" fill="none"/>
<path d="M329.30,262.20 L341.30,262.20 M335.30,256.20 L335.30,268.20" stroke="#3CAF69" stroke-width="1.3" fill="none"/>
<path d="M342.38,259.98 L354.38,259.98 M348.38,253.98 L348.38,265.98" stroke="#3CAF69" stroke-width="1.3" fill="none"/>
<path d="M355.47,260.49 L367.47,260.49 M361.47,254.49 L361.47,266.49" stroke="#3CAF69" stroke-width="1.3" fill="none"/>
<path d="M368.55,259.34 L380.55,259.34 M374.55,253.34 L374.55,265.34" stroke="#3CAF69" stroke-width="1.3" fill="none"/>
<path d="M381.64,264.79 L393.64,264.79 M387.64,258.79 L387.64,270.79" stroke="#3CAF69" stroke-width="1.3" fill="none"/>
<path d="M394.73,259.66 L406.73,259.66 M400.73,253.66 L400.73,265.66" stroke="#3CAF69" stroke-width="1.3" fill="none"/>
<path d="M407.81,264.71 L419.81,264.71 M413.81,258.71 L413.81,270.71" stroke="#3CAF69" stroke-width="1.3" fill="none"/>
<path d="M420.89,260.74 L432.89,260.74 M426.89,254.74 L426.89,266.74" stroke="#3CAF69" stroke-width="1.3" fill="none"/>
<path d="M433.98,261.09 L445.98,261.09 M439.98,255.09 L439.98,267.09" stroke="#3CAF69" stroke-width="1.3" fill="none"/>
<path d="M447.06,262.79 L459.06,262.79 M453.06,256.79 L453.06,268.79" stroke="#3CAF69" stroke-width="1.3" fill="none"/>
<path d="M460.15,262.20 L472.15,262.20 M466.15,256.20 L466.15,268.20" stroke="#3CAF69" stroke-width="1.3" fill="none"/>
<path d="M473.24,264.83 L485.24,264.83 M479.24,258.83 L479.24,270.83" stroke="#3CAF69" stroke-width="1.3" fill="none"/>
<path d="M486.32,260.17 L498.32,260.17 M492.32,254.17 L492.32,266.17" stroke="#3CAF69" stroke-width="1.3" fill="none"/>
<path d="M499.40,260.77 L511.40,260.77 M505.40,254.77 L505.40,266.77" stroke="#3CAF69" stroke-width="1.3" fill="none"/>
<path d="M512.49,263.89 L524.49,263.89 M518.49,257.89 L518.49,269.89" stroke="#3CAF69" stroke-width="1.3" fill="none"/>
<path d="M525.57,261.07 L537.57,261.07 M531.57,255.07 L531.57,267.07" stroke="#3CAF69" stroke-width="1.3" fill="none"/>
<path d="M538.66,260.10 L550.66,260.10 M544.66,254.10 L544.66,266.10" stroke="#3CAF69" stroke-width="1.3" fill="none"/>
<path d="M551.75,262.30 L563.75,262.30 M557.75,256.30 L557.75,268.30" stroke="#3CAF69" stroke-width="1.3" fill="none"/>
<path d="M564.83,260.07 L576.83,260.07 M570.83,254.07 L570.83,266.07" stroke="#3CAF69" stroke-width="1.3" fill="none"/>
<path d="M577.91,261.82 L589.91,261.82 M583.91,255.82 L583.91,267.82" stroke="#3CAF69" stroke-width="1.3" fill="none"/>
<path d="M591.00,262.20 L603.00,262.20 M597.00,256.20 L597.00,268.20" stroke="#3CAF69" stroke-width="1.3" fill="none"/>
<polyline fill="none" stroke="#AF78E1" stroke-width="1.1" points="139.0,70.1 152.1,137.5 165.2,174.7 178.3,213.0 191.4,231.2 204.4,276.0 217.5,247.6 230.6,260.4 243.7,264.0 256.8,267.7 269.9,271.3 283.0,276.5 296.0,282.2 309.1,289.5 322.2,291.4 335.3,294.5 348.4,293.0 361.5,293.2 374.6,289.5 387.6,290.2 400.7,289.5 413.8,283.6 426.9,284.1 440.0,280.1 453.1,280.3 466.1,282.2 479.2,281.0 492.3,283.0 505.4,287.7 518.5,286.3 531.6,284.0 544.7,283.1 557.7,281.5 570.8,279.5 583.9,278.2 597.0,271.3"/>
<path d="M133.52,64.61 L144.52,75.61 M133.52,75.61 L144.52,64.61" stroke="#AF78E1" stroke-width="1.3" fill="none"/>
<path d="M146.61,132.04 L157.61,143.04 M146.61,143.04 L157.61,132.04" stroke="#AF78E1" stroke-width="1.3" fill="none"/>
<path d="M159.69,169.22 L170.69,180.22 M159.69,180.22 L170.69,169.22" stroke="#AF78E1" stroke-width="1.3" fill="none"/>
<path d="M172.78,207.49 L183.78,218.49 M172.78,218.49 L183.78,207.49" stroke="#AF78E1" stroke-width="1.3" fill="none"/>
<path d="M185.87,225.71 L196.87,236.71 M185.87,236.71 L196.87,225.71" stroke="#AF78E1" stroke-width="1.3" fill="none"/>
<path d="M198.95,270.55 L209.95,281.55 M198.95,281.55 L209.95,270.55" stroke="#AF78E1" stroke-width="1.3" fill="none"/>
<path d="M212.03,242.12 L223.03,253.12 M212.03,253.12 L223.03,242.12" stroke="#AF78E1" stroke-width="1.3" fill="none"/>
<path d="M225.12,254.88 L236.12,265.88 M225.12,265.88 L236.12,254.88" stroke="#AF78E1" stroke-width="1.3" fill="none"/>
<path d="M238.20,258.52 L249.20,269.52 M238.20,269.52 L249.20,258.52" stroke="#AF78E1" stroke-width="1.3" fill="none"/>
<path d="M251.29,262.16 L262.29,273.16 M251.29,273.16 L262.29,262.16" stroke="#AF78E1" stroke-width="1.3" fill="none"/>
<path d="M264.38,265.81 L275.38,276.81 M264.38,276.81 L275.38,265.81" stroke="#AF78E1" stroke-width="1.3" fill="none"/>
<path d="M277.46,270.99 L288.46,281.99 M277.46,281.99 L288.46,270.99" stroke="#AF78E1" stroke-width="1.3" fill="none"/>
<path d="M290.54,276.75 L301.54,287.75 M290.54,287.75 L301.54,276.75" stroke="#AF78E1" stroke-width="1.3" fill="none"/>
<path d="M303.63,283.98 L314.63,294.98 M303.63,294.98 L314.63,283.98" stroke="#AF78E1" stroke-width="1.3" fill="none"/>
<path d="M316.71,285.86 L327.71,296.86 M316.71,296.86 L327.71,285.86" stroke="#AF78E1" stroke-width="1.3" fill="none"/>
<path d="M329.80,289.04 L340.80,300.04 M329.80,300.04 L340.80,289.04" stroke="#AF78E1" stroke-width="1.3" fill="none"/>
<path d="M342.88,287.53 L353.88,298.53 M342.88,298.53 L353.88,287.53" stroke="#AF78E1" stroke-width="1.3" fill="none"/>
<path d="M355.97,287.74 L366.97,298.74 M355.97,298.74 L366.97,287.74" stroke="#AF78E1" stroke-width="1.3" fill="none"/>
<path d="M369.05,284.05 L380.05,295.05 M369.05,295.05 L380.05,284.05" stroke="#AF78E1" stroke-width="1.3" fill="none"/>
<path d="M382.14,284.66 L393.14,295.66 M382.14,295.66 L393.14,284.66" stroke="#AF78E1" stroke-width="1.3" fill="none"/>
<path d="M395.23,284.03 L406.23,295.03 M395.23,295.03 L406.23,284.03" stroke="#AF78E1" stroke-width="1.3" fill="none"/>
<path d="M408.31,278.12 L419.31,289.12 M408.31,289.12 L419.31,278.12" stroke="#AF78E1" stroke-width="1.3" fill="none"/>
<path d="M421.39,278.57 L432.39,289.57 M421.39,289.57 L432.39,278.57" stroke="#AF78E1" stroke-width="1.3" fill="none"/>
<path d="M434.48,274.64 L445.48,285.64 M434.48,285.64 L445.48,274.64" stroke="#AF78E1" stroke-width="1.3" fill="none"/>
<path d="M447.56,274.79 L458.56,285.79 M447.56,285.79 L458.56,274.79" stroke="#AF78E1" stroke-width="1.3" fill="none"/>
<path d="M460.65,276.75 L471.65,287.75 M460.65,287.75 L471.65,276.75" stroke="#AF78E1" stroke-width="1.3" fill="none"/>
<path d="M473.74,275.52 L484.74,286.52 M473.74,286.52 L484.74,275.52" stroke="#AF78E1" stroke-width="1.3" fill="none"/>
<path d="M486.82,277.48 L497.82,288.48 M486.82,288.48 L497.82,277.48" stroke="#AF78E1" stroke-width="1.3" fill="none"/>
<path d="M499.90,282.16 L510.90,293.16 M499.90,293.16 L510.90,282.16" stroke="#AF78E1" stroke-width="1.3" fill="none"/>
<path d="M512.99,280.75 L523.99,291.75 M512.99,291.75 L523.99,280.75" stroke="#AF78E1" stroke-width="1.3" fill="none"/>
<path d="M526.07,278.53 L537.07,289.53 M526.07,289.53 L537.07,278.53" stroke="#AF78E1" stroke-width="1.3" fill="none"/>
<path d="M539.16,277.62 L550.16,288.62 M539.16,288.62 L550.16,277.62" stroke="#AF78E1" stroke-width="1.3" fill="none"/>
<path d="M552.25,275.99 L563.25,286.99 M552.25,286.99 L563.25,275.99" stroke="#AF78E1" stroke-width="1.3" fill="none"/>
<path d="M565.33,273.96 L576.33,284.96 M565.33,284.96 L576.33,273.96" stroke="#AF78E1" stroke-width="1.3" fill="none"/>
<path d="M578.41,272.74 L589.41,283.74 M578.41,283.74 L589.41,272.74" stroke="#AF78E1" stroke-width="1.3" fill="none"/>
<path d="M591.50,265.81 L602.50,276.81 M591.50,276.81 L602.50,265.81" stroke="#AF78E1" stroke-width="1.3" fill="none"/>
<polyline fill="none" stroke="#C8960A" stroke-width="1.1" points="139.0,118.9 152.1,137.5 165.2,183.8 178.3,212.6 191.4,234.9 204.4,245.1 217.5,247.6 230.6,259.6 243.7,258.8 256.8,257.1 269.9,267.7 283.0,270.9 296.0,272.7 309.1,270.4 322.2,272.3 335.3,270.6 348.4,265.5 361.5,264.8 374.6,264.0 387.6,264.7 400.7,264.7 413.8,265.2 426.9,263.3 440.0,265.4 453.1,261.5 466.1,263.3 479.2,264.9 492.3,264.7 505.4,261.9 518.5,260.3 531.6,260.6 544.7,260.6 557.7,263.3 570.8,262.9 583.9,262.2 597.0,261.1"/>
<path d="M133.02,118.95 L145.02,118.95 M139.02,112.95 L139.02,124.95 M134.42,114.35 L143.62,123.55 M134.42,123.55 L143.62,114.35" stroke="#C8960A" stroke-width="1.3" fill="none"/>
<path d="M146.11,137.54 L158.11,137.54 M152.11,131.54 L152.11,143.54 M147.51,132.94 L156.71,142.14 M147.51,142.14 L156.71,132.94" stroke="#C8960A" stroke-width="1.3" fill="none"/>
<path d="M159.19,183.83 L171.19,183.83 M165.19,177.83 L165.19,189.83 M160.59,179.23 L169.79,188.43 M160.59,188.43 L169.79,179.23" stroke="#C8960A" stroke-width="1.3" fill="none"/>
<path d="M172.28,212.63 L184.28,212.63 M178.28,206.63 L178.28,218.63 M173.68,208.03 L182.88,217.23 M173.68,217.23 L182.88,208.03" stroke="#C8960A" stroke-width="1.3" fill="none"/>
<path d="M185.37,234.86 L197.37,234.86 M191.37,228.86 L191.37,240.86 M186.77,230.26 L195.97,239.46 M186.77,239.46 L195.97,230.26" stroke="#C8960A" stroke-width="1.3" fill="none"/>
<path d="M198.45,245.07 L210.45,245.07 M204.45,239.07 L204.45,251.07 M199.85,240.47 L209.05,249.67 M199.85,249.67 L209.05,240.47" stroke="#C8960A" stroke-width="1.3" fill="none"/>
<path d="M211.53,247.62 L223.53,247.62 M217.53,241.62 L217.53,253.62 M212.94,243.02 L222.13,252.22 M212.94,252.22 L222.13,243.02" stroke="#C8960A" stroke-width="1.3" fill="none"/>
<path d="M224.62,259.65 L236.62,259.65 M230.62,253.65 L230.62,265.65 M226.02,255.05 L235.22,264.25 M226.02,264.25 L235.22,255.05" stroke="#C8960A" stroke-width="1.3" fill="none"/>
<path d="M237.70,258.82 L249.70,258.82 M243.70,252.82 L243.70,264.82 M239.10,254.22 L248.30,263.42 M239.10,263.42 L248.30,254.22" stroke="#C8960A" stroke-width="1.3" fill="none"/>
<path d="M250.79,257.09 L262.79,257.09 M256.79,251.09 L256.79,263.09 M252.19,252.49 L261.39,261.69 M252.19,261.69 L261.39,252.49" stroke="#C8960A" stroke-width="1.3" fill="none"/>
<path d="M263.88,267.66 L275.88,267.66 M269.88,261.66 L269.88,273.66 M265.27,263.06 L274.48,272.26 M265.27,272.26 L274.48,263.06" stroke="#C8960A" stroke-width="1.3" fill="none"/>
<path d="M276.96,270.95 L288.96,270.95 M282.96,264.95 L282.96,276.95 M278.36,266.35 L287.56,275.55 M278.36,275.55 L287.56,266.35" stroke="#C8960A" stroke-width="1.3" fill="none"/>
<path d="M290.04,272.67 L302.04,272.67 M296.04,266.67 L296.04,278.67 M291.44,268.07 L300.64,277.27 M291.44,277.27 L300.64,268.07" stroke="#C8960A" stroke-width="1.3" fill="none"/>
<path d="M303.13,270.40 L315.13,270.40 M309.13,264.40 L309.13,276.40 M304.53,265.80 L313.73,275.00 M304.53,275.00 L313.73,265.80" stroke="#C8960A" stroke-width="1.3" fill="none"/>
<path d="M316.21,272.28 L328.21,272.28 M322.21,266.28 L322.21,278.28 M317.61,267.68 L326.81,276.88 M317.61,276.88 L326.81,267.68" stroke="#C8960A" stroke-width="1.3" fill="none"/>
<path d="M329.30,270.58 L341.30,270.58 M335.30,264.58 L335.30,276.58 M330.70,265.98 L339.90,275.18 M330.70,275.18 L339.90,265.98" stroke="#C8960A" stroke-width="1.3" fill="none"/>
<path d="M342.38,265.48 L354.38,265.48 M348.38,259.48 L348.38,271.48 M343.78,260.88 L352.99,270.08 M343.78,270.08 L352.99,260.88" stroke="#C8960A" stroke-width="1.3" fill="none"/>
<path d="M355.47,264.83 L367.47,264.83 M361.47,258.83 L361.47,270.83 M356.87,260.23 L366.07,269.43 M356.87,269.43 L366.07,260.23" stroke="#C8960A" stroke-width="1.3" fill="none"/>
<path d="M368.55,264.02 L380.55,264.02 M374.55,258.02 L374.55,270.02 M369.95,259.42 L379.15,268.62 M369.95,268.62 L379.15,259.42" stroke="#C8960A" stroke-width="1.3" fill="none"/>
<path d="M381.64,264.75 L393.64,264.75 M387.64,258.75 L387.64,270.75 M383.04,260.15 L392.24,269.35 M383.04,269.35 L392.24,260.15" stroke="#C8960A" stroke-width="1.3" fill="none"/>
<path d="M394.73,264.75 L406.73,264.75 M400.73,258.75 L400.73,270.75 M396.12,260.15 L405.33,269.35 M396.12,269.35 L405.33,260.15" stroke="#C8960A" stroke-width="1.3" fill="none"/>
<path d="M407.81,265.19 L419.81,265.19 M413.81,259.19 L413.81,271.19 M409.21,260.59 L418.41,269.79 M409.21,269.79 L418.41,260.59" stroke="#C8960A" stroke-width="1.3" fill="none"/>
<path d="M420.89,263.31 L432.89,263.31 M426.89,257.31 L426.89,269.31 M422.29,258.71 L431.50,267.91 M422.29,267.91 L431.50,258.71" stroke="#C8960A" stroke-width="1.3" fill="none"/>
<path d="M433.98,265.37 L445.98,265.37 M439.98,259.37 L439.98,271.37 M435.38,260.77 L444.58,269.97 M435.38,269.97 L444.58,260.77" stroke="#C8960A" stroke-width="1.3" fill="none"/>
<path d="M447.06,261.54 L459.06,261.54 M453.06,255.54 L453.06,267.54 M448.46,256.94 L457.66,266.14 M448.46,266.14 L457.66,256.94" stroke="#C8960A" stroke-width="1.3" fill="none"/>
<path d="M460.15,263.29 L472.15,263.29 M466.15,257.29 L466.15,269.29 M461.55,258.69 L470.75,267.89 M461.55,267.89 L470.75,258.69" stroke="#C8960A" stroke-width="1.3" fill="none"/>
<path d="M473.24,264.94 L485.24,264.94 M479.24,258.94 L479.24,270.94 M474.63,260.34 L483.84,269.54 M474.63,269.54 L483.84,260.34" stroke="#C8960A" stroke-width="1.3" fill="none"/>
<path d="M486.32,264.74 L498.32,264.74 M492.32,258.74 L492.32,270.74 M487.72,260.14 L496.92,269.34 M487.72,269.34 L496.92,260.14" stroke="#C8960A" stroke-width="1.3" fill="none"/>
<path d="M499.40,261.87 L511.40,261.87 M505.40,255.87 L505.40,267.87 M500.80,257.27 L510.00,266.47 M500.80,266.47 L510.00,257.27" stroke="#C8960A" stroke-width="1.3" fill="none"/>
<path d="M512.49,260.30 L524.49,260.30 M518.49,254.30 L518.49,266.30 M513.89,255.70 L523.09,264.90 M513.89,264.90 L523.09,255.70" stroke="#C8960A" stroke-width="1.3" fill="none"/>
<path d="M525.57,260.62 L537.57,260.62 M531.57,254.62 L531.57,266.62 M526.97,256.02 L536.17,265.22 M526.97,265.22 L536.17,256.02" stroke="#C8960A" stroke-width="1.3" fill="none"/>
<path d="M538.66,260.56 L550.66,260.56 M544.66,254.56 L544.66,266.56 M540.06,255.96 L549.26,265.16 M540.06,265.16 L549.26,255.96" stroke="#C8960A" stroke-width="1.3" fill="none"/>
<path d="M551.75,263.29 L563.75,263.29 M557.75,257.29 L557.75,269.29 M553.14,258.69 L562.35,267.89 M553.14,267.89 L562.35,258.69" stroke="#C8960A" stroke-width="1.3" fill="none"/>
<path d="M564.83,262.86 L576.83,262.86 M570.83,256.86 L570.83,268.86 M566.23,258.26 L575.43,267.46 M566.23,267.46 L575.43,258.26" stroke="#C8960A" stroke-width="1.3" fill="none"/>
<path d="M577.91,262.22 L589.91,262.22 M583.91,256.22 L583.91,268.22 M579.31,257.62 L588.51,266.82 M579.31,266.82 L588.51,257.62" stroke="#C8960A" stroke-width="1.3" fill="none"/>
<path d="M591.00,261.10 L603.00,261.10 M597.00,255.10 L597.00,267.10 M592.40,256.50 L601.60,265.70 M592.40,265.70 L601.60,256.50" stroke="#C8960A" stroke-width="1.3" fill="none"/>
<polyline fill="none" stroke="#14CDCD" stroke-width="1.1" points="139.0,105.5 152.1,137.9 165.2,186.4 178.3,202.1 191.4,231.2 204.4,258.2 217.5,246.9 230.6,260.4 243.7,260.5 256.8,259.4 269.9,268.7 283.0,259.6 296.0,263.4 309.1,264.1 322.2,262.7 335.3,267.7 348.4,269.7 361.5,264.5 374.6,266.1 387.6,272.7 400.7,266.2 413.8,267.6 426.9,265.2 440.0,265.3 453.1,267.4 466.1,269.5 479.2,268.0 492.3,264.1 505.4,272.7 518.5,272.7 531.6,266.8 544.7,266.4 557.7,262.8 570.8,265.5 583.9,267.4 597.0,267.7"/>
<path d="M133.02,105.46 L145.02,105.46" stroke="#14CDCD" stroke-width="1.5" fill="none"/>
<path d="M146.11,137.90 L158.11,137.90" stroke="#14CDCD" stroke-width="1.5" fill="none"/>
<path d="M159.19,186.38 L171.19,186.38" stroke="#14CDCD" stroke-width="1.5" fill="none"/>
<path d="M172.28,202.05 L184.28,202.05" stroke="#14CDCD" stroke-width="1.5" fill="none"/>
<path d="M185.37,231.21 L197.37,231.21" stroke="#14CDCD" stroke-width="1.5" fill="none"/>
<path d="M198.45,258.19 L210.45,258.19" stroke="#14CDCD" stroke-width="1.5" fill="none"/>
<path d="M211.53,246.89 L223.53,246.89" stroke="#14CDCD" stroke-width="1.5" fill="none"/>
<path d="M224.62,260.38 L236.62,260.38" stroke="#14CDCD" stroke-width="1.5" fill="none"/>
<path d="M237.70,260.53 L249.70,260.53" stroke="#14CDCD" stroke-width="1.5" fill="none"/>
<path d="M250.79,259.39 L262.79,259.39" stroke="#14CDCD" stroke-width="1.5" fill="none"/>
<path d="M263.88,268.70 L275.88,268.70" stroke="#14CDCD" stroke-width="1.5" fill="none"/>
<path d="M276.96,259.55 L288.96,259.55" stroke="#14CDCD" stroke-width="1.5" fill="none"/>
<path d="M290.04,263.39 L302.04,263.39" stroke="#14CDCD" stroke-width="1.5" fill="none"/>
<path d="M303.13,264.07 L315.13,264.07" stroke="#14CDCD" stroke-width="1.5" fill="none"/>
<path d="M316.21,262.73 L328.21,262.73" stroke="#14CDCD" stroke-width="1.5" fill="none"/>
<path d="M329.30,267.66 L341.30,267.66" stroke="#14CDCD" stroke-width="1.5" fill="none"/>
<path d="M342.38,269.68 L354.38,269.68" stroke="#14CDCD" stroke-width="1.5" fill="none"/>
<path d="M355.47,264.54 L367.47,264.54" stroke="#14CDCD" stroke-width="1.5" fill="none"/>
<path d="M368.55,266.14 L380.55,266.14" stroke="#14CDCD" stroke-width="1.5" fill="none"/>
<path d="M381.64,272.68 L393.64,272.68" stroke="#14CDCD" stroke-width="1.5" fill="none"/>
<path d="M394.73,266.15 L406.73,266.15" stroke="#14CDCD" stroke-width="1.5" fill="none"/>
<path d="M407.81,267.64 L419.81,267.64" stroke="#14CDCD" stroke-width="1.5" fill="none"/>
<path d="M420.89,265.22 L432.89,265.22" stroke="#14CDCD" stroke-width="1.5" fill="none"/>
<path d="M433.98,265.26 L445.98,265.26" stroke="#14CDCD" stroke-width="1.5" fill="none"/>
<path d="M447.06,267.43 L459.06,267.43" stroke="#14CDCD" stroke-width="1.5" fill="none"/>
<path d="M460.15,269.49 L472.15,269.49" stroke="#14CDCD" stroke-width="1.5" fill="none"/>
<path d="M473.24,268.03 L485.24,268.03" stroke="#14CDCD" stroke-width="1.5" fill="none"/>
<path d="M486.32,264.12 L498.32,264.12" stroke="#14CDCD" stroke-width="1.5" fill="none"/>
<path d="M499.40,272.69 L511.40,272.69" stroke="#14CDCD" stroke-width="1.5" fill="none"/>
<path d="M512.49,272.67 L524.49,272.67" stroke="#14CDCD" stroke-width="1.5" fill="none"/>
<path d="M525.57,266.78 L537.57,266.78" stroke="#14CDCD" stroke-width="1.5" fill="none"/>
<path d="M538.66,266.36 L550.66,266.36" stroke="#14CDCD" stroke-width="1.5" fill="none"/>
<path d="M551.75,262.80 L563.75,262.80" stroke="#14CDCD" stroke-width="1.5" fill="none"/>
<path d="M564.83,265.50 L576.83,265.50" stroke="#14CDCD" stroke-width="1.5" fill="none"/>
<path d="M577.91,267.39 L589.91,267.39" stroke="#14CDCD" stroke-width="1.5" fill="none"/>
<path d="M591.00,267.66 L603.00,267.66" stroke="#14CDCD" stroke-width="1.5" fill="none"/>
</g>
<g stroke="#000" stroke-width="2" fill="none">
<path d="M60.5,23.45 L60.5,461"/>
<path d="M52,461 L604,461"/>
<path d="M52,460.85 L60,460.85"/>
<path d="M52,424.40 L60,424.40"/>
<path d="M52,387.95 L60,387.95"/>
<path d="M52,351.50 L60,351.50"/>
<path d="M52,315.05 L60,315.05"/>
<path d="M52,278.60 L60,278.60"/>
<path d="M52,242.15 L60,242.15"/>
<path d="M52,205.70 L60,205.70"/>
<path d="M52,169.25 L60,169.25"/>
<path d="M52,132.80 L60,132.80"/>
<path d="M52,96.35 L60,96.35"/>
<path d="M52,59.90 L60,59.90"/>
<path d="M52,23.45 L60,23.45"/>
<path d="M73.60,461 L73.60,468.7"/>
<path d="M125.94,461 L125.94,468.7"/>
<path d="M178.28,461 L178.28,468.7"/>
<path d="M230.62,461 L230.62,468.7"/>
<path d="M282.96,461 L282.96,468.7"/>
<path d="M335.30,461 L335.30,468.7"/>
<path d="M387.64,461 L387.64,468.7"/>
<path d="M439.98,461 L439.98,468.7"/>
<path d="M492.32,461 L492.32,468.7"/>
<path d="M544.66,461 L544.66,468.7"/>
<path d="M597.00,461 L597.00,468.7"/>
</g>
<g font-size="18.5" fill="#000" stroke="#000" stroke-width="0.1">
<text x="29.45" y="466.85">-</text><path d="M42.50,466.85 L40.88,466.85 L40.88,456.49 Q39.41,457.82 37.63,458.45 L37.63,456.88 Q39.86,455.83 41.46,453.61 L42.50,453.61Z" fill="#000"/>
<text x="35.61" y="430.40">0</text>
<path d="M42.50,393.95 L40.88,393.95 L40.88,383.59 Q39.41,384.92 37.63,385.55 L37.63,383.98 Q39.86,382.93 41.46,380.71 L42.50,380.71Z" fill="#000"/>
<text x="35.61" y="357.50">2</text>
<text x="35.61" y="321.05">3</text>
<text x="35.61" y="284.60">4</text>
<text x="35.61" y="248.15">5</text>
<text x="35.61" y="211.70">6</text>
<text x="35.61" y="175.25">7</text>
<text x="35.61" y="138.80">8</text>
<text x="35.61" y="102.35">9</text>
<path d="M32.21,65.90 L30.59,65.90 L30.59,55.54 Q29.12,56.87 27.34,57.50 L27.34,55.93 Q29.57,54.88 31.17,52.66 L32.21,52.66Z" fill="#000"/><text x="35.61" y="65.90">0</text>
<path d="M32.21,29.45 L30.59,29.45 L30.59,19.09 Q29.12,20.42 27.34,21.05 L27.34,19.48 Q29.57,18.43 31.17,16.21 L32.21,16.21Z" fill="#000"/><path d="M42.50,29.45 L40.88,29.45 L40.88,19.09 Q39.41,20.42 37.63,21.05 L37.63,19.48 Q39.86,18.43 41.46,16.21 L42.50,16.21Z" fill="#000"/>
<text x="60.74" y="489.20">0.0</text>
<text x="113.08" y="489.20">0.4</text>
<text x="165.42" y="489.20">0.8</text>
<path d="M224.65,489.20 L223.03,489.20 L223.03,478.84 Q221.56,480.17 219.78,480.80 L219.78,479.23 Q222.01,478.18 223.61,475.96 L224.65,475.96Z" fill="#000"/><text x="228.05" y="489.20">.2</text>
<path d="M276.99,489.20 L275.37,489.20 L275.37,478.84 Q273.90,480.17 272.12,480.80 L272.12,479.23 Q274.35,478.18 275.95,475.96 L276.99,475.96Z" fill="#000"/><text x="280.39" y="489.20">.6</text>
<text x="322.44" y="489.20">2.0</text>
<text x="374.78" y="489.20">2.4</text>
<text x="427.12" y="489.20">2.8</text>
<text x="479.46" y="489.20">3.2</text>
<text x="531.80" y="489.20">3.6</text>
<text x="584.14" y="489.20">4.0</text>
</g>
<text x="213.9" y="523.5" font-size="22.5" fill="#000" dx="-1.8" stroke="#000" stroke-width="0.2">Regularization multiplier</text>
<text transform="translate(15.9,396.2) rotate(-90)" x="0" y="0" font-size="22.5" fill="#000" dx="-1.8" stroke="#000" stroke-width="0.2">Natural logarithm of delta_AICc</text>
<path d="M612.2,5.00 L641.1,5.00" stroke="#505050" stroke-width="1.1"/>
<rect x="621.90" y="0.30" width="9.4" height="9.4" fill="#505050"/>
<text x="644.6" y="9.40" font-size="12" fill="#000" stroke="#000" stroke-width="0.25">L</text>
<path d="M612.2,20.57 L641.1,20.57" stroke="#F03C3C" stroke-width="1.1"/>
<circle cx="626.60" cy="20.57" r="5.5" fill="#F03C3C"/>
<text x="644.6" y="24.97" font-size="12" fill="#000" stroke="#000" stroke-width="0.25">Q</text>
<path d="M612.2,36.14 L641.1,36.14" stroke="#1E6EE1" stroke-width="1.1"/>
<path d="M626.60,28.46 L633.25,39.98 L619.95,39.98Z" fill="#1E6EE1"/>
<text x="644.6" y="40.54" font-size="12" fill="#000" stroke="#000" stroke-width="0.25">P</text>
<path d="M612.2,51.71 L641.1,51.71" stroke="#3CAF69" stroke-width="1.1"/>
<path d="M626.60,59.39 L619.95,47.87 L633.25,47.87Z" fill="#3CAF69"/>
<text x="644.6" y="56.11" font-size="12" fill="#000" stroke="#000" stroke-width="0.25">T</text>
<path d="M612.2,67.28 L641.1,67.28" stroke="#AF78E1" stroke-width="1.1"/>
<path d="M626.60,60.63 L633.25,67.28 L626.60,73.93 L619.95,67.28Z" fill="#AF78E1"/>
<text x="644.6" y="71.68" font-size="12" fill="#000" stroke="#000" stroke-width="0.25">H</text>
<path d="M612.2,82.85 L641.1,82.85" stroke="#C8960A" stroke-width="1.1"/>
<path d="M618.92,82.85 L630.44,76.20 L630.44,89.50Z" fill="#C8960A"/>
<text x="644.6" y="87.25" font-size="12" fill="#000" stroke="#000" stroke-width="0.25">LQ</text>
<path d="M612.2,98.42 L641.1,98.42" stroke="#14CDCD" stroke-width="1.1"/>
<path d="M634.28,98.42 L622.76,105.07 L622.76,91.77Z" fill="#14CDCD"/>
<text x="644.6" y="102.82" font-size="12" fill="#000" stroke="#000" stroke-width="0.25">LP</text>
<path d="M612.2,113.99 L641.1,113.99" stroke="#784B4B" stroke-width="1.1"/>
<path d="M626.60,107.89 L631.88,110.94 L631.88,117.04 L626.60,120.09 L621.32,117.04 L621.32,110.94Z" fill="#784B4B"/>
<text x="644.6" y="118.39" font-size="12" fill="#000" stroke="#000" stroke-width="0.25">LT</text>
<path d="M612.2,129.56 L641.1,129.56" stroke="#87870F" stroke-width="1.1"/>
<path d="M626.60,123.36 L628.36,127.43 L632.78,127.85 L629.45,130.79 L630.42,135.12 L626.60,132.86 L622.78,135.12 L623.75,130.79 L620.42,127.85 L624.84,127.43Z" fill="#87870F"/>
<text x="644.6" y="133.96" font-size="12" fill="#000" stroke="#000" stroke-width="0.25">LH</text>
<path d="M612.2,145.13 L641.1,145.13" stroke="#FF6400" stroke-width="1.1"/>
<path d="M626.60,139.33 L632.69,143.75 L630.36,150.91 L622.84,150.91 L620.51,143.75Z" fill="#FF6400"/>
<text x="644.6" y="149.53" font-size="12" fill="#000" stroke="#000" stroke-width="0.25">QP</text>
<path d="M612.2,160.70 L641.1,160.70" stroke="#6496D2" stroke-width="1.1"/>
<circle cx="626.60" cy="160.70" r="5.5" fill="url(#g_steel)"/>
<text x="644.6" y="165.10" font-size="12" fill="#000" stroke="#000" stroke-width="0.25">QT</text>
<path d="M612.2,176.27 L641.1,176.27" stroke="#6EB914" stroke-width="1.1"/>
<circle cx="626.60" cy="176.27" r="5.0" fill="#fff" stroke="#6EB914" stroke-width="1.4"/><path d="M626.60,171.27 A5.0,5.0 0 0 1 626.60,181.27Z" fill="#6EB914"/>
<text x="644.6" y="180.67" font-size="12" fill="#000" stroke="#000" stroke-width="0.25">QH</text>
<path d="M612.2,191.84 L641.1,191.84" stroke="#505050" stroke-width="1.1"/>
<path d="M621.10,186.34 L632.10,197.34 M621.10,197.34 L632.10,186.34" stroke="#505050" stroke-width="1.3" fill="none"/>
<text x="644.6" y="196.24" font-size="12" fill="#000" stroke="#000" stroke-width="0.25">PT</text>
<path d="M612.2,207.41 L641.1,207.41" stroke="#F03C3C" stroke-width="1.1"/>
<path d="M620.60,207.41 L632.60,207.41 M626.60,201.41 L626.60,213.41 M622.00,202.81 L631.20,212.01 M622.00,212.01 L631.20,202.81" stroke="#F03C3C" stroke-width="1.3" fill="none"/>
<text x="644.6" y="211.81" font-size="12" fill="#000" stroke="#000" stroke-width="0.25">PH</text>
<path d="M612.2,222.98 L641.1,222.98" stroke="#1E6EE1" stroke-width="1.1"/>
<path d="M618.92,222.98 L630.44,216.33 L630.44,229.63Z" fill="#fff" stroke="#1E6EE1" stroke-width="1.4"/><path d="M618.92,222.98 L624.68,219.66 L624.68,226.31Z" fill="#1E6EE1"/>
<text x="644.6" y="227.38" font-size="12" fill="#000" stroke="#000" stroke-width="0.25">TH</text>
<path d="M612.2,238.55 L641.1,238.55" stroke="#3CAF69" stroke-width="1.1"/>
<path d="M626.60,231.90 L633.25,238.55 L626.60,245.20 L619.95,238.55Z" fill="#fff" stroke="#3CAF69" stroke-width="1.4"/><path d="M626.60,231.90 L633.25,238.55 L619.95,238.55Z" fill="#3CAF69"/>
<text x="644.6" y="242.95" font-size="12" fill="#000" stroke="#000" stroke-width="0.25">LQP</text>
<path d="M612.2,254.12 L641.1,254.12" stroke="#AF78E1" stroke-width="1.1"/>
<rect x="621.90" y="249.42" width="9.4" height="9.4" fill="#AF78E1"/>
<text x="644.6" y="258.52" font-size="12" fill="#000" stroke="#000" stroke-width="0.25">LQT</text>
<path d="M612.2,269.69 L641.1,269.69" stroke="#C8960A" stroke-width="1.1"/>
<circle cx="626.60" cy="269.69" r="5.5" fill="#C8960A"/>
<text x="644.6" y="274.09" font-size="12" fill="#000" stroke="#000" stroke-width="0.25">LQH</text>
<path d="M612.2,285.26 L641.1,285.26" stroke="#14CDCD" stroke-width="1.1"/>
<path d="M626.60,277.58 L633.25,289.10 L619.95,289.10Z" fill="#14CDCD"/>
<text x="644.6" y="289.66" font-size="12" fill="#000" stroke="#000" stroke-width="0.25">LPT</text>
<path d="M612.2,300.83 L641.1,300.83" stroke="#784B4B" stroke-width="1.1"/>
<path d="M626.60,308.51 L619.95,296.99 L633.25,296.99Z" fill="#784B4B"/>
<text x="644.6" y="305.23" font-size="12" fill="#000" stroke="#000" stroke-width="0.25">LPH</text>
<path d="M612.2,316.40 L641.1,316.40" stroke="#87870F" stroke-width="1.1"/>
<path d="M626.60,309.75 L633.25,316.40 L626.60,323.05 L619.95,316.40Z" fill="#87870F"/>
<text x="644.6" y="320.80" font-size="12" fill="#000" stroke="#000" stroke-width="0.25">LTH</text>
<path d="M612.2,331.97 L641.1,331.97" stroke="#FF6400" stroke-width="1.1"/>
<path d="M618.92,331.97 L630.44,325.32 L630.44,338.62Z" fill="#FF6400"/>
<text x="644.6" y="336.37" font-size="12" fill="#000" stroke="#000" stroke-width="0.25">QPT</text>
<path d="M612.2,347.54 L641.1,347.54" stroke="#6496D2" stroke-width="1.1"/>
<path d="M634.28,347.54 L622.76,354.19 L622.76,340.89Z" fill="#6496D2"/>
<text x="644.6" y="351.94" font-size="12" fill="#000" stroke="#000" stroke-width="0.25">QPH</text>
<path d="M612.2,363.11 L641.1,363.11" stroke="#6EB914" stroke-width="1.1"/>
<path d="M626.60,357.01 L631.88,360.06 L631.88,366.16 L626.60,369.21 L621.32,366.16 L621.32,360.06Z" fill="#6EB914"/>
<text x="644.6" y="367.51" font-size="12" fill="#000" stroke="#000" stroke-width="0.25">QTH</text>
<path d="M612.2,378.68 L641.1,378.68" stroke="#505050" stroke-width="1.1"/>
<path d="M626.60,372.48 L628.36,376.55 L632.78,376.97 L629.45,379.91 L630.42,384.24 L626.60,381.98 L622.78,384.24 L623.75,379.91 L620.42,376.97 L624.84,376.55Z" fill="#505050"/>
<text x="644.6" y="383.08" font-size="12" fill="#000" stroke="#000" stroke-width="0.25">PTH</text>
<path d="M612.2,394.25 L641.1,394.25" stroke="#F03C3C" stroke-width="1.1"/>
<path d="M626.60,388.45 L632.69,392.87 L630.36,400.03 L622.84,400.03 L620.51,392.87Z" fill="#F546A5"/>
<text x="644.6" y="398.65" font-size="12" fill="#000" stroke="#000" stroke-width="0.25">LQPT</text>
<path d="M612.2,409.82 L641.1,409.82" stroke="#1E6EE1" stroke-width="1.1"/>
<circle cx="626.60" cy="409.82" r="5.5" fill="url(#g_blue)"/>
<text x="644.6" y="414.22" font-size="12" fill="#000" stroke="#000" stroke-width="0.25">LQPH</text>
<path d="M612.2,425.39 L641.1,425.39" stroke="#3CAF69" stroke-width="1.1"/>
<path d="M620.60,425.39 L632.60,425.39 M626.60,419.39 L626.60,431.39" stroke="#3CAF69" stroke-width="1.3" fill="none"/>
<text x="644.6" y="429.79" font-size="12" fill="#000" stroke="#000" stroke-width="0.25">LQTH</text>
<path d="M612.2,440.96 L641.1,440.96" stroke="#AF78E1" stroke-width="1.1"/>
<path d="M621.10,435.46 L632.10,446.46 M621.10,446.46 L632.10,435.46" stroke="#AF78E1" stroke-width="1.3" fill="none"/>
<text x="644.6" y="445.36" font-size="12" fill="#000" stroke="#000" stroke-width="0.25">LPTH</text>
<path d="M612.2,456.53 L641.1,456.53" stroke="#C8960A" stroke-width="1.1"/>
<path d="M620.60,456.53 L632.60,456.53 M626.60,450.53 L626.60,462.53 M622.00,451.93 L631.20,461.13 M622.00,461.13 L631.20,451.93" stroke="#C8960A" stroke-width="1.3" fill="none"/>
<text x="644.6" y="460.93" font-size="12" fill="#000" stroke="#000" stroke-width="0.25">QPTH</text>
<path d="M612.2,472.10 L641.1,472.10" stroke="#14CDCD" stroke-width="1.1"/>
<path d="M620.60,472.10 L632.60,472.10" stroke="#14CDCD" stroke-width="1.5" fill="none"/>
<text x="644.6" y="476.50" font-size="12" fill="#000" stroke="#000" stroke-width="0.25">LQPTH</text>
</svg></body></html>
